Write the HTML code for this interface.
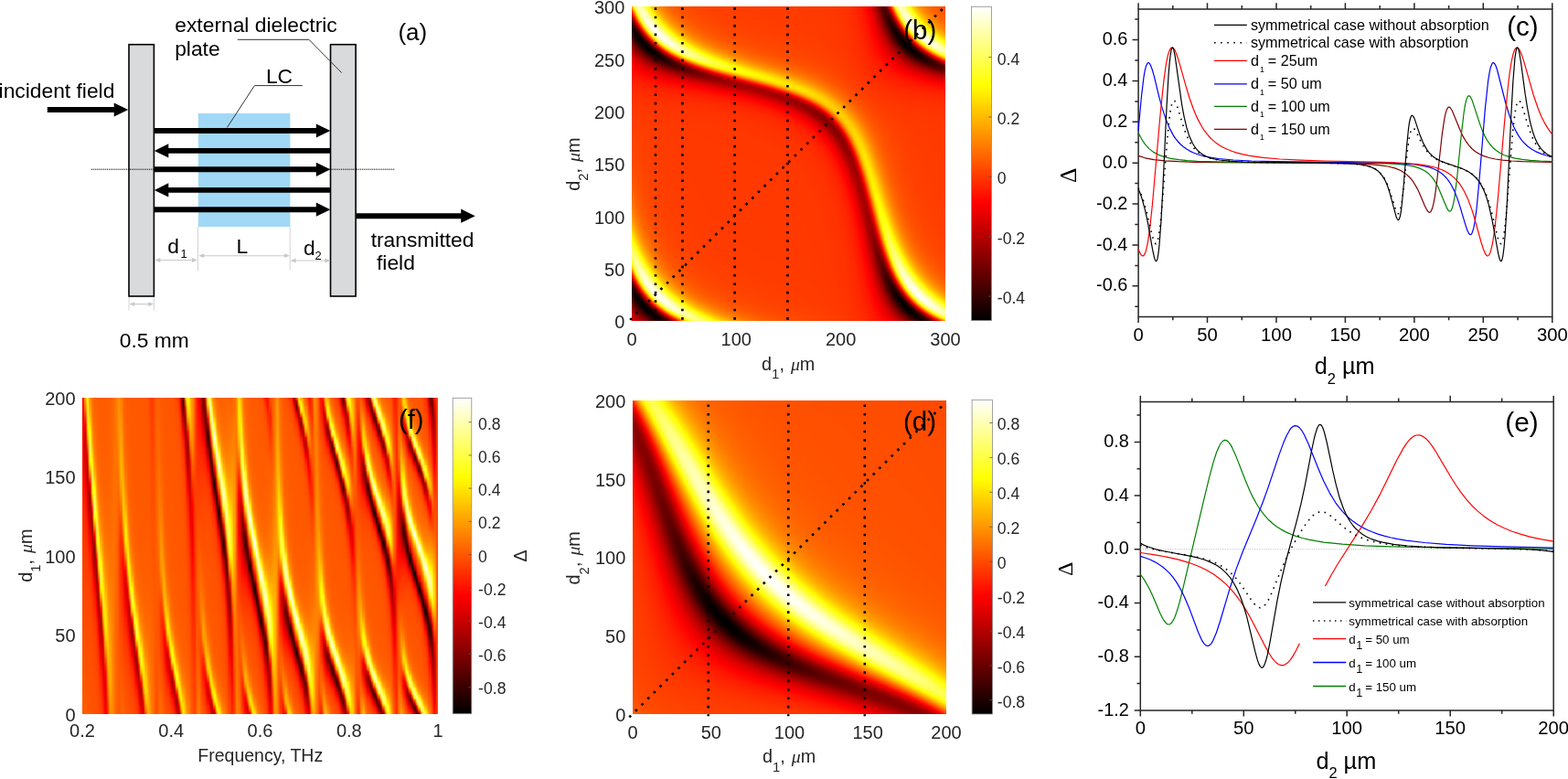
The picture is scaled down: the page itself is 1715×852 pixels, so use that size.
<!DOCTYPE html><html><head><meta charset="utf-8"><title>Figure</title><style>html,body{margin:0;padding:0;background:#fff;}#wrap{position:relative;width:1715px;height:852px;overflow:hidden;background:#fff;}canvas{position:absolute;display:block;}#cb{left:691px;top:7px;background:#ff4000;}#cd{left:692px;top:438px;background:#ff5a00;}#cf{left:90px;top:435px;background:#ff6400;}svg{position:absolute;left:0;top:0;}.fb{position:absolute;overflow:hidden;}.fb div{position:absolute;left:0;width:100%;}</style></head><body><div id="wrap">
<div class="fb" style="left:691px;top:7px;width:343px;height:344px"><div style="top:0px;height:4px;background:linear-gradient(90deg,#ff8c00 0px,#ffe601 2px,#fffd1b 4px,#ffff93 6px,#ffffb7 10px,#ffff97 12px,#fffe12 18px,#ffee00 20px,#ffad00 26px,#ff8000 34px,#ff5000 54px,#ff3f00 92px,#ff3400 228px,#ff2300 246px,#ff0100 258px,#d40000 264px,#680000 272px,#510000 276px,#580000 278px,#770000 280px,#d90000 282px,#f70d00 284px,#ff3400 284px,#ffec04 288px,#fffe21 290px,#ffff97 292px,#ffffb6 296px,#ffff94 298px,#fff703 306px,#ffab00 312px,#ff7f00 320px,#ff4e00 342px)"></div><div style="top:4px;height:4px;background:linear-gradient(90deg,#ff3200 0px,#ffeb05 4px,#ffff54 6px,#ffff9e 8px,#ffffc5 12px,#ffffa8 14px,#ffff22 20px,#fff703 22px,#ffad00 30px,#ff8100 36px,#ff5100 58px,#ff4000 96px,#ff3400 228px,#ff2500 246px,#f90000 260px,#cb0000 266px,#5b0000 274px,#480000 278px,#520000 280px,#770000 282px,#de0000 284px,#f91100 286px,#fff007 290px,#ffff2a 292px,#ffffa3 294px,#ffffc4 298px,#ffffa5 300px,#ffff1f 306px,#fff503 308px,#ffb400 314px,#ff8500 322px,#ff5200 342px)"></div><div style="top:8px;height:4px;background:linear-gradient(90deg,#d60000 0px,#f40d00 2px,#ff3200 2px,#ffea06 6px,#ffff57 8px,#ffffa4 10px,#ffffd1 14px,#ffffbb 16px,#fffd0f 24px,#ffec00 26px,#ffaf00 32px,#ff8400 40px,#ff5100 62px,#ff4000 100px,#ff3400 230px,#ff2400 248px,#f90000 260px,#c10000 268px,#4e0000 276px,#3f0000 280px,#4c0000 282px,#730000 284px,#dd0000 286px,#f81100 288px,#ffef09 292px,#ffff2c 294px,#ffffa9 296px,#ffffd2 300px,#ffffb8 302px,#ffff1e 310px,#fff503 312px,#ffb600 318px,#ff8700 324px,#ff5700 342px)"></div><div style="top:12px;height:4px;background:linear-gradient(90deg,#840000 0px,#f00a00 4px,#ff2a00 4px,#ffe304 8px,#fffa1f 10px,#ffff4f 10px,#ffffbe 14px,#ffffde 16px,#ffffc0 20px,#fffe13 28px,#fff001 30px,#ffb300 36px,#ff8300 44px,#ff5200 66px,#ff4100 104px,#ff3400 230px,#ff2500 248px,#f80000 262px,#c20000 268px,#430000 278px,#350000 282px,#440000 284px,#6c0000 286px,#d50000 288px,#f30e00 290px,#ffe907 294px,#fffc26 296px,#ffffa7 298px,#ffffd3 300px,#ffffdd 302px,#ffffbd 306px,#ffff23 312px,#fff705 314px,#ffba00 320px,#ff9000 326px,#ff5e00 342px)"></div><div style="top:16px;height:4px;background:linear-gradient(90deg,#460000 0px,#770000 2px,#e50500 6px,#fa1d00 6px,#ffd500 10px,#ffff3a 12px,#ffffb7 16px,#ffffdf 18px,#ffffe7 20px,#ffffb5 24px,#ffff1c 30px,#ffeb00 34px,#ffb200 40px,#ff8400 48px,#ff5400 70px,#ff4200 108px,#ff3400 230px,#ff2500 248px,#f80000 262px,#c40000 270px,#440000 280px,#2b0000 284px,#390000 286px,#600000 288px,#ea0700 292px,#fc2300 292px,#ffdb02 296px,#fff618 298px,#ffff42 298px,#ffffbb 302px,#ffffe7 304px,#ffffe0 306px,#ffffc5 308px,#fffe19 316px,#fff303 318px,#ff9c00 328px,#ff6700 342px)"></div><div style="top:20px;height:4px;background:linear-gradient(90deg,#240000 0px,#390000 2px,#650000 4px,#d10000 8px,#ef0e00 8px,#fe2d00 10px,#ffe006 14px,#ffff4a 16px,#ffffc1 18px,#ffffe7 20px,#ffffef 22px,#ffffc1 26px,#fffe19 34px,#ffea00 38px,#ffb300 44px,#ff8600 52px,#ff5400 74px,#ff4300 112px,#ff3400 232px,#ff2400 250px,#f90000 264px,#c70000 270px,#3c0000 282px,#210000 286px,#2d0000 288px,#500000 290px,#d70100 294px,#ff3400 296px,#ffe508 300px,#ffff53 302px,#ffffc5 304px,#ffffe9 306px,#ffffef 308px,#ffffcf 312px,#ffff28 320px,#fff203 322px,#ffa400 332px,#ff7400 342px)"></div><div style="top:24px;height:4px;background:linear-gradient(90deg,#1c0000 0px,#1f0000 4px,#390000 6px,#6b0000 8px,#d70200 10px,#ff3300 12px,#ffe008 16px,#ffff49 18px,#ffffbf 22px,#ffffe8 24px,#fffff4 26px,#ffffcf 30px,#fffe1b 38px,#ffed00 42px,#ffb000 48px,#ff8600 56px,#ff5700 78px,#ff4400 116px,#ff3400 232px,#ff2400 250px,#fa0000 264px,#c10000 272px,#2b0000 284px,#180000 288px,#200000 290px,#3d0000 292px,#700000 294px,#dc0400 296px,#ff3b00 298px,#ffc300 302px,#fff927 304px,#ffffc3 308px,#ffffea 310px,#fffff4 312px,#ffffcd 316px,#ffff2a 324px,#fff404 326px,#ffaf00 334px,#ff8600 342px)"></div><div style="top:28px;height:4px;background:linear-gradient(90deg,#2a0000 0px,#100000 4px,#260000 8px,#690000 10px,#d30200 14px,#fc2f00 16px,#ffd505 20px,#fffc3a 22px,#ffff8d 24px,#ffffca 26px,#ffffec 28px,#fffff5 30px,#ffffd0 34px,#fffd15 44px,#ffea00 46px,#ffb100 54px,#ff8800 62px,#ff5800 84px,#ff4400 122px,#ff3400 234px,#ff2200 252px,#ff0100 264px,#c60000 274px,#280000 286px,#100000 290px,#1b0000 292px,#3a0000 294px,#6e0000 296px,#d80400 300px,#fe3400 302px,#ffda07 306px,#fffe3f 308px,#ffff93 310px,#ffffce 312px,#ffffee 314px,#fffff5 316px,#ffffcd 320px,#ffff20 328px,#fff709 330px,#ff9e00 342px)"></div><div style="top:32px;height:4px;background:linear-gradient(90deg,#450000 0px,#0f0000 6px,#140000 10px,#450000 12px,#c40000 16px,#f61f00 18px,#ffbc00 22px,#ffdc0a 24px,#fffc3f 26px,#ffff8c 28px,#ffffc6 30px,#ffffe6 32px,#fffff1 34px,#ffffd3 38px,#ffff22 48px,#ffec00 52px,#ffb500 58px,#ff8900 68px,#ff5a00 90px,#ff4600 126px,#ff3400 234px,#ff2200 254px,#ff0200 266px,#c40000 276px,#1e0000 290px,#0a0000 294px,#330000 298px,#630000 300px,#e60c00 304px,#ff4700 306px,#ffc200 308px,#ffe00c 310px,#fffe45 312px,#ffff92 314px,#ffffc9 316px,#ffffe8 318px,#fffff1 320px,#ffffd1 324px,#fffc13 334px,#ffea00 338px,#ffc100 342px)"></div><div style="top:36px;height:4px;background:linear-gradient(90deg,#650000 0px,#120000 8px,#070000 12px,#360000 16px,#c90100 20px,#ff4000 24px,#ffd307 28px,#ffff51 30px,#ffff96 32px,#ffffc5 34px,#ffffe7 38px,#ffffbe 44px,#fffe1b 54px,#ffe900 58px,#ffb600 64px,#ff8c00 74px,#ff5c00 96px,#ff4800 132px,#ff3300 236px,#ff2200 254px,#fe0100 268px,#bb0000 278px,#1a0000 292px,#050000 296px,#180000 300px,#3a0000 302px,#ce0300 306px,#f72600 308px,#ffba00 312px,#ffec1c 314px,#ffff58 316px,#ffffb4 320px,#ffffd7 322px,#ffffe7 324px,#ffffc9 328px,#ffff26 338px,#ffef02 342px)"></div><div style="top:40px;height:4px;background:linear-gradient(90deg,#850000 0px,#130000 10px,#070000 16px,#370000 20px,#da0800 26px,#ff5000 28px,#ffd509 32px,#fff62f 34px,#ffff69 36px,#ffffc2 40px,#ffffd7 44px,#ffffaf 50px,#fffe1b 60px,#ffec01 64px,#ffb500 72px,#ff8e00 80px,#ff5f00 104px,#ff4900 138px,#ff3300 238px,#ff2200 256px,#ff0200 268px,#be0000 280px,#1a0000 296px,#030000 300px,#0f0000 302px,#280000 304px,#690000 308px,#c50100 310px,#fb3600 314px,#ffc000 318px,#ffeb1d 320px,#ffff4e 322px,#ffffb6 326px,#ffffd8 330px,#ffffb9 334px,#ffff44 342px)"></div><div style="top:44px;height:4px;background:linear-gradient(90deg,#a30000 0px,#1a0000 14px,#050000 18px,#310000 24px,#db0a00 30px,#ff4800 34px,#ffc403 38px,#fff62f 40px,#ffff5f 42px,#ffffad 46px,#ffffc2 50px,#ffffa4 56px,#fffd18 66px,#ffe500 72px,#ff8f00 88px,#ff6100 112px,#ff3200 240px,#ff2000 258px,#ff0200 270px,#bb0000 284px,#220000 298px,#050000 304px,#0e0000 306px,#340000 310px,#c80200 316px,#f93300 318px,#ffc805 324px,#fff733 326px,#ffff91 330px,#ffffbf 334px,#ffffbb 338px,#ffff97 342px)"></div><div style="top:48px;height:4px;background:linear-gradient(90deg,#bd0000 0px,#200000 18px,#0b0000 24px,#1d0000 26px,#450000 30px,#b70000 34px,#e10e00 36px,#ff4800 40px,#ffb800 44px,#ffeb1e 46px,#ffff51 50px,#ffff93 54px,#ffffa7 58px,#ffff91 62px,#fffd1a 74px,#ffea00 78px,#ff9300 96px,#ff6500 120px,#ff3200 242px,#ff0200 272px,#c30000 286px,#1f0000 304px,#0a0000 308px,#150000 312px,#380000 314px,#bb0000 320px,#e31100 322px,#ff4d00 326px,#ffbc00 330px,#ffed20 332px,#ffff89 338px,#ffffa6 342px)"></div><div style="top:52px;height:4px;background:linear-gradient(90deg,#d30000 0px,#270000 22px,#140000 28px,#400000 34px,#d80900 42px,#ff4900 46px,#ffaa00 50px,#ffdf0e 54px,#ffff4e 58px,#ffff7c 62px,#ffff88 66px,#ffff74 72px,#fffe19 82px,#ffed01 86px,#ff9700 106px,#ff6600 130px,#ff3100 244px,#fe0100 276px,#c10000 290px,#2d0000 308px,#140000 314px,#360000 320px,#620000 322px,#b50000 326px,#e81700 330px,#ff4d00 332px,#ffc202 338px,#fff935 342px)"></div><div style="top:56px;height:4px;background:linear-gradient(90deg,#e50000 0px,#ac0000 12px,#370000 28px,#220000 34px,#440000 40px,#e10d00 50px,#ff4600 54px,#ffac00 60px,#ffd90a 62px,#ffff47 70px,#ffff62 74px,#ffff63 78px,#ffff1c 90px,#ffea00 96px,#ff9800 116px,#ff6800 142px,#ff2f00 248px,#fe0200 278px,#c90000 292px,#360000 314px,#220000 320px,#460000 326px,#c60200 334px,#f52800 338px,#ff7400 342px)"></div><div style="top:60px;height:4px;background:linear-gradient(90deg,#f40000 0px,#bc0000 14px,#440000 34px,#340000 40px,#560000 48px,#da0900 58px,#fd4000 64px,#ffce04 72px,#fff41b 78px,#ffff32 82px,#ffff43 90px,#fffb0b 102px,#ff9a00 128px,#ff6a00 152px,#ff2d00 252px,#ff0300 282px,#cf0000 296px,#480000 320px,#340000 326px,#580000 334px,#c30000 342px)"></div><div style="top:64px;height:4px;background:linear-gradient(90deg,#fe0200 0px,#d50000 16px,#5d0000 40px,#490000 48px,#670000 58px,#c90000 66px,#ff4100 74px,#ffb000 82px,#ffe708 88px,#ffff26 100px,#ffff12 108px,#ffee00 116px,#ff9c00 140px,#ff6e00 162px,#ff2a00 258px,#fe0200 286px,#cd0000 304px,#4e0000 330px,#4a0000 336px,#610000 342px)"></div><div style="top:68px;height:4px;background:linear-gradient(90deg,#ff0c00 0px,#e40000 18px,#700000 50px,#5f0000 58px,#770000 68px,#cc0000 78px,#ff3d00 86px,#ffa700 96px,#ffda01 102px,#fffa0b 110px,#ffff09 118px,#fff200 126px,#ff9700 154px,#ff6d00 176px,#ff2500 266px,#fe0200 292px,#d80000 308px,#600000 342px)"></div><div style="top:72px;height:4px;background:linear-gradient(90deg,#ff1400 0px,#f30000 22px,#750000 68px,#890000 80px,#d40200 90px,#fd3600 100px,#ff9d00 110px,#ffd300 116px,#fffb00 130px,#ffef00 138px,#ff9300 168px,#ff6700 190px,#fe0300 300px,#dc0000 318px,#8d0000 342px)"></div><div style="top:76px;height:4px;background:linear-gradient(90deg,#ff1b00 0px,#f70000 30px,#890000 82px,#970000 92px,#d30000 104px,#ff3800 114px,#ffcb00 132px,#ffe900 138px,#fff100 146px,#ffe100 156px,#ff8000 188px,#ff5600 212px,#fe0300 310px,#bf0000 342px)"></div><div style="top:80px;height:4px;background:linear-gradient(90deg,#ff2100 0px,#fa0100 42px,#980000 98px,#a60000 108px,#d80100 118px,#f92000 126px,#ffc700 146px,#ffe200 152px,#ffeb00 160px,#ffdc00 168px,#ff7c00 198px,#ff5200 222px,#ff0600 320px,#e50000 342px)"></div><div style="top:84px;height:4px;background:linear-gradient(90deg,#ff2600 0px,#fa0100 60px,#a20000 114px,#ac0000 124px,#d90100 134px,#f92100 142px,#ffc500 160px,#ffe600 172px,#ffd700 180px,#ff7600 208px,#ff4e00 230px,#fc0200 342px)"></div><div style="top:88px;height:4px;background:linear-gradient(90deg,#ff2a00 0px,#fb0200 78px,#a70000 130px,#b10000 140px,#d60000 148px,#f92000 156px,#ffc000 172px,#ffe200 182px,#ffd300 190px,#ff7200 216px,#ff4b00 236px,#ff1100 342px)"></div><div style="top:92px;height:4px;background:linear-gradient(90deg,#ff2e00 0px,#fd0400 94px,#a70000 146px,#b00000 154px,#d90100 162px,#fa2200 168px,#ffbd00 184px,#ffdd00 192px,#ffcf00 200px,#ff6e00 224px,#ff4800 242px,#ff1d00 342px)"></div><div style="top:96px;height:4px;background:linear-gradient(90deg,#ff3100 0px,#ff2000 74px,#fd0400 114px,#a30000 160px,#ad0000 166px,#d80000 174px,#f92000 180px,#ffb700 192px,#ffd800 200px,#ffcd00 206px,#ff6b00 230px,#ff4700 248px,#ff2500 342px)"></div><div style="top:100px;height:4px;background:linear-gradient(90deg,#ff3300 0px,#ff2300 88px,#fd0400 130px,#9e0000 172px,#a80000 178px,#d20000 184px,#f71800 188px,#ffbb00 202px,#ffd400 208px,#ff6d00 234px,#ff4800 250px,#ff2b00 342px)"></div><div style="top:104px;height:4px;background:linear-gradient(90deg,#ff3600 0px,#ff2600 100px,#fe0400 144px,#e80000 156px,#980000 182px,#a60000 188px,#d20000 192px,#fa2000 198px,#ffb100 208px,#ffd100 214px,#ff6d00 238px,#ff4800 254px,#ff2e00 342px)"></div><div style="top:108px;height:4px;background:linear-gradient(90deg,#ff3800 0px,#ff2800 112px,#fe0400 156px,#e90000 166px,#920000 190px,#a20000 196px,#d70000 200px,#ff2e00 206px,#ffaf00 214px,#ffce00 220px,#ff6d00 242px,#ff4900 258px,#ff3100 342px)"></div><div style="top:112px;height:4px;background:linear-gradient(90deg,#ff3900 0px,#ff2a00 122px,#fe0500 164px,#e90000 174px,#8d0000 198px,#a00000 202px,#d00000 206px,#fb1f00 210px,#ffac00 218px,#ffcd00 224px,#ff6e00 244px,#ff4900 260px,#ff3300 342px)"></div><div style="top:116px;height:4px;background:linear-gradient(90deg,#ff3b00 0px,#ff2c00 130px,#ff0700 172px,#e80000 182px,#890000 204px,#a00000 208px,#da0000 212px,#fb1d00 216px,#ffa600 222px,#ffc400 226px,#ffcd00 228px,#ff7000 248px,#ff4b00 262px,#ff3500 342px)"></div><div style="top:120px;height:4px;background:linear-gradient(90deg,#ff3d00 0px,#ff2d00 140px,#ff0600 180px,#e70000 190px,#860000 208px,#950000 212px,#cd0000 216px,#ef0800 218px,#ff2800 220px,#ff8500 224px,#ffb500 228px,#ffce00 232px,#ff7000 250px,#ff4d00 264px,#ff3600 342px)"></div><div style="top:124px;height:4px;background:linear-gradient(90deg,#ff3e00 0px,#ff2e00 148px,#ff2000 172px,#fe0500 188px,#e60000 196px,#900000 210px,#850000 214px,#9c0000 218px,#cc0000 220px,#fb1800 224px,#ffb100 230px,#ffd000 236px,#ff7300 252px,#ff4e00 266px,#ff3700 342px)"></div><div style="top:128px;height:4px;background:linear-gradient(90deg,#ff3f00 0px,#ff2f00 154px,#ff2100 178px,#ff0600 192px,#e60000 200px,#910000 214px,#850000 218px,#9f0000 222px,#d60000 224px,#ff2500 228px,#ff7600 230px,#ffb200 234px,#ffd200 238px,#ff7100 256px,#ff4e00 268px,#ff3800 342px)"></div><div style="top:132px;height:4px;background:linear-gradient(90deg,#ff4100 0px,#ff3000 160px,#ff2300 182px,#ff0700 198px,#e90000 204px,#850000 220px,#9c0000 224px,#d40000 228px,#fa0f00 230px,#ff2700 230px,#ff7b00 234px,#ffb800 236px,#ffd400 240px,#ff7200 258px,#ff4f00 270px,#ff3800 342px)"></div><div style="top:136px;height:4px;background:linear-gradient(90deg,#ff4200 0px,#ff3100 166px,#ff2200 188px,#ff0500 202px,#e40000 210px,#870000 224px,#9f0000 228px,#da0000 230px,#fd1500 232px,#ffb200 238px,#ffcc00 240px,#ffd700 244px,#ff7300 260px,#ff4f00 272px,#ff3900 342px)"></div><div style="top:140px;height:4px;background:linear-gradient(90deg,#ff4300 0px,#ff3100 170px,#ff2300 192px,#ff0500 206px,#e70000 212px,#890000 226px,#a60000 230px,#e80100 234px,#ff2500 236px,#ffaf00 240px,#ffcc00 242px,#ffda00 246px,#ff7800 260px,#ff5100 274px,#ff3f00 296px,#ff3900 342px)"></div><div style="top:144px;height:4px;background:linear-gradient(90deg,#ff4500 0px,#ff3200 174px,#ff2400 196px,#ff0600 210px,#ee0000 214px,#940000 226px,#8c0000 230px,#a20000 232px,#e20000 236px,#ff1f00 238px,#ffaf00 242px,#ffce00 244px,#ffdc00 248px,#ff7800 262px,#ff5200 274px,#ff3f00 296px,#ff3900 342px)"></div><div style="top:148px;height:4px;background:linear-gradient(90deg,#ff4600 0px,#ff3200 180px,#ff2300 200px,#ff0400 214px,#8e0000 232px,#a20000 234px,#e10000 238px,#ff1f00 240px,#ffb200 244px,#ffd100 246px,#ffde00 250px,#ff7600 264px,#ff5100 276px,#ff4000 298px,#ff3a00 342px)"></div><div style="top:152px;height:4px;background:linear-gradient(90deg,#ff4700 0px,#ff3200 182px,#ff2400 204px,#ff0700 216px,#ed0000 220px,#910000 234px,#a40000 236px,#e40000 240px,#ff2400 242px,#ffb800 246px,#ffe000 250px,#ffd600 254px,#ff7a00 266px,#ff5200 278px,#ff4000 298px,#ff3a00 342px)"></div><div style="top:156px;height:4px;background:linear-gradient(90deg,#ff4900 0px,#ff3300 186px,#ff2400 206px,#ff0500 218px,#f00000 222px,#930000 236px,#a80000 238px,#ec0000 242px,#fd0e00 242px,#ff9000 246px,#ffc000 248px,#ffe200 252px,#ff7d00 266px,#ff5300 278px,#ff4000 300px,#ff3a00 342px)"></div><div style="top:160px;height:4px;background:linear-gradient(90deg,#ff4a00 0px,#ff3200 190px,#ff2400 210px,#ff0300 222px,#960000 238px,#af0000 240px,#da0000 242px,#ff1800 244px,#ffb500 250px,#ffd700 252px,#ffe400 254px,#ffda00 256px,#ff7a00 268px,#ff5400 280px,#ff4100 300px,#ff3a00 342px)"></div><div style="top:164px;height:4px;background:linear-gradient(90deg,#ff4c00 0px,#ff3c00 36px,#ff3300 192px,#ff2500 212px,#ff0400 224px,#990000 238px,#a80000 242px,#e70000 244px,#fc0a00 246px,#ff8e00 250px,#ffc100 252px,#ffde00 254px,#ffe600 256px,#ff7c00 270px,#ff5500 280px,#ff4100 300px,#ff3a00 342px)"></div><div style="top:168px;height:4px;background:linear-gradient(90deg,#ff4d00 0px,#ff3c00 36px,#ff3300 194px,#ff2500 214px,#ff0400 226px,#9b0000 240px,#b00000 244px,#db0000 246px,#f50200 246px,#ff1900 248px,#ffba00 252px,#ffdc00 254px,#ffe800 256px,#ffdc00 260px,#ff7e00 270px,#ff5600 282px,#ff4100 302px,#ff3a00 342px)"></div><div style="top:172px;height:4px;background:linear-gradient(90deg,#ff4f00 0px,#ff3c00 36px,#ff3300 198px,#ff2400 216px,#ff0300 228px,#9d0000 242px,#ac0000 244px,#ec0000 248px,#fe0e00 248px,#ff9600 252px,#ffc800 254px,#ffe300 256px,#ffe900 258px,#ff8000 272px,#ff5600 282px,#ff4200 302px,#ff3a00 342px)"></div><div style="top:176px;height:4px;background:linear-gradient(90deg,#ff5100 0px,#ff3d00 36px,#ff3300 200px,#ff2400 218px,#ff0200 230px,#9f0000 244px,#b70000 246px,#e30000 248px,#fb0600 250px,#ffc300 256px,#ffe200 258px,#ffeb00 260px,#ff8200 272px,#ff5700 284px,#ff4200 302px,#ff3b00 342px)"></div><div style="top:180px;height:4px;background:linear-gradient(90deg,#ff5300 0px,#ff3d00 36px,#ff3300 202px,#ff2500 220px,#ff0500 230px,#a10000 244px,#b30000 248px,#dc0000 250px,#f70200 250px,#ff1b00 252px,#ffbf00 256px,#ffe100 258px,#ffed00 260px,#ff7d00 274px,#ff5700 284px,#ff4200 304px,#ff3b00 342px)"></div><div style="top:184px;height:4px;background:linear-gradient(90deg,#ff5600 0px,#ff3d00 36px,#ff3300 204px,#ff2500 222px,#ff0300 232px,#a20000 246px,#b10000 248px,#f20000 252px,#ff1400 252px,#ffbb00 258px,#ffe000 260px,#ffee00 262px,#ffe200 264px,#ff7f00 276px,#ff5800 286px,#ff4200 304px,#ff3b00 342px)"></div><div style="top:188px;height:4px;background:linear-gradient(90deg,#ff5900 0px,#ff3d00 36px,#ff3300 206px,#ff2600 222px,#ff0500 234px,#a30000 248px,#be0000 250px,#ed0000 252px,#ff0e00 254px,#ff9a00 258px,#ffce00 260px,#ffea00 262px,#fff000 264px,#ff8000 276px,#ff5800 286px,#ff4300 304px,#ff3b00 342px)"></div><div style="top:192px;height:4px;background:linear-gradient(90deg,#ff5c00 0px,#ff3e00 36px,#ff3300 208px,#ff2500 224px,#ff0200 236px,#a40000 248px,#bb0000 252px,#e90000 254px,#fe0a00 254px,#ff9600 258px,#ffcd00 260px,#ffeb00 262px,#fff200 264px,#ff8200 278px,#ff5900 288px,#ff4300 306px,#ff3b00 342px)"></div><div style="top:196px;height:4px;background:linear-gradient(90deg,#ff5f00 0px,#ff4800 14px,#ff3e00 36px,#ff3300 210px,#ff2400 226px,#ff0400 236px,#a50000 250px,#b90000 252px,#e50000 254px,#fd0700 256px,#ffcb00 262px,#ffec00 264px,#fff400 266px,#ff8300 278px,#ff5900 288px,#ff4300 306px,#ff3b00 342px)"></div><div style="top:200px;height:4px;background:linear-gradient(90deg,#ff6300 0px,#ff4a00 14px,#ff3e00 36px,#ff3300 212px,#ff2500 228px,#ff0500 238px,#a50000 250px,#b80000 254px,#e20000 256px,#fb0500 256px,#ffcb00 262px,#ffed00 264px,#fff600 266px,#ff8500 280px,#ff5a00 290px,#ff4300 308px,#ff3b00 342px)"></div><div style="top:204px;height:4px;background:linear-gradient(90deg,#ff6800 0px,#ff4b00 14px,#ff3f00 36px,#ff3300 212px,#ff2500 228px,#ff0600 238px,#a50000 252px,#b60000 254px,#e00000 256px,#fa0300 258px,#ff2000 258px,#ffca00 264px,#ffee00 266px,#fff900 268px,#ffe800 270px,#ff8600 280px,#ff5b00 290px,#ff4400 308px,#ff3c00 342px)"></div><div style="top:208px;height:4px;background:linear-gradient(90deg,#ff6d00 0px,#ff4d00 14px,#ff3f00 36px,#ff3200 216px,#ff2400 230px,#ff0100 240px,#a50000 252px,#b50000 256px,#de0000 258px,#f90200 258px,#ff1e00 260px,#ffca00 264px,#ffef00 266px,#fffb00 268px,#ffec00 272px,#ff8800 282px,#ff5b00 292px,#ff4400 308px,#ff3c00 342px)"></div><div style="top:212px;height:4px;background:linear-gradient(90deg,#ff7300 0px,#ff4f00 14px,#ff4000 36px,#ff3300 216px,#ff2400 232px,#ff0200 242px,#a50000 254px,#b40000 256px,#dc0000 258px,#f70200 260px,#ff1c00 260px,#ffca00 266px,#fff100 268px,#fffe00 270px,#ffef00 272px,#ff8a00 282px,#ff5c00 292px,#ff4500 310px,#ff3c00 342px)"></div><div style="top:216px;height:4px;background:linear-gradient(90deg,#ff7a00 0px,#ff5400 12px,#ff4300 28px,#ff3400 212px,#ff2600 232px,#ff0200 242px,#ae0000 252px,#a30000 256px,#b20000 258px,#da0000 260px,#f50100 260px,#ff1900 262px,#ffad00 266px,#ffe200 268px,#ffff04 270px,#fff300 274px,#ff8500 284px,#ff5d00 294px,#ff4500 310px,#ff3c00 342px)"></div><div style="top:220px;height:4px;background:linear-gradient(90deg,#ff8200 0px,#ff5700 12px,#ff4300 30px,#ff3500 214px,#ff2600 232px,#ff0200 244px,#a20000 256px,#b00000 258px,#d80000 260px,#f40100 262px,#ff1700 262px,#ffac00 266px,#ffe300 268px,#ffff02 270px,#ffff08 272px,#fff800 274px,#ff8700 286px,#ff5e00 294px,#ff4600 310px,#ff3c00 342px)"></div><div style="top:224px;height:4px;background:linear-gradient(90deg,#ff8b00 0px,#ff5a00 12px,#ff4400 30px,#ff3500 214px,#ff2600 234px,#ff0200 244px,#a10000 258px,#bf0000 260px,#f20000 262px,#ff1500 264px,#ffac00 268px,#ffe400 270px,#ffff06 272px,#ffff07 274px,#ff9100 286px,#ff5f00 296px,#ff4700 312px,#ff3d00 342px)"></div><div style="top:228px;height:4px;background:linear-gradient(90deg,#ff9600 0px,#ff5e00 12px,#ff4400 30px,#ff3500 216px,#ff2600 234px,#ff0100 246px,#9f0000 258px,#bc0000 262px,#f00000 264px,#ff1300 264px,#ffab00 268px,#ffe600 270px,#ffff0a 272px,#ffff0f 276px,#fff700 278px,#ff8c00 288px,#ff6100 296px,#ff4700 312px,#ff3d00 342px)"></div><div style="top:232px;height:4px;background:linear-gradient(90deg,#ffa200 0px,#ff6300 12px,#ff4600 30px,#ff3500 216px,#ff2700 234px,#ff0600 246px,#9c0000 260px,#b90000 262px,#ed0000 264px,#ff1000 266px,#ffab00 270px,#fffb01 272px,#ffff1a 274px,#ffff0c 278px,#ff9000 288px,#ff6200 298px,#ff4800 314px,#ff3d00 342px)"></div><div style="top:236px;height:4px;background:linear-gradient(90deg,#ffb100 0px,#ff8600 6px,#ff6400 12px,#ff4600 32px,#ff3500 218px,#ff2700 236px,#ff0500 246px,#9a0000 260px,#b60000 264px,#e90000 266px,#fe0d00 266px,#ffa900 270px,#fffc02 274px,#ffff20 276px,#ffff15 278px,#fff800 280px,#ff8c00 290px,#ff6100 300px,#ff4800 314px,#ff3e00 342px)"></div><div style="top:240px;height:4px;background:linear-gradient(90deg,#ffc100 0px,#ff8a00 6px,#ff6a00 12px,#ff4700 32px,#ff3500 218px,#ff2700 236px,#ff0400 248px,#970000 262px,#b20000 264px,#e50000 266px,#fd0a00 268px,#ffcb00 272px,#fffd04 274px,#ffff2c 278px,#ffff11 280px,#fff200 282px,#ff9000 292px,#ff6300 300px,#ff4900 316px,#ff3e00 342px)"></div><div style="top:244px;height:4px;background:linear-gradient(90deg,#ffd400 0px,#ff9500 6px,#ff7100 12px,#ff4800 32px,#ff3500 220px,#ff2600 238px,#ff0300 248px,#930000 262px,#ae0000 266px,#e00000 268px,#fc0700 268px,#ffc900 274px,#fffd05 276px,#ffff34 278px,#ffff2a 280px,#ffff0b 282px,#ff9400 292px,#ff6500 302px,#ff4a00 316px,#ff3e00 342px)"></div><div style="top:248px;height:4px;background:linear-gradient(90deg,#ffea00 0px,#ffa400 6px,#ff7400 14px,#ff4900 34px,#ff3400 220px,#ff2600 238px,#ff0200 250px,#8f0000 264px,#a90000 266px,#da0000 268px,#f80400 270px,#ffc700 274px,#fffd06 276px,#ffff3c 280px,#ffff35 282px,#ffff18 284px,#fff500 286px,#ff9100 294px,#ff6400 304px,#ff4b00 318px,#ff3f00 342px)"></div><div style="top:252px;height:4px;background:linear-gradient(90deg,#fffd06 0px,#ffa100 8px,#ff7300 16px,#ff5600 26px,#ff4500 42px,#ff3500 220px,#ff2500 240px,#ff0100 250px,#8b0000 264px,#a30000 268px,#d30000 270px,#f40200 270px,#ff1d00 272px,#ffc300 276px,#fffd07 278px,#ffff3a 280px,#ffff47 282px,#ffff14 286px,#fff100 288px,#ff9700 296px,#ff6700 304px,#ff4c00 318px,#ff4000 342px)"></div><div style="top:256px;height:4px;background:linear-gradient(90deg,#ffff28 0px,#fff000 4px,#ff9f00 10px,#ff7300 18px,#ff5600 28px,#ff4500 44px,#ff3500 220px,#ff2700 240px,#ff0500 250px,#eb0000 254px,#870000 266px,#9c0000 268px,#ed0000 272px,#ff1400 272px,#ffbd00 276px,#fffc06 278px,#ffff3e 280px,#ffff52 282px,#ffff45 284px,#ffff10 288px,#ffee00 290px,#ff9e00 296px,#ff6a00 306px,#ff4d00 320px,#ff4000 342px)"></div><div style="top:260px;height:4px;background:linear-gradient(90deg,#ffff4a 0px,#ffff11 4px,#ffee00 6px,#ff9e00 12px,#ff6f00 20px,#ff5500 30px,#ff4500 46px,#ff3500 222px,#ff2600 240px,#ff0400 252px,#e10000 256px,#820000 266px,#940000 270px,#e20000 272px,#fc0c00 274px,#ffb500 278px,#fffa05 280px,#ffff41 282px,#ffff5d 284px,#ffff55 286px,#ffff23 288px,#ffeb00 292px,#ff9d00 298px,#ff6a00 308px,#ff4f00 320px,#ff4100 342px)"></div><div style="top:264px;height:4px;background:linear-gradient(90deg,#ffff66 0px,#fff903 6px,#ffb000 12px,#ff7d00 20px,#ff4c00 40px,#ff3400 224px,#ff2600 242px,#fc0000 254px,#890000 266px,#7c0000 268px,#9e0000 272px,#f70500 274px,#fff502 280px,#ffff59 284px,#ffff6a 286px,#ffff5a 288px,#ffff22 290px,#fff702 292px,#ff9d00 300px,#ff6b00 310px,#ff5000 322px,#ff4200 342px)"></div><div style="top:268px;height:4px;background:linear-gradient(90deg,#ffff75 0px,#ffff62 4px,#ffff11 8px,#ffed00 10px,#ffa700 16px,#ff7e00 22px,#ff4d00 42px,#ff3e00 80px,#ff3400 224px,#ff2500 242px,#fb0000 254px,#850000 266px,#750000 270px,#920000 272px,#ec0100 276px,#ff1700 276px,#ffee00 282px,#ffff18 282px,#ffff5c 284px,#ffff76 286px,#ffff5f 290px,#ffff23 292px,#fff702 294px,#ffa600 302px,#ff7000 310px,#ff5300 322px,#ff4300 342px)"></div><div style="top:272px;height:4px;background:linear-gradient(90deg,#ffff6e 0px,#ffff83 2px,#ffff77 4px,#ffff13 10px,#ffef00 12px,#ffa900 18px,#ff7b00 24px,#ff4d00 44px,#ff3400 226px,#ff2400 244px,#fa0000 256px,#6e0000 270px,#860000 274px,#f90a00 278px,#ffe200 282px,#fffc0e 284px,#ffff72 286px,#ffff83 288px,#ffff65 292px,#ffff10 296px,#ffec00 298px,#ff9f00 304px,#ff7100 312px,#ff5400 324px,#ff4500 342px)"></div><div style="top:276px;height:4px;background:linear-gradient(90deg,#ffff4c 0px,#ffff82 2px,#ffff91 4px,#ffff80 6px,#ffff19 12px,#fff200 14px,#ffac00 20px,#ff7d00 26px,#ff4e00 46px,#ff3e00 84px,#ff3400 226px,#ff2600 244px,#f90000 256px,#d10000 262px,#740000 270px,#680000 272px,#8c0000 276px,#ec0200 278px,#ff1a00 280px,#fff505 284px,#ffff71 288px,#ffff91 290px,#ffff6d 294px,#ffff15 298px,#fff000 300px,#ffa200 306px,#ff7400 314px,#ff5700 326px,#ff4700 342px)"></div><div style="top:280px;height:4px;background:linear-gradient(90deg,#fffb0f 0px,#ffff80 4px,#ffff9e 6px,#ffff7a 10px,#fffd0d 14px,#ffe900 16px,#ffa800 22px,#ff7c00 30px,#ff4d00 52px,#ff3500 226px,#ff2500 244px,#ff0400 256px,#d90000 262px,#700000 270px,#5f0000 274px,#7c0000 276px,#d50000 280px,#f60900 280px,#ff2d00 282px,#ffe400 286px,#fffd15 286px,#ffff84 290px,#ffff9e 292px,#ffff89 294px,#ffff1d 300px,#fff401 302px,#ffa600 308px,#ff7700 316px,#ff5900 328px,#ff4900 342px)"></div><div style="top:284px;height:4px;background:linear-gradient(90deg,#ffc200 0px,#ffeb03 2px,#fffe1f 2px,#ffff92 6px,#ffffac 8px,#ffff98 10px,#ffff16 16px,#fff100 18px,#ffad00 24px,#ff8000 32px,#ff4f00 52px,#ff3f00 90px,#ff3400 226px,#ff2400 246px,#ff0300 256px,#d80000 262px,#6d0000 272px,#570000 274px,#5e0000 276px,#7e0000 278px,#e10000 282px,#fb1200 282px,#fff005 288px,#ffff7b 290px,#ffffad 294px,#ffff95 296px,#fffe13 302px,#ffee00 304px,#ffac00 310px,#ff7b00 318px,#ff4c00 342px)"></div><div style="top:288px;height:4px;background:linear-gradient(90deg,#ff6f00 0px,#fff208 4px,#ffff9f 8px,#ffffbb 10px,#ffff96 14px,#fffe11 20px,#ffed00 22px,#ffac00 28px,#ff7c00 36px,#ff4e00 58px,#ff3400 228px,#ff2400 246px,#ff0200 258px,#d70000 264px,#600000 274px,#4e0000 276px,#690000 280px,#c10000 282px,#e70200 284px,#fd1a00 284px,#ffd500 288px,#fff60d 290px,#ffff89 292px,#ffffbb 296px,#ffffa4 298px,#fff603 306px,#ffab00 314px,#ff7f00 320px,#ff4f00 342px)"></div><div style="top:292px;height:4px;background:linear-gradient(90deg,#fb1700 0px,#ffd200 4px,#fff40d 6px,#ffff35 6px,#ffffa9 10px,#ffffc9 12px,#ffffa8 16px,#fffd0f 22px,#ffeb00 24px,#ffad00 30px,#ff8200 38px,#ff5000 60px,#ff4000 98px,#ff3400 228px,#ff2500 246px,#fb0000 260px,#c40000 266px,#530000 276px,#450000 278px,#660000 282px,#e90400 286px,#fd1d00 286px,#ffd900 290px,#fff712 292px,#ffff3d 292px,#ffffad 296px,#ffffc8 298px,#ffffa5 302px,#ffff1e 308px,#fff503 310px,#ffb400 316px,#ff8600 322px,#ff5300 342px)"></div><div style="top:296px;height:4px;background:linear-gradient(90deg,#b90000 0px,#fa1600 2px,#ffcf00 6px,#fff20d 8px,#ffff33 8px,#ffffae 12px,#ffffd6 14px,#ffffbc 18px,#ffff23 24px,#ffed00 28px,#ffb000 34px,#ff8000 42px,#ff5200 62px,#ff4100 100px,#ff3400 230px,#ff2400 248px,#fa0000 260px,#c40000 268px,#520000 276px,#3c0000 280px,#420000 282px,#610000 284px,#e60400 288px,#fc1c00 288px,#ffd700 292px,#fff512 294px,#ffff3c 294px,#ffffb2 298px,#ffffd6 300px,#ffffb9 304px,#ffff1f 310px,#fff603 312px,#ffb700 318px,#ff8e00 324px,#ff5900 342px)"></div><div style="top:300px;height:4px;background:linear-gradient(90deg,#6d0000 0px,#d80000 4px,#f41000 4px,#ffeb08 10px,#ffff5a 12px,#ffffc5 14px,#ffffe1 18px,#ffffb0 22px,#fffe16 28px,#ffe600 32px,#ffad00 38px,#ff8000 46px,#ff5200 68px,#ff3400 230px,#ff2400 248px,#fa0000 262px,#c60000 268px,#470000 278px,#320000 282px,#390000 284px,#580000 286px,#910000 288px,#de0200 290px,#f81400 290px,#ffcc00 294px,#ffef0c 296px,#fffe30 296px,#ffff8d 298px,#ffffc8 300px,#ffffe1 304px,#ffffbf 306px,#ffff26 314px,#fff001 316px,#ff9200 328px,#ff6100 342px)"></div><div style="top:304px;height:4px;background:linear-gradient(90deg,#380000 0px,#7c0000 4px,#ea0700 6px,#fc2300 8px,#ffda02 12px,#ffff41 14px,#ffffbb 16px,#ffffe2 18px,#ffffea 20px,#ffffcb 24px,#ffff20 32px,#ffee00 34px,#ffb400 40px,#ff8600 48px,#ff5500 70px,#ff4200 108px,#ff3400 232px,#ff2300 250px,#fa0000 262px,#be0000 270px,#3d0000 280px,#280000 284px,#2e0000 286px,#4c0000 288px,#820000 290px,#ee0b00 292px,#fe2900 294px,#ffdf05 298px,#fff81d 298px,#ffff4a 300px,#ffffc0 302px,#ffffea 306px,#ffffc8 310px,#ffff1d 318px,#fff504 320px,#ff9e00 330px,#ff6b00 342px)"></div><div style="top:308px;height:4px;background:linear-gradient(90deg,#1e0000 0px,#2b0000 2px,#4e0000 4px,#d40100 8px,#ff3000 10px,#ffe107 14px,#ffff4c 16px,#ffffc1 20px,#ffffe8 22px,#fffff1 24px,#ffffd6 26px,#ffff1e 36px,#ffee01 38px,#ffaf00 46px,#ff8500 54px,#ff5600 76px,#ff4300 112px,#ff3400 232px,#ff2300 250px,#fb0000 264px,#c20000 272px,#360000 282px,#1f0000 286px,#2d0000 288px,#520000 290px,#da0300 294px,#ff3800 296px,#ffe60a 300px,#ffff54 302px,#ffffc6 306px,#ffffea 308px,#fffff1 310px,#ffffd4 312px,#ffff1b 322px,#fff504 324px,#ffa700 332px,#ff7900 342px)"></div><div style="top:312px;height:4px;background:linear-gradient(90deg,#1f0000 0px,#170000 4px,#280000 6px,#6b0000 8px,#d60300 12px,#fe3300 14px,#ffde08 18px,#ffff45 20px,#ffffbb 22px,#ffffe6 24px,#fffff5 26px,#ffffd4 30px,#ffff23 40px,#ffe800 44px,#ffae00 50px,#ff8500 58px,#ff5700 80px,#ff4400 118px,#ff3400 232px,#ff2200 252px,#fc0000 264px,#bc0000 274px,#310000 284px,#160000 288px,#1f0000 290px,#3c0000 292px,#700000 294px,#dc0500 298px,#ff3a00 300px,#ffe30a 304px,#ffff4d 306px,#ffffc0 308px,#ffffe8 310px,#fffff5 312px,#ffffd2 316px,#ffff1f 326px,#fff707 328px,#ffb300 336px,#ff8d00 342px)"></div><div style="top:316px;height:4px;background:linear-gradient(90deg,#320000 0px,#0f0000 4px,#180000 8px,#4b0000 10px,#cf0100 14px,#fa2b00 16px,#ffcf03 20px,#ffea14 22px,#ffff59 24px,#ffffc2 26px,#ffffe8 28px,#fffff4 30px,#ffffd6 34px,#fffe1d 44px,#ffe700 48px,#ffb000 56px,#ff8800 64px,#ff5800 86px,#ff4500 122px,#ff3400 234px,#ff2200 252px,#ff0200 264px,#c20000 274px,#240000 288px,#0e0000 292px,#380000 296px,#b00000 300px,#d40300 300px,#fc3000 302px,#ffaf00 306px,#ffed18 308px,#ffff61 310px,#ffffc7 312px,#ffffea 314px,#fffff4 316px,#ffffd3 320px,#fffb0e 332px,#ffe500 334px,#ffa900 342px)"></div><div style="top:320px;height:4px;background:linear-gradient(90deg,#4f0000 0px,#0e0000 6px,#110000 10px,#590000 14px,#db0700 18px,#fd3600 20px,#ffd106 24px,#ffff54 28px,#ffff9d 30px,#ffffce 32px,#ffffe8 34px,#ffffee 36px,#ffffcc 40px,#fffe1f 50px,#ffea00 54px,#ffb500 60px,#ff8a00 70px,#ff5a00 92px,#ff4600 128px,#ff3300 236px,#ff2200 254px,#fe0100 266px,#c10000 276px,#1c0000 290px,#080000 294px,#1f0000 298px,#440000 300px,#e00900 304px,#fe3b00 306px,#ffd608 310px,#fffa37 312px,#ffffbd 316px,#ffffe0 318px,#ffffee 320px,#ffffc9 326px,#fffb10 336px,#ffcf00 342px)"></div><div style="top:324px;height:4px;background:linear-gradient(90deg,#700000 0px,#120000 8px,#050000 12px,#200000 16px,#460000 18px,#d90800 22px,#fb3300 24px,#ffc401 28px,#fff022 30px,#ffff5e 32px,#ffff9c 34px,#ffffc7 36px,#ffffe3 40px,#ffffb8 46px,#fffd1a 56px,#ffea00 60px,#ff8d00 76px,#ff5d00 98px,#ff4800 134px,#ff3300 236px,#ff2200 254px,#ff0200 268px,#c20000 278px,#190000 294px,#040000 298px,#150000 300px,#340000 302px,#de0900 308px,#fc3800 310px,#ffc803 314px,#fffc42 318px,#ffffb8 322px,#ffffe2 326px,#ffffc3 330px,#fffa0e 342px)"></div><div style="top:328px;height:4px;background:linear-gradient(90deg,#900000 0px,#150000 12px,#050000 16px,#200000 20px,#430000 22px,#e30e00 28px,#fc3b00 30px,#ffc101 34px,#fff732 36px,#ffff69 38px,#ffffbd 42px,#ffffd1 46px,#ffffab 52px,#fffc12 62px,#ffe600 66px,#ff8d00 84px,#ff5f00 106px,#ff3200 238px,#ff2100 256px,#ff0100 270px,#bd0000 282px,#1c0000 296px,#040000 302px,#150000 304px,#320000 306px,#b40000 312px,#e61100 314px,#fe4000 316px,#ffc503 320px,#ffed20 322px,#ffff4f 324px,#ffff9f 326px,#ffffcf 330px,#ffffbe 336px,#ffff62 342px)"></div><div style="top:332px;height:4px;background:linear-gradient(90deg,#ac0000 0px,#1e0000 14px,#070000 20px,#390000 26px,#df0c00 32px,#ff4b00 36px,#ffc303 40px,#fff429 42px,#ffff55 44px,#ffffa2 48px,#ffffba 52px,#ffffa0 58px,#fffe1b 68px,#ffe900 74px,#ff9200 90px,#ff6200 114px,#ff3200 240px,#fe0100 272px,#c20000 284px,#1d0000 300px,#060000 306px,#140000 308px,#3b0000 312px,#cd0500 318px,#fa3600 320px,#ffc604 326px,#fff52d 328px,#ffff86 332px,#ffffae 336px,#ffffba 338px,#ffffa8 342px)"></div><div style="top:336px;height:4px;background:linear-gradient(90deg,#c50000 0px,#270000 18px,#0d0000 24px,#190000 28px,#3a0000 30px,#e00d00 38px,#fe4300 42px,#ffd60b 48px,#ffff54 52px,#ffff8e 56px,#ffff9d 60px,#ffff7e 66px,#ffff1f 76px,#ffe900 82px,#ff9400 100px,#ff6500 124px,#ff3100 242px,#ff0200 274px,#bd0000 288px,#250000 304px,#0d0000 310px,#130000 312px,#2e0000 316px,#5f0000 318px,#bc0000 322px,#e21000 324px,#ff4700 328px,#ffb200 332px,#ffe618 334px,#fffd45 338px,#ffff8f 342px)"></div><div style="top:340px;height:4px;background:linear-gradient(90deg,#da0000 0px,#a30000 10px,#300000 24px,#180000 30px,#250000 34px,#420000 36px,#d20700 44px,#fc3e00 48px,#ffd108 56px,#ffff46 62px,#ffff71 66px,#ffff7d 70px,#ffff6b 74px,#fffc10 86px,#ffed01 90px,#ff9600 110px,#ff6600 134px,#ff3000 246px,#fe0100 276px,#c30000 290px,#2f0000 310px,#180000 316px,#260000 320px,#440000 322px,#d50800 330px,#fd4100 334px,#ffb200 340px,#ffe10f 342px)"></div></div>
<div class="fb" style="left:692px;top:438px;width:343px;height:343px"><div style="top:0px;height:4px;background:linear-gradient(90deg,#ff2400 0px,#ffdc00 10px,#fff701 12px,#ffff18 14px,#ffff3b 18px,#ffff4b 22px,#ffff3e 26px,#fff901 34px,#ffb400 46px,#ff8c00 56px,#ff5f00 90px,#ff4500 342px)"></div><div style="top:4px;height:4px;background:linear-gradient(90deg,#f80200 0px,#ffd900 12px,#fff601 14px,#ffff18 16px,#ffff47 20px,#ffff53 24px,#ffff43 28px,#fff901 36px,#ffb800 48px,#ff8c00 60px,#ff6000 94px,#ff4600 342px)"></div><div style="top:8px;height:4px;background:linear-gradient(90deg,#d60000 0px,#fe0a00 4px,#ffd600 14px,#fff400 16px,#ffff17 18px,#ffff4b 22px,#ffff5b 26px,#ffff4d 30px,#fff901 40px,#ffb800 50px,#ff8c00 62px,#ff6000 96px,#ff4700 342px)"></div><div style="top:12px;height:4px;background:linear-gradient(90deg,#b90000 0px,#fd0800 6px,#ffd400 16px,#fff300 18px,#ffff17 20px,#ffff4f 24px,#ffff63 30px,#ffff51 34px,#fff901 42px,#ffb700 54px,#ff8e00 64px,#ff6000 100px,#ff4800 342px)"></div><div style="top:16px;height:4px;background:linear-gradient(90deg,#a30000 0px,#fc0700 8px,#ffd200 18px,#fff200 20px,#ffff16 22px,#ffff5b 28px,#ffff6a 32px,#ffff53 36px,#fff800 46px,#ffb600 56px,#ff8e00 68px,#ff6000 102px,#ff4800 342px)"></div><div style="top:20px;height:4px;background:linear-gradient(90deg,#940000 0px,#b70000 4px,#fc0600 10px,#ffe100 22px,#ffff15 24px,#ffff5f 30px,#ffff71 34px,#ffff5c 38px,#fff700 48px,#ffb500 60px,#ff8d00 70px,#ff6000 104px,#ff4900 342px)"></div><div style="top:24px;height:4px;background:linear-gradient(90deg,#8c0000 0px,#ab0000 6px,#fc0600 12px,#ffe000 24px,#ffff15 26px,#ffff62 32px,#ffff77 36px,#ffff65 40px,#fff500 52px,#ffb800 62px,#ff8c00 74px,#ff6100 106px,#ff4900 342px)"></div><div style="top:28px;height:4px;background:linear-gradient(90deg,#8a0000 0px,#a20000 6px,#fc0600 14px,#ffdf00 26px,#ffff15 28px,#ffff64 34px,#ffff7e 38px,#ffff66 44px,#fffa01 54px,#ffb600 64px,#ff8e00 76px,#ff6100 110px,#ff4a00 342px)"></div><div style="top:32px;height:4px;background:linear-gradient(90deg,#8d0000 0px,#9a0000 8px,#fd0700 16px,#ffef00 28px,#ffff14 30px,#ffff67 36px,#ffff84 40px,#ffff6e 46px,#fff800 56px,#ffb900 66px,#ff9000 78px,#ff6200 110px,#ff4a00 342px)"></div><div style="top:36px;height:4px;background:linear-gradient(90deg,#930000 0px,#870000 4px,#930000 8px,#fe0800 18px,#ffee00 30px,#ffff14 32px,#ffff69 38px,#ffff89 42px,#ffff76 48px,#fffe09 58px,#fff500 60px,#ffb700 70px,#ff8f00 80px,#ff6200 114px,#ff4a00 342px)"></div><div style="top:40px;height:4px;background:linear-gradient(90deg,#9c0000 0px,#870000 6px,#8e0000 10px,#af0000 14px,#f60100 18px,#ffee00 32px,#ffff14 34px,#ffff76 40px,#ffff8e 46px,#ffff76 50px,#fffe06 60px,#fff200 62px,#ffb500 72px,#ff8e00 84px,#ff6100 116px,#ff4b00 342px)"></div><div style="top:44px;height:4px;background:linear-gradient(90deg,#a70000 0px,#870000 6px,#8a0000 10px,#a60000 14px,#f90200 20px,#ffee00 34px,#ffff14 36px,#ffff78 42px,#ffff93 48px,#ffff7d 52px,#fff700 64px,#ffb800 74px,#ff8f00 86px,#ff6200 118px,#ff4b00 342px)"></div><div style="top:48px;height:4px;background:linear-gradient(90deg,#b20000 0px,#8c0000 6px,#860000 12px,#a90000 16px,#fb0300 22px,#ffee00 36px,#ffff14 38px,#ffff79 44px,#ffff98 50px,#ffff84 54px,#fffe07 66px,#fff300 68px,#ffb600 78px,#ff8e00 88px,#ff6200 122px,#ff4b00 342px)"></div><div style="top:52px;height:4px;background:linear-gradient(90deg,#bd0000 0px,#890000 8px,#860000 14px,#ac0000 18px,#fd0500 24px,#ffee00 38px,#ffff14 40px,#ffff7b 46px,#ffff9d 52px,#ffff82 58px,#fff700 70px,#ffb900 80px,#ff9000 90px,#ff6300 122px,#ff5300 182px,#ff4b00 342px)"></div><div style="top:56px;height:4px;background:linear-gradient(90deg,#c80000 0px,#8b0000 10px,#830000 14px,#a40000 20px,#f50000 26px,#ffef00 40px,#ffff14 42px,#ffff7c 48px,#ffffa1 54px,#ffff89 60px,#fffe08 70px,#fff400 72px,#ffb600 82px,#ff8e00 94px,#ff6300 126px,#ff4c00 342px)"></div><div style="top:60px;height:4px;background:linear-gradient(90deg,#d30000 0px,#8c0000 10px,#810000 16px,#9d0000 20px,#f90100 28px,#ffef00 42px,#ffff13 44px,#ffff7d 50px,#ffffa5 56px,#ffff87 62px,#fff800 74px,#ffb900 84px,#ff9000 96px,#ff6300 128px,#ff5300 186px,#ff4c00 342px)"></div><div style="top:64px;height:4px;background:linear-gradient(90deg,#dd0000 0px,#8e0000 12px,#7f0000 16px,#a00000 22px,#fc0300 30px,#ffef00 44px,#ffff13 46px,#ffff7d 52px,#ffffa9 58px,#ffff8d 64px,#fffe09 76px,#fff400 78px,#ffb700 88px,#ff8f00 98px,#ff6300 130px,#ff4c00 342px)"></div><div style="top:68px;height:4px;background:linear-gradient(90deg,#e60000 0px,#900000 12px,#7e0000 18px,#9a0000 24px,#f40000 30px,#ffef00 46px,#ffff13 48px,#ffff8a 56px,#ffffad 62px,#ffff8a 68px,#fff800 80px,#ffb900 90px,#ff9000 100px,#ff6400 132px,#ff5300 190px,#ff4c00 342px)"></div><div style="top:72px;height:4px;background:linear-gradient(90deg,#ee0000 0px,#8b0000 14px,#7d0000 20px,#9d0000 26px,#f80100 32px,#ffef00 48px,#ffff12 50px,#ffff8b 58px,#ffffb1 64px,#ffff91 70px,#ffff09 80px,#fff500 82px,#ffbc00 92px,#ff9200 102px,#ff6400 134px,#ff5300 192px,#ff4c00 342px)"></div><div style="top:76px;height:4px;background:linear-gradient(90deg,#f60000 0px,#8d0000 16px,#7b0000 20px,#970000 26px,#fb0300 34px,#ffef00 50px,#ffff11 52px,#ffff8b 60px,#ffffb5 66px,#ffff97 72px,#fff901 84px,#ffbf00 94px,#ff9400 104px,#ff6500 136px,#ff5300 194px,#ff4c00 342px)"></div><div style="top:80px;height:4px;background:linear-gradient(90deg,#fd0000 0px,#8e0000 16px,#7a0000 22px,#910000 28px,#f40000 36px,#ffee00 52px,#ffff10 54px,#ffff97 62px,#ffffb8 68px,#ffff9e 74px,#ffff0a 86px,#fff600 88px,#ffbd00 96px,#ff9300 108px,#ff6400 140px,#ff5300 196px,#ff4c00 342px)"></div><div style="top:84px;height:4px;background:linear-gradient(90deg,#ff0400 0px,#e20000 6px,#890000 18px,#780000 24px,#940000 30px,#f80100 38px,#ffee00 54px,#ffff0f 56px,#ffff97 64px,#ffffbc 70px,#ffff9b 76px,#ffff11 88px,#fff300 90px,#ffbb00 100px,#ff9200 110px,#ff6400 142px,#ff5400 200px,#ff4c00 342px)"></div><div style="top:88px;height:4px;background:linear-gradient(90deg,#ff0900 0px,#f00000 6px,#8b0000 20px,#770000 24px,#8e0000 30px,#fc0200 40px,#ffed00 56px,#ffff22 60px,#ffff96 66px,#ffffbf 72px,#ffffa2 78px,#ffff0c 90px,#fff700 92px,#ffbe00 102px,#ff9400 112px,#ff6500 144px,#ff5400 202px,#ff4d00 342px)"></div><div style="top:92px;height:4px;background:linear-gradient(90deg,#ff0e00 0px,#f70000 6px,#850000 22px,#750000 26px,#920000 32px,#f50000 40px,#ffed00 58px,#ffff20 62px,#ffffa1 70px,#ffffc2 76px,#ffff9f 82px,#ffff13 92px,#fff400 96px,#ffbc00 104px,#ff9300 116px,#ff6500 148px,#ff5400 204px,#ff4d00 342px)"></div><div style="top:96px;height:4px;background:linear-gradient(90deg,#ff1300 0px,#f80000 6px,#860000 22px,#730000 28px,#8c0000 34px,#f90100 42px,#ffec00 60px,#ffff1e 64px,#ffffa1 72px,#ffffc6 78px,#ffffa7 84px,#fff901 98px,#ffc000 106px,#ff9500 118px,#ff6600 150px,#ff5400 206px,#ff4d00 342px)"></div><div style="top:100px;height:4px;background:linear-gradient(90deg,#ff1700 0px,#f90000 8px,#810000 24px,#710000 30px,#8f0000 36px,#fc0200 44px,#fff701 64px,#ffff1b 66px,#ffff9f 74px,#ffffc3 78px,#ffffc9 80px,#ffffa4 86px,#ffff0b 98px,#fff600 100px,#ffbe00 110px,#ff9400 120px,#ff6600 152px,#ff5400 208px,#ff4d00 342px)"></div><div style="top:104px;height:4px;background:linear-gradient(90deg,#ff1a00 0px,#fa0000 8px,#810000 26px,#6f0000 30px,#890000 36px,#f50000 46px,#fff600 66px,#ffff18 68px,#ffffaa 76px,#ffffcc 82px,#ffffac 88px,#ffff13 100px,#fff400 104px,#ffbd00 112px,#ff9400 124px,#ff6600 154px,#ff5500 210px,#ff4d00 342px)"></div><div style="top:108px;height:4px;background:linear-gradient(90deg,#ff1e00 0px,#fb0000 10px,#7c0000 28px,#6d0000 32px,#8c0000 38px,#f80100 48px,#fff400 68px,#ffff15 70px,#ffffa8 78px,#ffffcf 84px,#ffffb4 90px,#ffff10 104px,#fff200 106px,#ffbc00 116px,#ff9300 126px,#ff6700 158px,#ff5500 212px,#ff4d00 342px)"></div><div style="top:112px;height:4px;background:linear-gradient(90deg,#ff2100 0px,#fc0000 10px,#7c0000 28px,#6b0000 34px,#860000 40px,#fb0200 50px,#fff200 70px,#ffff11 72px,#ffffa5 80px,#ffffca 84px,#ffffd3 88px,#ffffb2 94px,#ffff0d 106px,#fff800 108px,#ffc000 118px,#ff9600 128px,#ff6700 160px,#ff5500 214px,#ff4d00 342px)"></div><div style="top:116px;height:4px;background:linear-gradient(90deg,#ff2300 0px,#fd0000 12px,#7d0000 30px,#680000 34px,#800000 40px,#f40000 50px,#ff0e00 52px,#ffef00 72px,#ffff0e 74px,#ffffae 84px,#ffffd6 90px,#ffffba 96px,#ffff0b 110px,#fff600 112px,#ffbf00 120px,#ff9600 132px,#ff6800 162px,#ff5500 216px,#ff4d00 342px)"></div><div style="top:120px;height:4px;background:linear-gradient(90deg,#ff2600 0px,#fd0000 12px,#770000 32px,#660000 36px,#820000 42px,#f70000 52px,#fff801 74px,#ffffab 86px,#ffffd0 90px,#ffffd9 92px,#ffffba 98px,#ffff15 112px,#fff500 114px,#ffbf00 124px,#ff9600 134px,#ff6800 166px,#ff5500 218px,#ff4d00 342px)"></div><div style="top:124px;height:4px;background:linear-gradient(90deg,#ff2800 0px,#fe0000 14px,#770000 32px,#630000 38px,#840000 44px,#f90100 54px,#fff500 76px,#ffffb3 88px,#ffffd5 92px,#ffffdc 96px,#ffffb9 102px,#ffff13 114px,#fff500 118px,#ffbf00 126px,#ff9600 138px,#ff6800 168px,#ff5600 222px,#ff4e00 342px)"></div><div style="top:128px;height:4px;background:linear-gradient(90deg,#ff2a00 0px,#fe0100 14px,#d00000 22px,#710000 34px,#600000 40px,#7d0000 46px,#fb0200 56px,#fff200 78px,#ffff0f 80px,#ffffaf 90px,#ffffd5 94px,#ffffdf 98px,#ffffc3 104px,#ffff13 118px,#fff400 120px,#ffbf00 130px,#ff9600 140px,#ff6900 170px,#ff5600 222px,#ff4e00 342px)"></div><div style="top:132px;height:4px;background:linear-gradient(90deg,#ff2c00 0px,#fb0000 16px,#710000 36px,#5e0000 40px,#7f0000 48px,#f30000 58px,#ff0c00 60px,#fff802 82px,#ffffb6 94px,#ffffda 98px,#ffffe2 100px,#ffffc3 106px,#ffff13 120px,#fff500 124px,#ffbf00 132px,#ff9700 144px,#ff6a00 174px,#ff5600 226px,#ff4e00 342px)"></div><div style="top:136px;height:4px;background:linear-gradient(90deg,#ff2e00 0px,#fc0000 18px,#6b0000 38px,#5b0000 42px,#770000 48px,#f50000 60px,#fff500 84px,#ffff13 86px,#ffffbd 96px,#ffffde 100px,#ffffe5 104px,#ffffc4 110px,#ffff13 124px,#fff500 126px,#ffc000 136px,#ff9800 146px,#ff6a00 176px,#ff5700 228px,#ff4e00 342px)"></div><div style="top:140px;height:4px;background:linear-gradient(90deg,#ff2f00 0px,#fc0000 18px,#cd0000 26px,#6b0000 38px,#570000 44px,#780000 50px,#f70000 62px,#fff000 86px,#fffe0c 88px,#ffffc2 100px,#ffffe2 104px,#ffffe7 106px,#ffffc5 112px,#ffff15 126px,#fff600 130px,#ffc100 138px,#ff9900 150px,#ff6b00 180px,#ff5700 230px,#ff4e00 342px)"></div><div style="top:144px;height:4px;background:linear-gradient(90deg,#ff3100 0px,#fd0000 20px,#ce0000 28px,#650000 40px,#540000 46px,#700000 52px,#f80000 64px,#fff600 88px,#ffff13 90px,#ffffbc 102px,#ffffea 108px,#ffffc7 116px,#ffff17 130px,#fff701 132px,#ffc300 142px,#ff9a00 152px,#ff6b00 182px,#ff5700 232px,#ff4e00 342px)"></div><div style="top:148px;height:4px;background:linear-gradient(90deg,#ff3200 0px,#fd0000 20px,#cf0000 28px,#650000 42px,#510000 46px,#710000 54px,#f80000 66px,#fff000 90px,#fffe0b 92px,#ffffc0 104px,#ffffed 112px,#ffffc9 118px,#ffff0e 134px,#fff300 136px,#ffc000 146px,#ff9800 156px,#ff6b00 186px,#ff5700 236px,#ff4e00 342px)"></div><div style="top:152px;height:4px;background:linear-gradient(90deg,#ff3300 0px,#fe0000 22px,#ca0000 30px,#5e0000 44px,#4d0000 48px,#710000 56px,#f80000 68px,#fff400 94px,#ffff10 96px,#ffffc3 108px,#ffffef 114px,#ffffcc 122px,#ffff12 136px,#fff500 140px,#ffc200 148px,#ff9a00 160px,#ff6d00 188px,#ff5800 238px,#ff4e00 342px)"></div><div style="top:156px;height:4px;background:linear-gradient(90deg,#ff3400 0px,#fe0000 22px,#cb0000 32px,#580000 46px,#4a0000 50px,#670000 56px,#f80000 70px,#fff701 96px,#ffffc6 110px,#fffff1 118px,#ffffcf 124px,#ffff16 140px,#fff701 142px,#ffc400 152px,#ff9c00 162px,#ff6e00 192px,#ff5800 240px,#ff4f00 342px)"></div><div style="top:160px;height:4px;background:linear-gradient(90deg,#ff3500 0px,#fe0100 24px,#cd0000 32px,#590000 46px,#460000 52px,#660000 58px,#f70000 72px,#fff000 98px,#fffe0a 100px,#ffffc7 114px,#fffff3 120px,#ffffd3 128px,#ffff11 144px,#fff500 146px,#ffc200 156px,#ff9b00 166px,#ff6e00 196px,#ff5900 244px,#ff4f00 342px)"></div><div style="top:164px;height:4px;background:linear-gradient(90deg,#ff3600 0px,#fc0000 26px,#c70000 34px,#530000 48px,#420000 54px,#650000 60px,#f50000 74px,#fff200 102px,#fffe0c 104px,#ffffc8 116px,#ffffeb 120px,#fffff5 124px,#ffffce 132px,#ffff17 146px,#fff200 150px,#ff9b00 170px,#ff6e00 200px,#ff5900 246px,#ff4f00 342px)"></div><div style="top:168px;height:4px;background:linear-gradient(90deg,#ff3700 0px,#fc0000 26px,#c20000 36px,#530000 50px,#3e0000 56px,#630000 62px,#fb0200 76px,#fff400 104px,#fffe0d 106px,#ffffc7 120px,#ffffeb 124px,#fffff7 128px,#ffffd4 134px,#ffff13 150px,#fff600 154px,#ff9d00 174px,#ff6f00 202px,#ff5a00 248px,#ff4f00 342px)"></div><div style="top:172px;height:4px;background:linear-gradient(90deg,#ff3800 0px,#fd0000 28px,#c40000 38px,#4e0000 52px,#3a0000 56px,#580000 64px,#fe0600 80px,#fff400 108px,#fffe0d 110px,#ffffd1 124px,#fffff9 130px,#ffffd9 138px,#ffff11 154px,#fff500 158px,#ff9e00 178px,#ff7000 206px,#ff5a00 252px,#ff4f00 342px)"></div><div style="top:176px;height:4px;background:linear-gradient(90deg,#ff3900 0px,#ff2200 16px,#fe0000 28px,#c60000 38px,#480000 54px,#350000 58px,#550000 66px,#fd0400 82px,#fff300 110px,#fffe0c 112px,#ffffce 126px,#ffffef 130px,#fffffa 134px,#ffffd7 142px,#ffff0f 158px,#fff500 162px,#ff9e00 182px,#ff7100 210px,#ff5b00 254px,#ff5000 342px)"></div><div style="top:180px;height:4px;background:linear-gradient(90deg,#ff3900 0px,#ff2400 16px,#fe0000 30px,#c20000 40px,#430000 56px,#310000 60px,#510000 68px,#fb0200 84px,#fff200 114px,#ffff17 116px,#ffffca 130px,#ffffed 134px,#fffffb 138px,#fffff2 142px,#ffffd5 146px,#ffff19 162px,#fff500 166px,#ff9f00 186px,#ff7100 214px,#ff5b00 258px,#ff5000 342px)"></div><div style="top:184px;height:4px;background:linear-gradient(90deg,#ff3a00 0px,#ff2400 18px,#fc0000 32px,#bd0000 42px,#3e0000 58px,#2d0000 62px,#4d0000 70px,#fd0400 86px,#fff702 118px,#ffffcf 134px,#fffff0 138px,#fffffc 142px,#ffffd3 150px,#ffff1a 166px,#fff500 170px,#ffa000 190px,#ff7300 216px,#ff5c00 260px,#ff5000 342px)"></div><div style="top:188px;height:4px;background:linear-gradient(90deg,#ff3a00 0px,#ff2400 18px,#fd0000 32px,#c00000 44px,#3a0000 60px,#280000 64px,#480000 72px,#fe0600 90px,#fff501 120px,#fffe0e 122px,#ffffd3 138px,#fffff2 142px,#fffffc 146px,#ffffd3 154px,#ffff1c 170px,#fff601 174px,#ffa100 194px,#ff7400 220px,#ff5d00 262px,#ff5100 342px)"></div><div style="top:192px;height:4px;background:linear-gradient(90deg,#ff3b00 0px,#ff2500 20px,#fe0000 34px,#bd0000 46px,#350000 62px,#240000 66px,#420000 74px,#fb0200 92px,#fff802 124px,#ffffcb 140px,#fffff3 146px,#fffffc 150px,#ffffdc 156px,#ffff15 174px,#fff300 178px,#ffa300 198px,#ff7500 224px,#ff5e00 266px,#ff5100 342px)"></div><div style="top:196px;height:4px;background:linear-gradient(90deg,#ff3c00 0px,#ff2600 20px,#fb0000 36px,#b90000 48px,#320000 64px,#200000 68px,#3c0000 76px,#fc0300 94px,#fff400 128px,#ffff17 130px,#ffffd6 146px,#fffffc 154px,#ffffd5 162px,#ffff19 178px,#fff600 182px,#ffa500 202px,#ff7600 228px,#ff5e00 268px,#ff5100 342px)"></div><div style="top:200px;height:4px;background:linear-gradient(90deg,#ff3c00 0px,#ff2700 20px,#fd0000 36px,#be0000 48px,#2f0000 66px,#1b0000 72px,#3e0000 78px,#fc0300 98px,#fff601 132px,#ffff1a 134px,#ffffcb 148px,#fffff2 154px,#fffffc 158px,#ffffd7 166px,#ffff14 184px,#fff400 188px,#ffa500 206px,#ff7700 232px,#ff5f00 272px,#ff5200 342px)"></div><div style="top:204px;height:4px;background:linear-gradient(90deg,#ff3d00 0px,#ff2700 22px,#fe0000 38px,#c90000 48px,#330000 66px,#170000 74px,#360000 80px,#fb0300 100px,#fff602 136px,#ffff1b 138px,#ffffc9 152px,#ffffef 158px,#fffffb 162px,#ffffd9 170px,#ffff1b 188px,#fff701 192px,#ffa800 210px,#ff7900 236px,#ff6000 274px,#ff5200 342px)"></div><div style="top:208px;height:4px;background:linear-gradient(90deg,#ff3d00 0px,#ff2700 22px,#fc0000 40px,#c70000 50px,#2b0000 70px,#130000 76px,#350000 84px,#cf0000 98px,#fe0600 104px,#fff602 140px,#ffff19 142px,#ffffcf 158px,#fffff1 162px,#fffff9 166px,#ffffd5 174px,#ffff19 192px,#fff601 196px,#ffa800 216px,#ff7b00 240px,#ff6100 278px,#ff5300 342px)"></div><div style="top:212px;height:4px;background:linear-gradient(90deg,#ff3d00 0px,#ff2700 24px,#fe0000 40px,#c50000 52px,#2a0000 72px,#0f0000 78px,#340000 86px,#fc0400 108px,#fff501 144px,#ffff16 146px,#ffffc9 162px,#ffffed 166px,#fffff8 170px,#ffffd1 180px,#ffff18 198px,#fff601 202px,#ffa900 220px,#ff7b00 246px,#ff6200 282px,#ff5300 342px)"></div><div style="top:216px;height:4px;background:linear-gradient(90deg,#ff3e00 0px,#ff2700 24px,#fd0000 42px,#b70000 56px,#1e0000 76px,#0c0000 82px,#320000 90px,#fa0200 110px,#fff200 148px,#fffe12 150px,#ffffcb 166px,#fffff6 176px,#ffffce 184px,#ffff19 202px,#fff701 206px,#ffaa00 226px,#ff7d00 250px,#ff6300 284px,#ff5400 342px)"></div><div style="top:220px;height:4px;background:linear-gradient(90deg,#ff3e00 0px,#ff2800 26px,#fc0000 44px,#b80000 58px,#1f0000 78px,#080000 84px,#2f0000 92px,#fb0300 114px,#fff502 152px,#ffff15 156px,#ffffcb 172px,#fffff3 180px,#ffffd4 188px,#ffff11 208px,#fff400 212px,#ffac00 230px,#ff7e00 254px,#ff6400 288px,#ff5500 342px)"></div><div style="top:224px;height:4px;background:linear-gradient(90deg,#ff3f00 0px,#ff2800 26px,#fe0000 46px,#bf0000 60px,#210000 80px,#060000 86px,#230000 94px,#fb0400 118px,#fff100 156px,#ffff18 160px,#ffffc9 176px,#fffff0 186px,#ffffcb 194px,#ffff14 214px,#fff501 218px,#ffae00 236px,#ff8100 258px,#ff6600 290px,#ff5500 342px)"></div><div style="top:228px;height:4px;background:linear-gradient(90deg,#ff3f00 0px,#ff2800 28px,#fd0000 48px,#c00000 62px,#1f0000 82px,#030000 90px,#260000 98px,#fa0300 122px,#fff100 162px,#ffff18 166px,#ffffc6 182px,#ffffed 190px,#ffffcb 200px,#ffff18 218px,#fff300 224px,#ffad00 242px,#ff8200 264px,#ff5600 342px)"></div><div style="top:232px;height:4px;background:linear-gradient(90deg,#ff3f00 0px,#ff2900 28px,#fd0000 50px,#c20000 64px,#1e0000 86px,#010000 94px,#200000 102px,#c40000 120px,#fd0500 128px,#fff603 168px,#ffff16 170px,#ffffc0 186px,#ffffe0 192px,#ffffea 196px,#ffffc4 206px,#ffff15 224px,#fff601 228px,#ffaf00 246px,#ff8500 268px,#ff5700 342px)"></div><div style="top:236px;height:4px;background:linear-gradient(90deg,#ff4000 0px,#ff2800 30px,#fd0000 52px,#bf0000 66px,#1f0000 88px,#000000 96px,#210000 106px,#c90000 124px,#fd0700 132px,#fff402 172px,#fffe13 176px,#ffffba 192px,#ffffda 196px,#ffffe6 202px,#ffffc6 210px,#ffff13 230px,#fff501 234px,#ffb200 252px,#ff8600 272px,#ff5900 342px)"></div><div style="top:240px;height:4px;background:linear-gradient(90deg,#ff4000 0px,#ff2800 32px,#fb0000 54px,#be0000 70px,#1b0000 92px,#000000 100px,#200000 110px,#cc0000 130px,#fd0800 138px,#fff603 178px,#ffffb9 198px,#ffffe2 208px,#ffffc1 216px,#ffff12 236px,#fff501 240px,#ffb200 258px,#ff8800 278px,#ff5a00 342px)"></div><div style="top:244px;height:4px;background:linear-gradient(90deg,#ff4000 0px,#ff2900 32px,#fc0000 56px,#bd0000 72px,#1a0000 96px,#000000 104px,#1e0000 114px,#cc0000 134px,#fd0700 142px,#ffec00 182px,#ffff18 188px,#ffffb7 204px,#ffffde 214px,#ffffbd 222px,#ffff11 242px,#fff501 246px,#ffb600 262px,#ff8b00 282px,#ff5c00 342px)"></div><div style="top:248px;height:4px;background:linear-gradient(90deg,#ff4100 0px,#ff2900 34px,#fd0000 58px,#c30000 74px,#1b0000 100px,#020000 110px,#220000 118px,#c30000 138px,#fc0500 148px,#ffec00 188px,#ffff17 194px,#ffffb4 210px,#ffffd9 220px,#ffffba 228px,#ffff12 248px,#fff501 252px,#ffb700 268px,#ff8d00 286px,#ff5d00 342px)"></div><div style="top:252px;height:4px;background:linear-gradient(90deg,#ff4100 0px,#ff2900 36px,#fd0000 62px,#c00000 78px,#1e0000 104px,#040000 114px,#250000 124px,#c60000 144px,#fc0600 154px,#ffea00 194px,#ffff1f 200px,#ffffae 216px,#ffffd4 226px,#ffffb1 236px,#ffff12 254px,#fff601 258px,#ffb700 274px,#ff8f00 292px,#ff6000 342px)"></div><div style="top:256px;height:4px;background:linear-gradient(90deg,#ff4100 0px,#ff2900 38px,#fd0000 64px,#c30000 82px,#240000 108px,#070000 118px,#2c0000 130px,#c70000 150px,#fc0600 160px,#ffee00 202px,#ffff1a 206px,#ffffa8 222px,#ffffc8 228px,#ffffcf 232px,#ffffaf 242px,#ffff14 260px,#fff702 264px,#ffbb00 280px,#ff9300 296px,#ff6200 342px)"></div><div style="top:260px;height:4px;background:linear-gradient(90deg,#ff4200 0px,#ff2900 40px,#fd0000 68px,#c30000 86px,#270000 114px,#0b0000 124px,#2b0000 134px,#d30000 158px,#fd0800 166px,#ffea00 208px,#ffff1d 214px,#ffffa7 228px,#ffffca 238px,#ffffa7 248px,#fff802 270px,#ffbc00 286px,#ff9600 300px,#ff6500 342px)"></div><div style="top:264px;height:4px;background:linear-gradient(90deg,#ff4200 0px,#ff2900 42px,#fc0000 72px,#c50000 90px,#280000 120px,#110000 130px,#350000 142px,#fa0500 172px,#ffeb00 214px,#ffff1e 220px,#ffff9f 234px,#ffffbe 240px,#ffffc5 246px,#ffffa0 256px,#fff903 276px,#ff9a00 304px,#ff6900 342px)"></div><div style="top:268px;height:4px;background:linear-gradient(90deg,#ff4300 0px,#ff2900 44px,#fc0000 76px,#c50000 94px,#310000 124px,#170000 136px,#370000 148px,#fc0800 180px,#ffea00 222px,#ffff1d 228px,#ffff9c 242px,#ffffbf 252px,#ffff9f 262px,#ffff13 280px,#fff602 284px,#ff9f00 308px,#ff6d00 342px)"></div><div style="top:272px;height:4px;background:linear-gradient(90deg,#ff4300 0px,#ff2900 46px,#fc0000 80px,#bb0000 102px,#300000 132px,#1e0000 142px,#420000 156px,#fa0600 188px,#ffe800 228px,#ffff1b 234px,#ffff98 248px,#ffffb9 258px,#ffff98 268px,#fff802 290px,#ffa200 314px,#ff7200 342px)"></div><div style="top:276px;height:4px;background:linear-gradient(90deg,#ff4400 0px,#ff2900 50px,#fc0000 84px,#bf0000 108px,#3a0000 138px,#270000 150px,#4a0000 164px,#fa0600 196px,#ff7d00 218px,#ffec00 236px,#ffff21 242px,#ffff93 256px,#ffffb3 266px,#ffff91 276px,#fff903 296px,#ffa700 318px,#ff7800 342px)"></div><div style="top:280px;height:4px;background:linear-gradient(90deg,#ff4400 0px,#ff2900 54px,#fd0000 90px,#cb0000 110px,#460000 144px,#2f0000 156px,#500000 172px,#fc0800 204px,#ffe800 244px,#ffff1c 250px,#ffff8d 262px,#ffffad 272px,#ffff8a 282px,#fff903 302px,#ffaf00 320px,#ff7f00 342px)"></div><div style="top:284px;height:4px;background:linear-gradient(90deg,#ff4500 0px,#ff2900 58px,#fd0100 96px,#c60000 120px,#4b0000 154px,#380000 166px,#5d0000 182px,#fa0700 212px,#ff6f00 232px,#ffea00 252px,#ffff1e 258px,#ffff87 270px,#ffffa6 280px,#ffff89 288px,#fffa03 308px,#ffb500 324px,#ff8800 342px)"></div><div style="top:288px;height:4px;background:linear-gradient(90deg,#ff4500 0px,#ff2800 62px,#fc0100 102px,#c60000 128px,#520000 162px,#420000 174px,#670000 192px,#f90700 222px,#ff6700 240px,#ffea00 260px,#ffff20 266px,#ffff86 278px,#ffff9e 286px,#ffff81 296px,#fffa03 314px,#ff9300 342px)"></div><div style="top:292px;height:4px;background:linear-gradient(90deg,#ff4600 0px,#ff2800 68px,#fd0100 110px,#cc0000 134px,#5b0000 172px,#4b0000 184px,#6b0000 200px,#fb0900 232px,#ff6900 248px,#ffeb01 268px,#ffff22 274px,#ffff7e 284px,#ffff96 294px,#ffff78 302px,#fff903 320px,#ffa000 342px)"></div><div style="top:296px;height:4px;background:linear-gradient(90deg,#ff4700 0px,#ff2700 74px,#fd0100 118px,#ce0000 144px,#630000 182px,#540000 194px,#780000 212px,#fa0800 240px,#ff5d00 256px,#ffea01 276px,#ffff23 282px,#ffff76 292px,#ffff8e 300px,#ffff6f 310px,#fffb05 324px,#ffb100 342px)"></div><div style="top:300px;height:4px;background:linear-gradient(90deg,#ff4700 0px,#ff2700 82px,#fc0100 128px,#d00000 154px,#6c0000 192px,#5d0000 204px,#7c0000 222px,#fb0a00 250px,#ff5e00 264px,#ffe300 282px,#fffe1a 288px,#ffff6d 298px,#ffff85 308px,#ffff6a 316px,#fffa03 330px,#ffc400 342px)"></div><div style="top:304px;height:4px;background:linear-gradient(90deg,#ff4800 0px,#ff2700 90px,#fd0100 138px,#d20000 164px,#730000 202px,#640000 216px,#820000 234px,#e90000 256px,#ff1b00 264px,#ffe200 290px,#fffc13 296px,#ffff64 306px,#ffff7b 314px,#ffff64 322px,#fffb05 336px,#ffdb00 342px)"></div><div style="top:308px;height:4px;background:linear-gradient(90deg,#ff4900 0px,#ff2700 100px,#fe0300 148px,#df0000 170px,#7e0000 212px,#6c0000 226px,#870000 244px,#e50000 264px,#ff1900 272px,#ffe200 298px,#fffc13 304px,#ffff5b 312px,#ffff70 320px,#ffff5c 328px,#fff500 342px)"></div><div style="top:312px;height:4px;background:linear-gradient(90deg,#ff4b00 0px,#ff2700 110px,#fe0200 162px,#720000 238px,#8b0000 256px,#e70000 274px,#ff1e00 282px,#ffe200 306px,#fff90d 310px,#ffff51 320px,#ffff64 326px,#ffff57 332px,#ffff18 342px)"></div><div style="top:316px;height:4px;background:linear-gradient(90deg,#ff4c00 0px,#ff2800 122px,#fe0300 174px,#770000 250px,#900000 266px,#e40000 284px,#ff1e00 292px,#fff608 318px,#ffff56 330px,#ffff53 336px,#ffff38 342px)"></div><div style="top:320px;height:4px;background:linear-gradient(90deg,#ff4e00 0px,#ff2900 134px,#fe0300 188px,#7b0000 262px,#920000 276px,#e30000 292px,#ff2000 300px,#fff204 324px,#ffff42 334px,#ffff47 342px)"></div><div style="top:324px;height:4px;background:linear-gradient(90deg,#ff4f00 0px,#ff2a00 146px,#fe0300 202px,#7f0000 272px,#970000 288px,#e30000 302px,#ff1b00 308px,#ffee02 332px,#ffff3b 342px)"></div><div style="top:328px;height:4px;background:linear-gradient(90deg,#ff5200 0px,#ff2c00 158px,#fe0300 216px,#820000 284px,#9b0000 298px,#e60000 310px,#ff1a00 316px,#ffd300 336px,#fffd0f 342px)"></div><div style="top:332px;height:4px;background:linear-gradient(90deg,#ff5400 0px,#ff2d00 170px,#fe0300 230px,#850000 294px,#9d0000 306px,#e50000 318px,#ff1b00 324px,#ffd100 342px)"></div><div style="top:336px;height:4px;background:linear-gradient(90deg,#ff5700 0px,#ff2f00 184px,#fe0400 244px,#880000 304px,#a00000 316px,#e60000 326px,#ff1f00 332px,#ff8b00 342px)"></div><div style="top:340px;height:3px;background:linear-gradient(90deg,#ff5a00 0px,#ff4700 40px,#ff3000 194px,#ff0400 254px,#8a0000 312px,#a00000 322px,#f20200 334px,#ff1200 338px,#ff4800 342px)"></div></div>
<div class="fb" style="left:90px;top:435px;width:389px;height:346px"><div style="top:0px;height:6px;background:linear-gradient(90deg,#ff0f00 0px,#ffff13 4px,#ffff17 4px,#ffdf00 6px,#ff7b00 8px,#ff6100 12px,#ff6100 30px,#ff9700 40px,#ff5f00 46px,#ff5600 68px,#ff3700 74px,#ff6100 80px,#ff5000 100px,#ff3d00 104px,#ff1300 106px,#e20000 106px,#590000 108px,#700000 110px,#e10100 110px,#ffdc00 112px,#fffe09 114px,#fc0000 126px,#6f0000 132px,#890000 132px,#e60200 134px,#ffe002 136px,#ffff78 136px,#ffffc7 138px,#ffff89 138px,#fffc14 140px,#ffc900 140px,#ff8a00 142px,#ff6d00 146px,#ff6000 162px,#ff7400 166px,#ffe600 170px,#ff8200 174px,#ff6b00 176px,#ff5000 196px,#fc0000 202px,#ff5800 204px,#ff5600 208px,#ff9f00 212px,#ff6200 216px,#ff3f00 226px,#fd0c00 228px,#820000 232px,#a40000 232px,#f02c00 234px,#ffad00 234px,#fff814 236px,#fffe13 236px,#ff8700 240px,#fe0300 248px,#ff1600 250px,#ff8000 252px,#ff9b00 252px,#f90100 262px,#ff1900 262px,#ffb800 264px,#ffdd00 266px,#ff6b00 270px,#ff3c00 278px,#fc0b00 280px,#e20000 282px,#780000 284px,#650000 284px,#980000 286px,#ee1600 286px,#ffe60a 288px,#ffff38 290px,#ffff37 290px,#fffe09 292px,#ffe000 292px,#ff4800 300px,#ff6a00 304px,#ff1600 308px,#da0000 310px,#7b0000 312px,#e41900 314px,#ffd916 316px,#ffff6d 318px,#ffffae 318px,#ffff82 320px,#fff629 320px,#ffd401 322px,#ff9100 324px,#ff7600 326px,#ff5100 336px,#ff1000 342px,#ff7200 348px,#ffdb00 350px,#ff6b00 356px,#ff4700 372px,#fe0800 376px,#db0000 378px,#630000 380px,#4a0000 380px,#650000 382px,#ef0000 384px,#ff4900 386px,#ff3400 388px)"></div><div style="top:6px;height:6px;background:linear-gradient(90deg,#fd0200 0px,#ff3000 2px,#fffa02 4px,#ffff28 4px,#fff400 6px,#ff8100 8px,#ff6200 12px,#ff6200 30px,#ff9900 40px,#ff6000 46px,#ff5500 70px,#ff3a00 74px,#ff6200 80px,#ff5000 100px,#ff3800 104px,#fd0600 106px,#ca0000 108px,#7f0000 108px,#590000 110px,#960000 110px,#fd1a00 112px,#ff9900 112px,#ffe700 114px,#fff700 114px,#ff0200 126px,#dc0000 128px,#710000 132px,#640000 132px,#9d0000 134px,#fa1400 134px,#fff411 136px,#ffff99 138px,#ffffcc 138px,#fff508 140px,#ffc000 142px,#ff8700 144px,#ff6d00 146px,#ff6400 162px,#ff8600 168px,#ffed00 170px,#ff6e00 176px,#ff5000 196px,#ff0800 202px,#ff0c00 202px,#ff4800 204px,#ff6300 208px,#ffa000 212px,#ff6400 216px,#ff4400 226px,#ff1a00 230px,#f30400 230px,#8e0000 232px,#840000 234px,#cd0800 234px,#ff6200 236px,#ffd904 236px,#fffe10 238px,#fff303 238px,#ff9100 242px,#ff1200 248px,#ff1900 250px,#ff9300 252px,#ff9600 254px,#ff0500 260px,#ec0000 262px,#fc1400 264px,#ffc900 266px,#fff000 266px,#ff7000 272px,#ff4200 278px,#ff1600 282px,#f30300 282px,#740000 286px,#900000 286px,#e40900 288px,#ff6700 288px,#ffd100 290px,#fffd14 290px,#ffff15 292px,#fff200 292px,#ff4600 300px,#ff3d00 300px,#ff7500 304px,#ff7100 304px,#ec0000 310px,#750000 314px,#6d0000 314px,#a40000 316px,#ea2200 316px,#ff8200 318px,#ffdf1f 318px,#ffff79 320px,#ffffaf 320px,#ffff7a 322px,#fff524 322px,#ffd300 324px,#ff8300 326px,#ff5600 336px,#ff1500 342px,#ff5000 344px,#ff5800 348px,#ff7200 348px,#ffdc00 350px,#fff100 352px,#ff6f00 356px,#ff4500 374px,#fb0300 378px,#640000 380px,#5e0000 382px,#ff1200 384px,#ff4900 386px,#ff3d00 388px)"></div><div style="top:12px;height:6px;background:linear-gradient(90deg,#f40000 0px,#ff1400 2px,#ffdf00 4px,#ffff2c 4px,#ffff0e 6px,#ff8900 8px,#ff6100 14px,#ff6200 30px,#ff9b00 40px,#ff5c00 48px,#ff5500 70px,#ff3a00 76px,#ff6300 80px,#ff4f00 102px,#ff3f00 104px,#f00000 108px,#6b0000 110px,#690000 110px,#c50000 112px,#ff4a00 112px,#ffb600 114px,#ffe600 114px,#ffe500 116px,#ff3200 124px,#f90000 128px,#cf0000 130px,#5c0000 132px,#650000 134px,#ba0000 134px,#ff3300 136px,#ffa700 136px,#fffd28 138px,#ffffb3 138px,#ffffca 140px,#ffee02 142px,#ff9900 144px,#ff7a00 146px,#ff6400 154px,#ff7500 166px,#ff8300 168px,#fff100 170px,#ffef00 172px,#ff9000 174px,#ff6900 178px,#ff5300 196px,#ff1000 202px,#ffa200 212px,#ff6500 216px,#ff4100 228px,#fd0e00 232px,#7f0000 234px,#a20000 236px,#ef2700 236px,#ffa000 238px,#ffef05 238px,#fffa01 240px,#ff9b00 242px,#ff2300 248px,#ff2000 250px,#ff8b00 252px,#ff9300 254px,#f10000 262px,#d20000 264px,#f40e00 264px,#ffd100 266px,#fffe05 268px,#ff7600 272px,#ff1f00 282px,#dc0000 284px,#880000 286px,#970000 288px,#e30400 288px,#ffbf00 290px,#fff101 292px,#fff400 292px,#ff3800 300px,#ff8400 304px,#ff1a00 310px,#e70000 312px,#660000 316px,#660000 316px,#a80000 318px,#ec2800 318px,#ff8a00 320px,#ffe224 320px,#ffff7e 322px,#ffffab 322px,#fff521 324px,#ffd400 326px,#ff8700 328px,#ff5300 338px,#ff1900 342px,#ff5900 346px,#ff4700 348px,#ff6600 350px,#ffe900 352px,#fffe0d 352px,#fff005 354px,#ff8600 356px,#ff6a00 358px,#ff4900 374px,#ff1600 378px,#f20000 378px,#6d0000 382px,#7c0000 382px,#f90100 384px,#ff4800 386px,#ff4500 388px)"></div><div style="top:18px;height:6px;background:linear-gradient(90deg,#ed0000 0px,#fb0100 2px,#ff4500 2px,#ffb900 4px,#ffff1f 4px,#ffff28 6px,#ffe800 6px,#ff7e00 10px,#ff6200 14px,#ff6200 30px,#ff9d00 40px,#ff6700 44px,#ff5b00 48px,#ff5600 70px,#ff3b00 76px,#ff6500 82px,#ff5100 102px,#ff3b00 106px,#ff0c00 108px,#d90000 108px,#640000 110px,#8a0000 112px,#f30700 112px,#ff7600 114px,#ffc500 114px,#ffdc00 116px,#ff4500 122px,#ff0200 128px,#c30000 130px,#4d0000 134px,#730000 134px,#db0000 136px,#ff5100 136px,#ffbf00 138px,#ffff43 138px,#ffffc6 140px,#ffffc4 140px,#ffff4f 142px,#ffe600 142px,#ff9600 144px,#ff7a00 146px,#ff6700 156px,#ff7600 166px,#ff9d00 168px,#fff400 170px,#fffb00 172px,#ff9900 174px,#ff6b00 178px,#ff5300 198px,#ff1c00 204px,#ffa300 212px,#ff6700 216px,#ff4b00 228px,#ff1c00 232px,#f40500 234px,#c50000 234px,#8f0000 236px,#880000 236px,#d10700 238px,#ff5d00 238px,#ffc900 240px,#fff000 240px,#ff3400 248px,#ff3a00 250px,#ff8300 252px,#ff8f00 254px,#fe0400 262px,#ba0000 264px,#e30500 266px,#ff5500 266px,#ffcc00 268px,#ffff18 268px,#fffc15 270px,#ff7f00 274px,#ff4300 282px,#ea0000 286px,#9c0000 288px,#a70000 288px,#eb0500 290px,#ffb400 292px,#ffdd00 292px,#ffda00 294px,#ff3300 300px,#ff3600 302px,#ff9400 304px,#fb0a00 314px,#e70100 314px,#5e0000 318px,#620000 318px,#a90100 320px,#ed2a00 320px,#ff8d00 322px,#ffe426 322px,#ffff7f 324px,#ffffa3 324px,#fff51c 326px,#ffd500 328px,#ff8a00 330px,#ff5900 338px,#ff1e00 342px,#ff5d00 346px,#ff2b00 350px,#ff4c00 350px,#ffe702 352px,#ffff27 354px,#ffe302 356px,#ff9300 358px,#ff7000 360px,#ff4800 374px,#ff0c00 378px,#870000 382px,#800000 382px,#e70000 384px,#ff2400 386px,#ff4600 386px,#ff4c00 388px)"></div><div style="top:24px;height:6px;background:linear-gradient(90deg,#e90000 0px,#ff1f00 2px,#fffb04 4px,#ffff38 6px,#fffc05 6px,#ff8500 10px,#ff6100 14px,#ff6200 30px,#ff9e00 40px,#ff6800 44px,#ff5b00 48px,#ff5600 70px,#ff3d00 76px,#ff6600 82px,#ff5000 102px,#ff3500 106px,#f80100 108px,#be0000 110px,#7d0000 110px,#6e0000 112px,#b70000 112px,#ff3000 114px,#ff9600 114px,#ffc700 116px,#ffca00 116px,#ff4500 122px,#ff1b00 126px,#ed0000 130px,#b60000 132px,#550000 134px,#460000 134px,#890000 136px,#f20900 136px,#ffd100 138px,#ffff5c 140px,#ffffd3 140px,#ffffbc 142px,#ffff40 142px,#ffe000 144px,#ff9500 146px,#ff7a00 148px,#ff6a00 158px,#ff7e00 168px,#fff300 170px,#ffff0a 172px,#ff8a00 176px,#ff6e00 178px,#ff5300 198px,#ff2300 204px,#ffa500 212px,#ff6200 218px,#ff4300 232px,#fd0e00 234px,#df0000 236px,#860000 238px,#af0000 238px,#f52a00 240px,#ff9700 240px,#ffd700 242px,#ffdb00 242px,#ff3700 250px,#ff8c00 254px,#f90100 262px,#a20000 266px,#c70000 266px,#fb3500 268px,#ffb400 268px,#fffc1f 270px,#ffff33 270px,#ffc900 272px,#ff7900 276px,#ff3c00 284px,#f30100 286px,#b00000 288px,#be0000 290px,#f90b00 290px,#ffae00 292px,#ffc900 294px,#ff2e00 300px,#ff2a00 302px,#ff9e00 304px,#ffa600 306px,#fc0c00 316px,#e80100 316px,#5b0000 320px,#610000 320px,#aa0100 322px,#ee2c00 322px,#ff9100 324px,#ffe728 324px,#ffff7d 326px,#ffff94 326px,#fff414 328px,#ffd300 330px,#ff8d00 332px,#ff2200 342px,#ff2000 342px,#ff6200 346px,#fc0900 350px,#fe2300 352px,#ffcf01 354px,#fffe2d 354px,#ffff47 356px,#fff81c 356px,#ffd500 358px,#ff8c00 360px,#ff6e00 362px,#ff4600 376px,#fb0200 380px,#8e0000 382px,#a10000 384px,#ff1a00 386px,#ff4500 386px,#ff5300 388px)"></div><div style="top:30px;height:6px;background:linear-gradient(90deg,#e90000 0px,#e10000 2px,#fc0400 2px,#ff5e00 4px,#ffda00 4px,#ffff37 6px,#ffff22 6px,#ffde00 8px,#ff7c00 10px,#ff6200 14px,#ff6500 32px,#ffa200 40px,#ff6a00 44px,#ff5c00 48px,#ff5600 70px,#ff3e00 76px,#ff6700 82px,#ff4f00 104px,#ff3d00 106px,#ff1200 108px,#e30000 110px,#720000 112px,#8b0000 112px,#eb0100 114px,#ffa600 116px,#ffbd00 116px,#ff3400 124px,#fa0000 130px,#cf0000 132px,#420000 134px,#4a0000 136px,#a40000 136px,#fd1900 138px,#ffde02 140px,#ffff6f 140px,#ffffdc 142px,#ffffb3 142px,#ffff34 144px,#ffdb00 144px,#ff8500 148px,#ff6e00 152px,#ff7b00 168px,#ff8f00 168px,#ffef00 170px,#ffff16 172px,#fffe06 172px,#ff9300 176px,#ff6500 180px,#ff5600 198px,#ff2d00 204px,#ffa700 212px,#ff6400 218px,#ff4c00 232px,#ff1a00 236px,#f10300 236px,#c10000 238px,#930000 238px,#9c0000 240px,#e50d00 240px,#ffb600 242px,#ffca00 244px,#ff4400 250px,#ff4300 250px,#ff8900 254px,#ff8500 254px,#ff1400 262px,#f80200 264px,#8e0000 266px,#a10000 268px,#e81600 268px,#ffee17 270px,#ffff4b 272px,#ffe504 274px,#ff8500 276px,#ff4b00 284px,#ff1b00 286px,#d80000 288px,#c40000 290px,#d90000 290px,#ff2000 292px,#ffaa00 294px,#ffb500 294px,#ff1f00 302px,#ff2f00 302px,#ff9b00 304px,#ffb900 306px,#ff6d00 310px,#fd0f00 318px,#eb0200 318px,#5b0000 322px,#630000 322px,#ad0100 324px,#f03000 324px,#ff9a00 326px,#ffec2b 326px,#ffff76 328px,#ffff7d 328px,#fff009 330px,#ffcd00 332px,#ff9b00 334px,#ff2600 342px,#ff2100 342px,#ff6900 346px,#ff6600 346px,#f20000 350px,#e80500 352px,#fc3100 354px,#ff9600 354px,#ffec1b 356px,#ffff5a 356px,#ffff53 358px,#ffcd00 360px,#ff8900 362px,#ff6e00 364px,#ff4a00 376px,#ed0000 380px,#a20000 382px,#a50000 384px,#ff1200 386px,#ff4300 386px,#ff5a00 388px)"></div><div style="top:36px;height:6px;background:linear-gradient(90deg,#eb0000 0px,#e70000 2px,#ff3000 4px,#ffad00 4px,#ffff20 6px,#ffff3b 6px,#fff601 8px,#ff8300 10px,#ff6400 14px,#ff6500 32px,#ff7800 36px,#ffa500 40px,#ff6d00 44px,#ff5c00 48px,#ff5700 70px,#ff4000 76px,#ff6900 82px,#ff5000 104px,#ff3700 108px,#fc0300 110px,#c90000 110px,#8b0000 112px,#790000 112px,#b60000 114px,#ff2200 114px,#ff7d00 116px,#ffa800 116px,#ffad00 118px,#ff3500 124px,#f90000 130px,#c70000 132px,#350000 136px,#570000 136px,#bf0000 138px,#ff2d00 138px,#ffe706 140px,#ffff7f 142px,#ffffe2 142px,#ffffab 144px,#ffff2c 144px,#ffd800 146px,#ff9500 148px,#ff7600 150px,#ff7800 168px,#ff8700 168px,#ffe600 170px,#ffff1f 172px,#fff000 174px,#ff9f00 176px,#ff6d00 178px,#ff5500 200px,#ff3400 204px,#ffa800 212px,#ff6500 218px,#ff4a00 234px,#fb0a00 238px,#d70000 238px,#a60000 240px,#9a0000 240px,#d40200 242px,#ff3e00 242px,#ff9300 244px,#ffb200 244px,#ff5000 250px,#ff4900 250px,#ff8500 254px,#fa0400 264px,#840000 268px,#7f0000 268px,#c10300 270px,#fc4800 270px,#ffc906 272px,#ffff41 272px,#ffff56 274px,#ffd800 276px,#ff8200 278px,#ff1f00 288px,#e30000 290px,#d90000 290px,#f80100 292px,#ff8200 294px,#ffa300 294px,#ff8d00 296px,#ff1600 302px,#ff1900 302px,#ffc000 306px,#ffcf00 306px,#ff7100 310px,#fe1100 320px,#ed0300 320px,#5f0000 324px,#6b0000 324px,#b60300 326px,#f53800 326px,#ffa901 328px,#fff22e 328px,#ffff67 330px,#ffff58 330px,#ffe400 332px,#ffa700 334px,#ff2a00 342px,#ff2100 342px,#ff7000 346px,#ff7300 346px,#fe0700 350px,#e30000 352px,#bb0000 354px,#da0700 354px,#fb4100 356px,#ffb102 356px,#fff535 358px,#ffff73 358px,#ffff5b 360px,#fff11c 360px,#ffcc00 362px,#ff7a00 364px,#ff4800 376px,#fe0300 380px,#b80000 382px,#ae0000 384px,#ff0b00 386px,#ff4200 386px,#ff6100 388px)"></div><div style="top:42px;height:6px;background:linear-gradient(90deg,#ee0000 0px,#d70000 2px,#fe0900 4px,#fff502 6px,#ffff46 6px,#ffff19 8px,#ffd600 8px,#ff7a00 12px,#ff6300 16px,#ff6600 32px,#ff7e00 38px,#ffa800 40px,#ff7000 44px,#ff5d00 48px,#ff4100 76px,#ff6a00 82px,#ff4f00 104px,#ff3e00 108px,#e80000 110px,#800000 112px,#940000 114px,#ea0000 114px,#ff8c00 116px,#ff9f00 118px,#ff3600 124px,#f80000 132px,#bf0000 134px,#4c0000 136px,#2e0000 136px,#6a0000 138px,#d80000 138px,#ff3e00 140px,#ffee0b 142px,#ffff8c 142px,#ffffe5 144px,#ffffa4 144px,#fffe26 146px,#ffd700 146px,#ff9700 148px,#ff7900 152px,#ff7500 168px,#ffa000 170px,#ffff19 172px,#ffff35 172px,#ffff0d 174px,#ff9000 176px,#ff6900 180px,#ff5700 200px,#ff3c00 204px,#ffab00 212px,#ff6100 218px,#ff4600 236px,#ff1200 238px,#e90000 240px,#a20000 242px,#ca0000 242px,#fd2500 244px,#ff7400 244px,#ff9800 246px,#ff5000 250px,#ff8500 254px,#fe0a00 266px,#e90000 266px,#690000 270px,#8c0000 270px,#e11700 272px,#ff8300 272px,#ffea20 274px,#ffff62 274px,#ffff4f 276px,#fff314 276px,#ffce00 278px,#ff8100 280px,#ff4800 286px,#f00000 290px,#ff1d00 292px,#ff8b00 294px,#ff9700 296px,#ff0600 302px,#ff1d00 304px,#ffdf00 306px,#ffe000 308px,#ff7400 312px,#fe1200 322px,#ed0300 322px,#650000 326px,#7b0000 326px,#ca0700 328px,#fc4c00 328px,#ffbf04 330px,#fff92c 330px,#ffff49 332px,#fff001 334px,#ff9600 336px,#ff2200 342px,#ff8200 346px,#fd0900 352px,#e40000 352px,#a00000 354px,#a00000 356px,#cf0800 356px,#f94800 358px,#ffb607 358px,#fff641 360px,#ffff80 360px,#ffff67 362px,#fff423 362px,#ffd101 364px,#ff7e00 366px,#ff4600 378px,#f00000 382px,#bc0000 384px,#ff0700 386px,#ff6300 388px,#ff6800 388px)"></div><div style="top:48px;height:6px;background:linear-gradient(90deg,#f30000 0px,#cf0000 2px,#e70000 4px,#ff4400 4px,#ffc900 6px,#ffff39 6px,#ffff3a 8px,#ffef00 8px,#ffba00 10px,#ff8100 12px,#ff6400 16px,#ff6600 32px,#ff7c00 38px,#ffaa00 40px,#ff6900 46px,#ff5c00 50px,#ff4300 76px,#ff6b00 82px,#ff5100 104px,#ff3700 108px,#fd0400 110px,#ce0000 112px,#970000 112px,#870000 114px,#ff1d00 116px,#ff6a00 116px,#ff8d00 118px,#ff8f00 118px,#ff3700 124px,#ff0800 132px,#de0000 134px,#3b0000 136px,#2f0000 138px,#ea0400 140px,#fff210 142px,#ffff97 144px,#ffffe7 144px,#ffff9e 146px,#fffe23 146px,#ffd600 148px,#ff9900 150px,#ff7b00 152px,#ff7200 168px,#ff9100 170px,#ffff0c 172px,#ffff42 172px,#ffff30 174px,#fff200 174px,#ff9c00 176px,#ff6d00 180px,#ff4300 206px,#ffaf00 212px,#ff6700 218px,#ff4d00 236px,#ff1b00 240px,#ca0000 242px,#af0000 242px,#fc1800 244px,#ff5d00 246px,#ff8000 246px,#ff5500 250px,#ff8400 254px,#ff3100 264px,#f60400 268px,#690000 270px,#620000 272px,#ab0000 272px,#f43600 274px,#ffb203 274px,#fff93b 276px,#ffff6e 276px,#ffed0b 278px,#ffc700 280px,#ff9100 282px,#ff4c00 288px,#fd0300 292px,#ff1000 292px,#ff7300 294px,#ff8b00 296px,#ff7300 298px,#ff0b00 302px,#f70100 304px,#ff2600 304px,#ffd100 306px,#fffb00 308px,#ff7900 312px,#ff4000 320px,#fe1100 324px,#bd0000 326px,#710000 328px,#970000 328px,#e51400 330px,#ffd805 332px,#fffd1c 332px,#ffff16 334px,#ffef00 334px,#ff9100 338px,#ff2300 342px,#ff2a00 344px,#ff9000 346px,#ff1300 352px,#d10000 354px,#860000 356px,#8a0000 358px,#c30700 358px,#f44200 360px,#ffad07 360px,#fff13f 362px,#ffff82 362px,#ffff75 364px,#ffdb05 366px,#ff8400 368px,#ff4300 378px,#fe0400 382px,#ca0000 384px,#d40000 384px,#ff0400 386px,#ff6700 388px,#ff7000 388px)"></div><div style="top:54px;height:6px;background:linear-gradient(90deg,#f80000 0px,#cc0000 2px,#d00000 4px,#ff1300 4px,#ffff13 6px,#ffff4d 8px,#ffff11 8px,#ffd000 10px,#ff7a00 12px,#ff6300 16px,#ff6900 32px,#ff7a00 38px,#ffad00 42px,#ff6c00 46px,#ff5c00 50px,#ff4400 76px,#ff6c00 82px,#ff4f00 106px,#ff3e00 108px,#eb0000 112px,#8e0000 114px,#a30000 114px,#f00000 116px,#ff7700 118px,#ff8400 118px,#ff3800 124px,#f70000 134px,#ae0000 136px,#2e0000 138px,#350000 138px,#940000 140px,#f50a00 140px,#fff515 144px,#ffffa0 144px,#ffffe7 146px,#ffff99 146px,#fffe21 148px,#ffd700 148px,#ff9b00 150px,#ff7f00 154px,#ff8600 164px,#ff6d00 168px,#ff8100 170px,#fff600 172px,#ffff44 172px,#ffff50 174px,#ffff17 174px,#ff8f00 178px,#ff6a00 180px,#ff4800 206px,#ffb300 212px,#ff6300 218px,#ff4a00 238px,#f90600 242px,#d70000 242px,#bd0000 244px,#fd1300 246px,#ff6c00 248px,#ff5900 252px,#ff8400 254px,#ff3800 266px,#fe0e00 268px,#eb0100 270px,#540000 272px,#6d0000 274px,#c80900 274px,#fd5800 276px,#ffcf0f 276px,#ffff50 278px,#ffff6c 278px,#ffe806 280px,#ffc300 282px,#ff1600 292px,#ff1500 292px,#ff7e00 296px,#ff8100 296px,#ef0000 302px,#ee0100 304px,#ff3200 306px,#ffef00 308px,#ffff1e 308px,#fff80b 310px,#ff7d00 314px,#ff4100 322px,#fc0e00 326px,#e40100 326px,#8a0000 328px,#890000 330px,#c70100 330px,#fd3800 332px,#ffa200 332px,#ffe601 334px,#fff500 334px,#ff2400 342px,#ff2700 344px,#ff9d00 346px,#ff9e00 348px,#fe0f00 354px,#cc0000 356px,#770000 358px,#770000 360px,#b00400 360px,#ec3300 362px,#ff9702 362px,#ffe731 364px,#ffff77 364px,#ffff81 366px,#ffe50d 368px,#ffc000 368px,#ff7d00 372px,#ff4b00 378px,#f30000 382px,#db0000 384px,#ff0400 386px,#ff6c00 388px,#ff7900 388px)"></div><div style="top:60px;height:6px;background:linear-gradient(90deg,#fd0000 0px,#c40000 4px,#e90000 4px,#ff5800 6px,#ffe100 6px,#ffff4a 8px,#ffff37 8px,#ffea00 10px,#ffb700 10px,#ff8100 12px,#ff6500 16px,#ff7400 36px,#ffb100 42px,#ff6f00 46px,#ff5f00 48px,#ff4500 76px,#ff6d00 82px,#ff5300 104px,#ff4300 108px,#fd0400 112px,#d10000 112px,#a00000 114px,#980000 114px,#ce0000 116px,#ff2000 116px,#ff5d00 118px,#ff7600 118px,#ff3100 124px,#ff0b00 134px,#d70000 136px,#240000 138px,#400000 140px,#a80000 140px,#fb1200 142px,#ffac00 144px,#fff81a 144px,#ffffa7 146px,#ffffe6 146px,#ffff96 148px,#fffe21 148px,#ffd900 150px,#ff9f00 152px,#ff8800 154px,#ff8900 164px,#ff6500 168px,#ff7000 170px,#ffde00 172px,#ffff35 172px,#ffff65 174px,#ffff45 174px,#fff602 176px,#ff8500 178px,#ff6700 182px,#ff4e00 206px,#ffb700 212px,#ff6500 218px,#ff5000 238px,#ff3800 240px,#fc0900 242px,#e10000 244px,#ca0000 244px,#dd0000 246px,#ff1400 246px,#ff5d00 248px,#ff5a00 252px,#ff8300 254px,#ff3700 268px,#fb0a00 270px,#de0000 272px,#650000 274px,#4c0000 274px,#830000 276px,#de1700 276px,#ff7b00 278px,#ffe21c 278px,#ffff5e 280px,#ffff60 280px,#ffe302 282px,#ff9100 286px,#ff2300 292px,#ff7b00 296px,#ef0000 302px,#c80000 304px,#e40100 306px,#ff3800 306px,#fffb10 308px,#ffff40 310px,#ffe300 312px,#ff9900 314px,#ff7600 316px,#ff4800 324px,#ff1f00 326px,#d80000 328px,#960000 330px,#f61900 332px,#ffc000 334px,#ffd600 336px,#ff2400 342px,#ff2300 344px,#ffa700 346px,#ffb300 348px,#fe1300 356px,#d10000 358px,#730000 360px,#680000 362px,#9a0000 362px,#dd2200 364px,#ff7800 364px,#ffd620 366px,#fffd61 366px,#ffff82 368px,#ffef16 370px,#ffcd00 370px,#ff9400 372px,#ff4800 380px,#ff0500 382px,#e40000 384px,#ff0500 386px,#ff7000 388px,#ff8200 388px)"></div><div style="top:66px;height:6px;background:linear-gradient(90deg,#ff0400 0px,#c00000 4px,#cc0000 4px,#ff1f00 6px,#ffa800 6px,#ffff2a 8px,#ffff51 8px,#fffe0c 10px,#ffcc00 10px,#ff7a00 14px,#ff6400 18px,#ff7500 38px,#ffb500 42px,#ff7300 46px,#ff6000 48px,#ff4600 76px,#ff6f00 82px,#ff5000 106px,#ff3d00 110px,#ff1400 112px,#9b0000 114px,#b60000 116px,#fa0300 116px,#ff6600 118px,#ff6c00 120px,#ff3900 124px,#ff0c00 134px,#d30000 136px,#1d0000 140px,#4d0000 140px,#b90000 142px,#fe1a00 142px,#ffb200 144px,#fffa20 146px,#ffffae 146px,#ffffe5 148px,#fffe21 150px,#ffdc00 150px,#ffa300 152px,#ff8d00 154px,#ff8c00 164px,#ff5d00 168px,#ff7f00 170px,#ffff15 172px,#ffff68 174px,#ffff6d 174px,#ffe000 176px,#ff7e00 180px,#ff6000 184px,#ff5600 206px,#ffba00 212px,#ff6600 218px,#ff5000 238px,#ff3900 242px,#fe0b00 244px,#e80000 244px,#d80000 246px,#ec0000 246px,#ff5300 250px,#ff8300 254px,#ff5900 260px,#ff3e00 268px,#ff1900 272px,#ce0000 274px,#520000 276px,#510000 276px,#9f0000 278px,#ee2a00 278px,#ff9b00 280px,#ffef27 280px,#ffff60 282px,#ffff4d 282px,#fff915 284px,#ffdc00 284px,#ffa200 286px,#ff3500 292px,#ff3400 294px,#ff7400 296px,#f40000 302px,#af0000 306px,#d60000 306px,#ff3400 308px,#ffab00 308px,#fffc1f 310px,#ffff5f 310px,#fff20b 312px,#ffc800 314px,#ff7c00 316px,#ff4700 326px,#ff1500 328px,#ca0000 330px,#ae0000 332px,#bd0000 332px,#f50d00 334px,#ffa300 336px,#ffb900 336px,#ff2500 342px,#ff3800 344px,#ffab00 346px,#ffc600 348px,#ff6200 352px,#ff1a00 358px,#dd0100 360px,#7a0000 362px,#600000 364px,#820000 364px,#ca1200 366px,#f95900 366px,#ffbf10 368px,#fff747 368px,#ffff75 370px,#fff51b 372px,#ffd800 372px,#ff9b00 374px,#ff4400 380px,#f80000 384px,#ff0800 386px,#ff7400 388px,#ff8c00 388px)"></div><div style="top:72px;height:6px;background:linear-gradient(90deg,#ff0a00 0px,#ba0000 4px,#ed0000 6px,#fff102 8px,#ffff56 8px,#ffe600 10px,#ff8100 14px,#ff6300 18px,#ff7300 38px,#ffb700 42px,#ff7700 46px,#ff5e00 50px,#ff4700 76px,#ff7100 82px,#ff5100 106px,#ff2100 112px,#fc0200 112px,#a90000 114px,#ab0000 116px,#e10000 116px,#ff2700 118px,#ff6200 120px,#ff3a00 124px,#ff2a00 132px,#ff0d00 136px,#cf0000 138px,#440000 140px,#1b0000 140px,#5b0000 142px,#c80000 142px,#ff2200 144px,#ffb700 146px,#fffc26 146px,#ffffb4 148px,#ffffe3 148px,#fffe22 150px,#ffdf00 152px,#ffa700 154px,#ff9200 156px,#ff9000 164px,#ff4f00 170px,#ff6400 170px,#ffed00 172px,#ffff54 174px,#ffff86 174px,#ffff61 176px,#fffc0c 176px,#ffcb00 178px,#ff8800 180px,#ff6f00 182px,#ff5c00 190px,#ff5a00 206px,#ffbe00 212px,#ff6800 218px,#ff5100 240px,#ff3a00 242px,#ef0000 246px,#fc0200 248px,#ff4200 250px,#ff8200 254px,#ff5c00 260px,#ff3e00 270px,#ff1400 274px,#ee0300 274px,#470000 278px,#600000 278px,#bb0400 280px,#fa4200 280px,#ffb703 282px,#fff82f 282px,#ffff53 284px,#fff207 286px,#ffd100 286px,#ff4900 292px,#ff3f00 294px,#ff6a00 298px,#fd0100 302px,#9d0000 306px,#950000 306px,#c10000 308px,#fb2700 308px,#ff9c00 310px,#fff61f 310px,#ffff72 312px,#ffff6e 312px,#ffdf01 314px,#ff8500 318px,#ff4400 328px,#fb0a00 330px,#e20000 332px,#c70000 332px,#cf0000 334px,#fb0d00 334px,#ff8f00 336px,#ff9f00 338px,#ff1b00 344px,#ff2d00 344px,#ffd400 348px,#ffd700 348px,#ff7300 352px,#fc1100 362px,#bf0000 364px,#630000 366px,#720000 366px,#b80700 368px,#f14000 368px,#ffa705 370px,#ffee30 370px,#ffff5b 372px,#ffff4a 372px,#fff716 374px,#ffda00 374px,#ff9c00 376px,#f90000 384px,#ff0c00 386px,#ff9500 388px)"></div><div style="top:78px;height:6px;background:linear-gradient(90deg,#ff0f00 0px,#fd0000 2px,#b40000 4px,#c90000 6px,#ff2a00 6px,#ffb900 8px,#ffff3b 8px,#ffff54 10px,#fffd0a 10px,#ffcb00 12px,#ff7b00 14px,#ff6500 18px,#ff7100 38px,#ffbb00 42px,#ff7c00 46px,#ff5f00 50px,#ff4800 76px,#ff7300 82px,#ff5a00 88px,#ff5300 106px,#ff3c00 110px,#e70000 114px,#ab0000 116px,#ff0e00 118px,#ff5800 120px,#ff3700 124px,#ff2d00 134px,#ff0e00 136px,#cb0000 138px,#380000 140px,#1c0000 142px,#d30000 144px,#ff2a00 144px,#ffbc00 146px,#fffd2e 148px,#ffffba 148px,#ffffdf 150px,#ffff23 152px,#ffe200 152px,#ffa000 156px,#ff9300 164px,#ff4000 170px,#ff4900 170px,#ff7500 172px,#ffc300 172px,#ffff27 174px,#ffff84 174px,#ffff8f 176px,#ffef00 178px,#ffba00 178px,#ff8200 180px,#ff6400 184px,#ff5d00 206px,#ffc100 214px,#ff6a00 218px,#ff5100 240px,#ff3900 244px,#f60000 246px,#ff8300 256px,#ff5900 260px,#ff4400 272px,#fd0f00 276px,#e20100 276px,#620000 278px,#460000 280px,#780000 280px,#d50e00 282px,#ff6200 282px,#ffd008 284px,#fffd2e 284px,#ffff37 286px,#ffe200 288px,#ff4d00 294px,#ff6700 298px,#ef0000 304px,#850000 306px,#7a0000 308px,#ef1600 310px,#ffe510 312px,#ffff6b 312px,#ffff94 314px,#fff414 316px,#ffcd00 316px,#ff8200 320px,#ff4b00 328px,#ff1400 332px,#de0000 334px,#ff1900 336px,#ff8300 338px,#ff8800 338px,#ff2600 342px,#ff2000 344px,#ffda00 348px,#fff000 348px,#ff7400 354px,#ff1900 364px,#d00000 366px,#6d0000 368px,#6d0000 368px,#ab0200 370px,#eb2e00 370px,#ffe41b 372px,#ffff38 374px,#fff306 376px,#ffd000 376px,#ff0500 384px,#ff1000 386px,#ff9f00 388px)"></div><div style="top:84px;height:6px;background:linear-gradient(90deg,#ff1400 0px,#b30000 6px,#f00100 6px,#fff909 8px,#ffff5d 10px,#ffe500 12px,#ff8200 14px,#ff6700 18px,#ff7100 38px,#ffc000 42px,#ff7400 46px,#ff6000 50px,#ff4900 76px,#ff7500 82px,#ff5a00 88px,#ff5300 106px,#ff4100 110px,#fa0000 114px,#cf0000 114px,#b30000 116px,#c10000 116px,#f70000 118px,#ff4c00 120px,#ff5200 120px,#ff3900 124px,#ff3400 134px,#ff0f00 138px,#c70000 140px,#2f0000 142px,#1f0000 142px,#dd0000 144px,#ff2f00 146px,#ffc200 148px,#fffe37 148px,#ffffbf 150px,#ffffdb 150px,#ffff24 152px,#ffe600 154px,#ff9e00 158px,#ff8d00 166px,#ff3100 170px,#ff4f00 172px,#ffec01 174px,#ffffa2 176px,#ffff89 176px,#ffff2d 178px,#ffdc00 178px,#ff8f00 180px,#ff6600 184px,#ff6100 206px,#ffc800 214px,#ff8600 216px,#ff6500 220px,#ff5100 242px,#fd0200 248px,#ff8400 256px,#ff5b00 260px,#ff4400 274px,#f80900 278px,#d10000 278px,#520000 280px,#510000 282px,#9b0000 282px,#ed2100 284px,#ffe309 286px,#fffe1b 286px,#ffe800 288px,#ff5c00 294px,#ff6400 298px,#fd0200 304px,#e70000 304px,#610000 308px,#840000 310px,#d80600 310px,#ff4f00 312px,#ffbf01 312px,#fffb40 314px,#ffff9b 314px,#ffff98 316px,#ffeb0a 318px,#ffc300 318px,#ff8100 322px,#ff5100 330px,#f30000 334px,#ff0100 336px,#ff7800 338px,#ff1300 344px,#ff1300 344px,#ff3800 346px,#ffd100 348px,#fffe04 348px,#fffb06 350px,#ff9900 352px,#ff7400 354px,#ff2100 366px,#dc0100 368px,#7b0000 370px,#740000 370px,#ac0000 372px,#ec2800 372px,#ffdd0a 374px,#fffc12 376px,#fffb01 376px,#ff1000 384px,#ff1600 386px,#ffa700 388px)"></div><div style="top:90px;height:6px;background:linear-gradient(90deg,#ff1900 0px,#f80000 2px,#aa0000 6px,#c60000 6px,#ff3300 8px,#ffc500 8px,#ffff45 10px,#ffff55 10px,#fffd09 12px,#ffcb00 12px,#ff7c00 16px,#ff6600 20px,#ff6d00 38px,#ffc400 42px,#ff7900 46px,#ff5f00 50px,#ff4a00 76px,#ff7700 82px,#ff5b00 88px,#ff4f00 108px,#ff3900 112px,#ff0b00 114px,#e30000 114px,#c00000 116px,#bd0000 116px,#ff1d00 118px,#ff4d00 120px,#ff3600 134px,#ff0f00 138px,#f20000 140px,#c20000 140px,#270000 142px,#230000 144px,#e40100 146px,#ff3500 146px,#ffc900 148px,#ffff42 150px,#ffffc4 150px,#ffffd5 152px,#ffff24 154px,#ffe900 154px,#ffac00 158px,#ff8f00 166px,#ff1b00 170px,#ff2a00 172px,#ff6000 172px,#ffff1f 174px,#ffff8d 176px,#ffffb3 176px,#ffff7a 178px,#fffd14 178px,#ffcc00 180px,#ff7a00 182px,#ff6300 186px,#ff6400 206px,#ffce00 214px,#ff7b00 218px,#ff6200 220px,#ff5000 242px,#ff0c00 248px,#ff8600 256px,#ff5d00 260px,#ff4800 274px,#ff1700 278px,#ee0300 280px,#b90000 280px,#4c0000 282px,#6c0000 284px,#c60400 284px,#fd4300 286px,#ffad00 286px,#ffea02 288px,#fff500 288px,#ff5a00 294px,#ff6100 298px,#ff1000 304px,#e70000 306px,#4d0000 310px,#620000 310px,#b10000 312px,#f62400 312px,#ffde12 314px,#ffff6b 316px,#ffffb2 316px,#ffff93 318px,#fffd3b 318px,#ffe506 320px,#ffbe00 320px,#ff8300 324px,#ff5800 330px,#ff0a00 336px,#ff6500 338px,#ff6c00 340px,#ff0600 344px,#ff1d00 346px,#fffe04 348px,#ffff2c 350px,#ffde00 352px,#ff9800 354px,#ff7500 356px,#ff4100 366px,#fb1000 368px,#e40200 370px,#890000 372px,#850000 372px,#bd0100 374px,#f52e00 374px,#ffd300 376px,#ffe400 378px,#ff1b00 384px,#ff1c00 386px,#ff3f00 386px,#ffae00 388px)"></div><div style="top:96px;height:6px;background:linear-gradient(90deg,#ff1d00 0px,#ff0200 2px,#ad0000 6px,#ac0000 6px,#f10300 8px,#fffc10 10px,#ffff61 10px,#ffff34 12px,#ffe600 12px,#ff8400 16px,#ff6600 20px,#ff6900 38px,#ff8400 40px,#ffc400 42px,#ffc500 44px,#ff7100 48px,#ff5e00 52px,#ff4a00 76px,#ff7900 82px,#ff5b00 88px,#ff5000 108px,#ff3e00 112px,#ff1800 114px,#c00000 116px,#ff0d00 118px,#ff3500 120px,#ff4700 122px,#ff3900 136px,#ff0f00 140px,#f00000 140px,#be0000 142px,#210000 144px,#290000 144px,#e90200 146px,#ffd100 150px,#ffff50 150px,#ffffc7 152px,#ffffcd 152px,#ffff25 154px,#ffed00 156px,#ffb300 158px,#ff9100 166px,#ff0900 170px,#fe0a00 172px,#ff2e00 172px,#ffd900 174px,#ffff4f 176px,#ffffae 176px,#ffffb8 178px,#fff607 180px,#ff8500 182px,#ff6300 188px,#ff6700 206px,#ff8400 210px,#ffd500 214px,#ff8000 218px,#ff6000 222px,#ff5300 242px,#ff1700 248px,#ff8800 256px,#ff5b00 262px,#ff4700 276px,#fc0c00 280px,#da0000 282px,#600000 284px,#590000 284px,#ed1800 286px,#ffbe00 288px,#ffd700 290px,#ff6100 294px,#ff5700 298px,#ee0000 306px,#450000 310px,#430000 312px,#db0800 314px,#ff4600 314px,#ffa400 316px,#ffeb25 316px,#ffff87 318px,#ffffbc 318px,#ffe405 322px,#ff9300 324px,#ff5f00 332px,#ff2200 336px,#ff2000 336px,#ff6400 340px,#fa0000 344px,#fd0500 346px,#ff3300 346px,#ffe700 348px,#ffff3b 350px,#ffff4b 350px,#fffe1a 352px,#ffdf00 352px,#ff9800 354px,#ff7700 356px,#ff4300 368px,#fc1000 370px,#e60200 372px,#970000 374px,#a00000 374px,#dc0600 376px,#ff4500 376px,#ff9700 378px,#ffbc00 378px,#ffb800 380px,#ff2600 384px,#ff2200 386px,#ff4000 386px,#ffb400 388px)"></div><div style="top:102px;height:6px;background:linear-gradient(90deg,#ff2100 0px,#f50000 4px,#a20000 6px,#c40000 8px,#ff3700 8px,#ffcb00 10px,#ffff4b 10px,#ffff58 12px,#fffd0b 12px,#ffcd00 14px,#ff7e00 16px,#ff6600 22px,#ff6800 40px,#ffcd00 44px,#ff7600 48px,#ff5f00 52px,#ff4b00 76px,#ff7900 84px,#ff5c00 88px,#ff4e00 110px,#ff3600 112px,#ff0400 114px,#c70000 116px,#fe0200 118px,#ff2a00 120px,#ff4500 122px,#ff3e00 136px,#ff0f00 140px,#ef0000 142px,#b90000 142px,#1c0000 144px,#2f0000 146px,#ed0400 148px,#ffdb00 150px,#ffff5e 152px,#ffffc9 152px,#ffffc3 154px,#ffff23 156px,#ffef00 156px,#ffba00 160px,#ff9300 166px,#fa0000 170px,#fa0500 172px,#ff3c00 174px,#fff207 176px,#ffff74 176px,#ffffc4 178px,#ffffb6 178px,#ffec01 180px,#ffb800 182px,#ff8200 184px,#ff6300 188px,#ff6a00 206px,#ff8500 210px,#ffda00 214px,#ff7700 218px,#ff6200 222px,#ff5300 244px,#ff2100 250px,#ff8900 256px,#ff5c00 262px,#ff4a00 278px,#ff1800 282px,#f00300 282px,#bb0000 284px,#5d0000 286px,#800000 286px,#d60400 288px,#ff4200 288px,#ff9100 290px,#ffb200 290px,#ff5800 296px,#ff5700 298px,#f80200 308px,#bc0000 310px,#4d0000 312px,#2f0000 312px,#540000 314px,#ac0000 314px,#f21800 316px,#ffb600 318px,#fff131 318px,#ffff96 320px,#ffffc1 320px,#ffe505 324px,#ff9900 326px,#ff3200 336px,#ff5900 340px,#f00000 344px,#fd0a00 346px,#fffe17 350px,#ffff68 350px,#ffff66 352px,#ffe200 354px,#ff9900 356px,#ff7900 358px,#ff4c00 368px,#fc0e00 372px,#e30100 374px,#ac0000 376px,#cd0000 376px,#fb1d00 378px,#ff9500 380px,#ff9900 380px,#ff2900 386px,#ff4100 386px,#ffb700 388px)"></div><div style="top:108px;height:6px;background:linear-gradient(90deg,#ff2500 0px,#fe0100 4px,#a50000 6px,#a60000 8px,#f10300 8px,#fffc13 10px,#ffff64 12px,#ffff36 12px,#ffe900 14px,#ff8600 16px,#ff6700 22px,#ff6200 40px,#ffd100 44px,#ff7c00 48px,#ff5e00 52px,#ff4c00 76px,#ff7d00 84px,#ff5b00 90px,#ff4c00 110px,#ee0000 116px,#d20000 118px,#f50000 118px,#ff4200 122px,#ff4000 136px,#ff0f00 142px,#ec0000 142px,#b40000 144px,#190000 146px,#350000 146px,#f00500 148px,#ffe503 152px,#ffff6e 152px,#ffffc8 154px,#ffffb6 154px,#ffff21 156px,#fff100 158px,#ffc900 160px,#ff9500 166px,#f00000 170px,#d90000 172px,#f90700 174px,#ffb000 176px,#fffc1a 176px,#ffff90 178px,#ffffd3 178px,#ffffb1 180px,#ffff43 180px,#ffe400 182px,#ffb200 182px,#ff8000 184px,#ff6300 190px,#ff6d00 206px,#ff8700 210px,#ffe100 214px,#ff7c00 218px,#ff6300 222px,#ff5500 244px,#ff2900 250px,#ff8b00 256px,#ff5d00 262px,#ff4800 280px,#fa0900 284px,#d30000 284px,#6c0000 286px,#7a0000 288px,#c10000 288px,#fc2300 290px,#ff6b00 290px,#ff8d00 292px,#ff5700 296px,#ff5600 298px,#fe0b00 308px,#d50000 310px,#310000 314px,#2f0000 314px,#cd0200 316px,#fb2700 318px,#ffbf02 320px,#fff43a 320px,#ffff9e 322px,#ffffc2 322px,#ffe907 326px,#ffa000 328px,#ff4800 336px,#ff5700 340px,#ff0800 344px,#e90000 344px,#d60000 346px,#fd1100 348px,#ffce00 350px,#ffff3d 350px,#ffff8a 352px,#ffff82 352px,#ffea02 354px,#ff9e00 356px,#ff7b00 358px,#ff4c00 370px,#f90900 374px,#df0000 376px,#c70000 376px,#fc1000 378px,#ff7700 380px,#ff7d00 382px,#ff3000 386px,#ff4200 386px,#ffb800 388px)"></div><div style="top:114px;height:6px;background:linear-gradient(90deg,#ff2800 0px,#f30000 4px,#9a0000 8px,#c00000 8px,#ff3700 10px,#ffcc00 10px,#ffff4c 12px,#ffff5a 12px,#fffe0e 14px,#ffd000 14px,#ff8100 18px,#ff6700 22px,#ff7000 36px,#ff5c00 40px,#ff8000 42px,#ffd100 44px,#ffd300 44px,#ff7400 48px,#ff5f00 52px,#ff4e00 78px,#ff8000 84px,#ff5c00 90px,#ff4d00 110px,#ff3100 114px,#fb0000 116px,#d40000 118px,#ff1600 120px,#ff4000 122px,#ff4300 126px,#ff4100 138px,#ff0e00 142px,#e90000 144px,#170000 146px,#3b0000 148px,#f30700 150px,#ffee09 152px,#ffff7c 154px,#ffffc3 154px,#ffffa7 156px,#ffff1c 158px,#fff200 158px,#ff9700 166px,#ff0f00 170px,#eb0000 170px,#bd0000 172px,#fb0e00 174px,#ffc300 176px,#ffff2d 178px,#ffffa2 178px,#ffffdd 180px,#ffffad 180px,#ffff38 182px,#ffdd00 182px,#ffae00 184px,#ff8000 186px,#ff6400 190px,#ff7400 208px,#ff9700 210px,#ffec00 214px,#ff8300 218px,#ff6100 222px,#ff5600 244px,#ff3400 250px,#ff8000 254px,#ff8c00 256px,#ff5f00 262px,#ff4a00 280px,#fe1000 284px,#7f0000 288px,#800000 288px,#f81200 290px,#ff6d00 292px,#ff6d00 294px,#fe0b00 310px,#ca0000 312px,#220000 316px,#3d0000 316px,#e00800 318px,#ff3400 320px,#ffc604 322px,#fff740 322px,#ffffa3 324px,#ffffc0 324px,#fffd37 326px,#ffed09 328px,#ffd100 328px,#ff5400 338px,#ff5500 340px,#ff0700 344px,#e50000 344px,#bc0000 346px,#fd1900 348px,#ffdb00 350px,#ffff4e 352px,#ffffa2 352px,#ffffa1 354px,#fff30c 356px,#ffc800 356px,#ff8f00 358px,#ff7600 360px,#ff4b00 372px,#ff1800 376px,#e30000 378px,#ff1300 380px,#ff6600 382px,#ff3600 386px,#ff4300 386px,#ffb500 388px)"></div><div style="top:120px;height:6px;background:linear-gradient(90deg,#ff2c00 0px,#fd0100 4px,#9e0000 8px,#a00000 8px,#ee0200 10px,#fffc12 12px,#ffff64 12px,#ffff3a 14px,#ffec00 14px,#ff8a00 18px,#ff6900 22px,#ff7100 34px,#ff5a00 40px,#ffdb00 44px,#ff7b00 48px,#ff6000 52px,#ff4f00 78px,#ff8200 84px,#ff5c00 90px,#ff4f00 110px,#ff3700 114px,#ff0800 116px,#e80000 116px,#e90000 118px,#ff3d00 122px,#ff4600 126px,#ff4200 138px,#ff0d00 144px,#e60000 144px,#160000 148px,#420000 148px,#f60a00 150px,#fff713 154px,#ffff89 154px,#ffffba 156px,#ffff95 156px,#ffff16 158px,#fff100 160px,#ff9900 166px,#ff0e00 170px,#e80000 170px,#ad0000 172px,#a80000 174px,#fe1900 176px,#ffd000 178px,#ffff3a 178px,#ffffae 180px,#ffffe4 180px,#ffffab 182px,#ffff32 182px,#ffda00 184px,#ff8000 186px,#ff6500 192px,#ff7700 208px,#ffa900 212px,#fff400 214px,#ff7a00 220px,#ff6300 222px,#ff5600 244px,#ff3900 250px,#ff9000 256px,#ff5d00 262px,#ff4c00 282px,#ff1600 286px,#ee0100 286px,#900000 288px,#8d0000 290px,#f80b00 292px,#ff3b00 292px,#ff5300 294px,#ff5500 298px,#ff1b00 312px,#eb0100 314px,#bf0000 314px,#370000 316px,#1e0000 318px,#510000 318px,#ec0d00 320px,#ffcd06 324px,#fffa47 324px,#ffffa6 326px,#ffffb9 326px,#fffe36 328px,#fff109 330px,#ffd800 330px,#ff6700 338px,#ff5500 340px,#ff0700 344px,#e30000 344px,#a70000 346px,#a40000 348px,#fd1b00 350px,#ffd601 352px,#ffff46 352px,#ffffa8 354px,#ffffc1 354px,#ffff84 356px,#fffc26 356px,#ffdb00 358px,#ff9800 360px,#ff7b00 362px,#ff5200 374px,#f90300 378px,#ff0200 380px,#ff5d00 382px,#ff4500 386px,#ffaf00 388px)"></div><div style="top:126px;height:6px;background:linear-gradient(90deg,#ff2f00 0px,#f20000 6px,#940000 8px,#bb0000 10px,#ff3300 10px,#ffc800 12px,#ffff49 12px,#ffff5c 14px,#ffff13 14px,#ff9400 18px,#ff6a00 24px,#ff6f00 36px,#ff5100 40px,#ff6000 42px,#ffde00 44px,#ff7400 50px,#ff5f00 54px,#ff4f00 78px,#ff8500 84px,#ff5d00 90px,#ff4c00 112px,#f40000 116px,#e00000 118px,#ff0800 120px,#ff3a00 122px,#ff4800 126px,#ff4300 140px,#ff0b00 144px,#e20000 146px,#480000 148px,#170000 148px,#4a0000 150px,#ab0000 150px,#f90d00 152px,#ffb200 154px,#fffd21 154px,#ffff90 156px,#ffffac 156px,#ffff0d 160px,#ff9a00 166px,#ff0e00 170px,#910000 174px,#990000 174px,#cf0000 176px,#ff2700 176px,#ffd600 178px,#ffff3f 180px,#ffffb3 180px,#ffffea 182px,#ffffad 182px,#ffff32 184px,#ffda00 184px,#ff8100 188px,#ff6400 194px,#ff7900 208px,#ffa700 212px,#fffa00 214px,#fffb01 216px,#ff8200 220px,#ff5f00 224px,#ff5700 244px,#ff3f00 250px,#ff9400 256px,#ff5e00 262px,#ff4d00 282px,#ff1a00 286px,#f30200 288px,#9f0000 290px,#9e0000 290px,#fb0800 292px,#ff2f00 294px,#ff5500 300px,#ff1d00 314px,#e60100 316px,#280000 318px,#220000 320px,#f31300 322px,#ffd60a 326px,#fffd52 326px,#ffffa7 328px,#ffffab 328px,#fff308 332px,#ff4400 342px,#ff0700 344px,#e40000 344px,#880000 348px,#8e0000 348px,#fb1800 350px,#ffc300 352px,#fff92a 354px,#ffff92 354px,#ffffd1 356px,#ffffb8 356px,#fff00d 358px,#ffc600 360px,#ff7900 364px,#ff5800 374px,#ff1400 380px,#ff5200 382px,#ff4600 386px,#ffa400 388px)"></div><div style="top:132px;height:6px;background:linear-gradient(90deg,#ff3100 0px,#fd0100 6px,#990000 8px,#9a0000 10px,#ea0100 10px,#fff90d 12px,#ffff62 14px,#ffff3f 14px,#fff100 16px,#ffa200 18px,#ff7800 20px,#ff6f00 36px,#ff4800 40px,#ff5100 42px,#ffda00 44px,#ffe400 46px,#ff7a00 50px,#ff6000 54px,#ff5000 78px,#ff8700 84px,#ff5c00 90px,#ff4d00 112px,#ff3100 114px,#fe0100 116px,#e70000 118px,#ff3800 122px,#ff4b00 126px,#ff4400 140px,#fe0900 146px,#dc0000 146px,#400000 148px,#190000 150px,#520000 150px,#b30000 152px,#fb1300 152px,#ffc300 154px,#ffff35 156px,#ffff92 156px,#ffff98 158px,#ffff30 160px,#fffd04 160px,#ff9c00 166px,#ff0f00 170px,#7b0000 174px,#910000 176px,#d70000 176px,#ff3300 178px,#ffd700 180px,#ffff3c 180px,#ffffb2 182px,#ffffee 182px,#ffffb3 184px,#ffff37 184px,#ffdd00 186px,#ff8300 188px,#ff6600 194px,#ff7c00 208px,#ffa500 212px,#fffc00 214px,#ffff0f 216px,#fff600 216px,#ff7a00 220px,#ff6000 224px,#ff4500 250px,#ff9800 256px,#ff5f00 262px,#ff4d00 284px,#ff1b00 288px,#f60200 288px,#ad0000 290px,#b10000 292px,#fe0b00 294px,#ff3900 296px,#ff5700 300px,#ff3f00 312px,#ff1d00 316px,#e00000 318px,#1e0000 320px,#2b0000 322px,#c80000 324px,#f71800 324px,#ffe212 328px,#ffff60 328px,#ffffa0 330px,#ffff93 330px,#fffe21 332px,#fff102 334px,#ff0800 344px,#e70000 344px,#6b0000 348px,#790000 350px,#f71100 352px,#ffe60b 354px,#ffffbc 356px,#ffffde 358px,#ffffa3 358px,#fffd3c 360px,#ffe404 360px,#ff9f00 362px,#ff8100 364px,#ff5e00 376px,#ff2a00 380px,#ff5800 384px,#ff4700 386px,#ff5e00 388px,#ff9500 388px)"></div><div style="top:138px;height:6px;background:linear-gradient(90deg,#ff3400 0px,#ff0a00 6px,#8f0000 10px,#b40000 10px,#ff2b00 12px,#ffc000 12px,#ffff41 14px,#ffff5d 14px,#ffff1a 16px,#ffdb00 16px,#ff9900 18px,#ff7d00 20px,#ff6f00 36px,#ff4200 40px,#ff5c00 42px,#ffcc00 44px,#ffea00 46px,#ff8300 50px,#ff6000 54px,#ff5000 78px,#ff8a00 84px,#ff5d00 90px,#ff4f00 112px,#f00000 118px,#fe0000 120px,#ff4000 122px,#ff4e00 126px,#ff4800 140px,#ff1f00 146px,#fd0600 146px,#d60000 148px,#390000 150px,#1d0000 150px,#5c0000 152px,#bc0000 152px,#fe1b00 154px,#ffd600 156px,#ffff48 156px,#ffff8a 158px,#ffff7f 158px,#ffff1b 160px,#fff500 162px,#ff9d00 166px,#ff1100 170px,#720000 174px,#6a0000 176px,#8f0000 176px,#df0100 178px,#ff3b00 178px,#ffd300 180px,#fffe33 182px,#ffffab 182px,#fffff0 184px,#ffffbd 184px,#ffff42 186px,#ffe200 186px,#ff8500 190px,#ff6900 194px,#ff7e00 208px,#ffb400 212px,#fff900 214px,#ffff1e 216px,#ffff14 216px,#ff8300 220px,#ff5f00 226px,#ff4c00 252px,#ff9c00 256px,#ff5d00 264px,#ff4d00 284px,#ff3100 288px,#f60200 290px,#bb0000 292px,#ff1400 294px,#ff5900 300px,#ff4200 314px,#ff1d00 318px,#d80000 320px,#460000 322px,#190000 322px,#380000 324px,#d30200 326px,#fb2000 326px,#ffaf00 328px,#ffef1f 330px,#ffff6c 330px,#ffff8b 332px,#fffb09 334px,#ffe100 336px,#ff0a00 344px,#eb0000 344px,#510000 350px,#650000 350px,#ef0800 352px,#ffbf00 356px,#ffef1a 356px,#ffffd0 358px,#ffffdf 360px,#fffa2f 362px,#ffdd02 362px,#ff9e00 364px,#ff8300 366px,#ff6500 376px,#ff4100 380px,#ff5a00 384px,#ff4900 386px,#ff8300 388px)"></div><div style="top:144px;height:6px;background:linear-gradient(90deg,#ff3600 0px,#fe0200 6px,#970000 10px,#940000 10px,#e30000 12px,#fff507 14px,#ffff5d 14px,#ffff43 16px,#fff601 16px,#ffa700 18px,#ff7b00 22px,#ff6f00 36px,#ff3900 42px,#ff7200 44px,#ffe800 46px,#ffec00 46px,#ff7b00 50px,#ff6100 54px,#ff5100 78px,#ff8f00 84px,#ff5e00 90px,#ff4b00 112px,#f90000 118px,#fc0000 120px,#ff3f00 122px,#ff5100 126px,#ff4800 142px,#ff1d00 146px,#fb0400 148px,#ce0000 148px,#330000 150px,#230000 152px,#c80000 154px,#ff2700 154px,#ffe902 156px,#ffff54 158px,#ffff7a 158px,#ffff32 160px,#fffe04 162px,#ff9e00 166px,#f40000 170px,#5e0000 176px,#5d0000 176px,#910000 178px,#e60200 178px,#ff3f00 180px,#ffcb00 182px,#fffc26 182px,#ffff9d 184px,#fffff0 184px,#ffffcb 186px,#ffff52 186px,#ffe903 188px,#ffba00 188px,#ff8900 190px,#ff7100 194px,#ff6e00 204px,#ffa100 212px,#fff100 214px,#ffff31 216px,#fffe0b 218px,#ffd700 218px,#ff7c00 222px,#ff6100 226px,#ff5000 252px,#ffa000 256px,#ff5f00 264px,#ff4d00 286px,#ff2f00 288px,#f60100 290px,#ca0000 292px,#fe0300 294px,#ff5b00 300px,#ff4700 314px,#ff1a00 320px,#f50600 320px,#cb0000 322px,#340000 324px,#190000 324px,#480000 326px,#de0500 328px,#fe2c00 328px,#ffc902 330px,#fffa2c 332px,#ffff63 332px,#ffff5f 334px,#fffc06 336px,#ff5a00 340px,#f10000 344px,#3c0000 350px,#510000 352px,#e30200 354px,#ff2c00 354px,#ffc700 358px,#fff121 358px,#ffffd8 360px,#ffffdf 362px,#fff82c 364px,#ffdc02 364px,#ffa100 366px,#ff7b00 370px,#ff4a00 386px,#ff6f00 388px)"></div><div style="top:150px;height:6px;background:linear-gradient(90deg,#ff3800 0px,#ff0c00 6px,#f40000 8px,#8c0000 10px,#ad0000 12px,#ff2000 12px,#ffb400 14px,#ffff35 14px,#ffff5b 16px,#ffff20 16px,#ffe100 18px,#ff9e00 20px,#ff8100 22px,#ff6e00 36px,#ff3000 42px,#ff5500 44px,#ffd800 46px,#fff600 46px,#ff8400 50px,#ff6000 56px,#ff5100 78px,#ff9200 84px,#ff5d00 92px,#ff4d00 112px,#f30000 118px,#ff3f00 122px,#ff5300 126px,#ff4800 142px,#ff1900 148px,#f70100 148px,#c40000 150px,#2d0000 152px,#2b0000 152px,#d60000 154px,#ff3a00 156px,#fff60b 158px,#ffff54 158px,#ffff61 160px,#ffff12 162px,#ff9f00 166px,#fa0000 170px,#4d0000 176px,#550000 178px,#930000 178px,#ea0400 180px,#ffc200 182px,#fff819 184px,#ffffeb 186px,#ffffda 186px,#fff109 188px,#ffc200 190px,#ff7a00 194px,#ff6f00 202px,#ffa700 212px,#ffe200 214px,#ffff44 216px,#ffff34 218px,#fff602 218px,#ff8700 222px,#ff6000 226px,#ff5400 252px,#ffa400 258px,#ff6000 264px,#ff4d00 286px,#f40000 292px,#dd0000 294px,#f50000 294px,#ff5300 298px,#ff5e00 300px,#ff4800 316px,#ff1400 322px,#ee0300 322px,#b80000 324px,#250000 326px,#210000 326px,#aa0000 328px,#eb0b00 330px,#ff4300 330px,#ffe107 332px,#ffff38 334px,#ffff1a 336px,#ffef00 336px,#ff5b00 340px,#ff0e00 344px,#b70000 348px,#2d0000 352px,#3d0000 352px,#d10000 354px,#fd1800 356px,#ffc700 360px,#fff021 360px,#ffffda 362px,#ffffe0 364px,#fff930 366px,#ffe004 366px,#ffa700 368px,#ff8700 372px,#ff6700 384px,#ff4500 388px,#ff5800 388px)"></div><div style="top:156px;height:6px;background:linear-gradient(90deg,#ff3a00 0px,#ff2b00 4px,#fe0300 8px,#960000 10px,#900000 12px,#d90000 12px,#ff6300 14px,#ffec02 14px,#ffff54 16px,#ffff45 16px,#fffa03 18px,#ffac00 20px,#ff7f00 22px,#ff6e00 36px,#ff2800 42px,#ff3b00 44px,#fff300 46px,#fff600 48px,#ff7e00 52px,#ff6200 56px,#ff5200 78px,#ff9500 84px,#ff5e00 92px,#ff4e00 112px,#f80000 118px,#ff3f00 122px,#ff5600 126px,#ff4800 144px,#ff1500 148px,#f10000 150px,#2a0000 152px,#370000 154px,#860000 154px,#e80200 156px,#fffd14 158px,#ffff49 160px,#ffff1c 162px,#fff400 162px,#ff0200 170px,#a80000 174px,#400000 178px,#4e0000 178px,#950000 180px,#eb0400 180px,#fff10d 184px,#ffffe0 186px,#ffffe8 188px,#fff815 190px,#ffcd00 190px,#ff9400 192px,#ff7e00 194px,#ff7200 202px,#ff9f00 212px,#ffad00 214px,#fffd05 216px,#ffff46 216px,#ffff58 218px,#ffe900 220px,#ff8100 222px,#ff6000 228px,#ff5700 252px,#ffab00 258px,#ff6100 264px,#ff4c00 288px,#f40000 292px,#f20000 294px,#ff5200 298px,#ff6200 300px,#ff4b00 318px,#ff2400 322px,#df0000 324px,#4d0000 326px,#1d0000 328px,#320000 328px,#c40000 330px,#f81b00 332px,#ffb700 334px,#ffeb05 334px,#fffa07 336px,#ffef00 336px,#ff3e00 342px,#fd0000 344px,#bc0000 348px,#250000 352px,#280000 354px,#b80000 356px,#f40a00 356px,#ffc300 362px,#ffed1c 362px,#ffffd7 364px,#ffffe4 366px,#fffc39 368px,#ffe708 368px,#ff9700 372px,#ff7000 384px,#ff3d00 388px,#ff4100 388px)"></div><div style="top:162px;height:6px;background:linear-gradient(90deg,#ff3c00 0px,#ff0f00 8px,#f60000 8px,#8b0000 12px,#a60000 12px,#fd1500 14px,#ffa500 14px,#ffff24 16px,#ffff57 16px,#ffff25 18px,#ffe600 18px,#ffa300 20px,#ff8500 22px,#ff6e00 36px,#ff1e00 42px,#ff4b00 44px,#ffe100 46px,#ffff03 48px,#ff8800 52px,#ff6100 56px,#ff5300 78px,#ff9900 86px,#ff5f00 92px,#ff4b00 114px,#fd0000 118px,#ff3e00 122px,#ff5900 126px,#ff4800 144px,#ff0f00 150px,#e70000 150px,#2a0000 154px,#470000 154px,#9c0000 156px,#f70b00 156px,#ffce00 158px,#ffff18 160px,#ffff33 160px,#ffff1d 162px,#fff700 162px,#ff0800 170px,#c00000 174px,#350000 178px,#490000 180px,#950000 180px,#eb0400 182px,#ffe704 186px,#ffff57 186px,#ffffcf 188px,#fffff2 188px,#fffd28 190px,#ffdb00 192px,#ff9c00 194px,#ff8300 196px,#ff7500 202px,#ff9d00 214px,#ffe700 216px,#ffff69 218px,#ffff61 218px,#ffff1f 220px,#ffdc00 220px,#ff7d00 224px,#ff6000 228px,#ff5a00 252px,#ffb200 258px,#ff6000 264px,#ff4b00 288px,#f70000 294px,#ff0b00 296px,#ff5200 298px,#ff6600 300px,#ff4b00 320px,#ff1b00 324px,#f40500 326px,#330000 328px,#220000 330px,#4e0000 330px,#e30600 332px,#ff3e00 334px,#ffc300 336px,#ffd300 336px,#ff1400 344px,#db0000 348px,#b00000 350px,#290000 354px,#180000 354px,#460000 356px,#9a0000 356px,#e30200 358px,#ff1b00 358px,#ffbe00 364px,#ffea18 364px,#ffffd3 366px,#ffffe7 368px,#fffe46 370px,#ffef0e 370px,#ffd500 372px,#ffa400 374px,#ff7900 384px,#ff2b00 388px)"></div><div style="top:168px;height:6px;background:linear-gradient(90deg,#ff3d00 0px,#ff2e00 6px,#ff0600 8px,#980000 12px,#8d0000 12px,#ce0000 14px,#ff5400 14px,#ffde00 16px,#ffff47 16px,#ffff45 18px,#fffd06 18px,#ffb200 20px,#ff8200 24px,#ff6e00 36px,#ff1500 44px,#ff2b00 44px,#fffc01 48px,#fffe06 48px,#ff8200 52px,#ff6100 58px,#ff5500 78px,#ff9e00 86px,#ff6100 92px,#ff4c00 114px,#ff0100 120px,#ff3e00 122px,#ff5d00 128px,#ff4800 146px,#ff3300 148px,#fe0800 150px,#dc0000 152px,#500000 154px,#2f0000 154px,#5b0000 156px,#b60000 156px,#ff2100 158px,#ffdf00 160px,#ffff13 162px,#fff700 162px,#ff3e00 168px,#fd0100 172px,#c20000 176px,#2d0000 180px,#430000 180px,#920000 182px,#e80300 182px,#ff3400 184px,#ffd900 186px,#fffe3b 188px,#ffffb8 188px,#fffff6 190px,#ffffb7 190px,#ffff42 192px,#ffe903 192px,#ffc000 194px,#ff8a00 196px,#ff7a00 202px,#ff9b00 210px,#ff8d00 214px,#ffc500 216px,#fffc09 216px,#ffff5b 218px,#ffff82 218px,#ffff61 220px,#fffd13 220px,#ffd100 222px,#ff7b00 224px,#ff6000 230px,#ff5d00 252px,#ffb800 258px,#ff6600 264px,#ff5200 288px,#ff3f00 290px,#fe0100 294px,#ff6900 300px,#ff4d00 320px,#ff2600 326px,#df0000 328px,#520000 330px,#270000 330px,#390000 332px,#c70000 334px,#fc1f00 334px,#ff9900 336px,#ffa500 338px,#ff3800 342px,#ff0500 346px,#ea0000 350px,#c70000 352px,#130000 356px,#260000 356px,#c40000 358px,#f60a00 360px,#ffbb00 366px,#ffe915 366px,#ffff6a 368px,#ffffd2 368px,#ffffea 370px,#fff718 372px,#ffe301 374px,#ffb500 376px,#ff9200 384px,#ff1700 388px)"></div><div style="top:174px;height:6px;background:linear-gradient(90deg,#ff3f00 0px,#ff3200 6px,#f90000 10px,#8c0000 12px,#a00000 14px,#f90c00 14px,#fffd13 16px,#ffff4f 18px,#ffff28 18px,#ffeb00 20px,#ffa800 22px,#ff8900 24px,#ff6e00 36px,#ff0b00 44px,#ff1100 44px,#ff3b00 46px,#ffe200 48px,#ffff12 48px,#fff902 50px,#ff8e00 52px,#ff6300 58px,#ff5500 78px,#ff6b00 82px,#ffa100 86px,#ff5f00 92px,#ff4d00 114px,#ff0400 120px,#ff3e00 122px,#ff6000 128px,#ff4a00 146px,#ff1d00 150px,#fb0300 152px,#460000 154px,#3a0000 156px,#750000 156px,#d70000 158px,#ff4300 158px,#ffa600 160px,#ffe800 160px,#fffb02 162px,#ffd900 164px,#ff4100 168px,#ff0800 172px,#c70000 176px,#270000 180px,#3c0000 182px,#8b0000 182px,#e30200 184px,#ff2c00 184px,#ffca00 188px,#fffa24 188px,#ffff9e 190px,#fffff2 190px,#ffffcf 192px,#fff40c 194px,#ffce00 194px,#ff9e00 196px,#ff8500 200px,#ff9b00 210px,#ff7f00 214px,#ff9d00 216px,#ffd700 216px,#ffff2c 218px,#ffff7e 218px,#ffff93 220px,#fffa0d 222px,#ffca00 222px,#ff7900 226px,#ff6000 230px,#ff6000 252px,#ffbf00 258px,#ff6400 264px,#ff5100 288px,#ff0b00 294px,#ff6d00 300px,#ff4c00 322px,#ff1600 328px,#ef0100 328px,#370000 332px,#350000 332px,#f50e00 336px,#ff7300 338px,#ff7900 338px,#ff2400 342px,#fe0500 350px,#c50000 354px,#250000 356px,#0f0000 358px,#420000 358px,#990000 360px,#e00100 360px,#fd1400 362px,#ffbc00 368px,#ffeb16 368px,#ffffd4 370px,#ffffe9 372px,#ffff61 374px,#fffc22 374px,#fff005 376px,#ffa100 384px,#ff7400 386px,#ff0600 388px)"></div><div style="top:180px;height:6px;background:linear-gradient(90deg,#ff4000 0px,#ff3000 6px,#ff0900 10px,#8c0000 14px,#c40000 14px,#ff4400 16px,#ffce00 16px,#ffff37 18px,#ffff41 18px,#fffe08 20px,#ffb700 22px,#ff8600 24px,#ff6700 36px,#fe0200 44px,#ff1500 46px,#fffc05 48px,#ffff18 50px,#ffed00 50px,#ff8800 54px,#ff6300 58px,#ff5500 78px,#ff6700 82px,#ffa700 86px,#ff6100 92px,#ff4e00 114px,#ff0700 120px,#ff3e00 122px,#ff6400 128px,#ff4a00 146px,#ff1600 152px,#f20000 152px,#420000 156px,#4d0000 156px,#960000 158px,#f60700 158px,#ffbb00 160px,#ffe500 162px,#ffe800 162px,#ff2d00 170px,#f00000 176px,#b10000 178px,#240000 182px,#330000 182px,#db0000 184px,#ff2200 186px,#fff312 190px,#ffffe7 192px,#ffffe1 192px,#fffc1d 194px,#ffdd00 196px,#ff9200 200px,#ff9b00 210px,#ff6800 214px,#ff7500 216px,#ffe800 218px,#ffff99 220px,#ffffa1 220px,#fff70b 222px,#ffc600 224px,#ff7900 226px,#ff6000 232px,#ff6700 252px,#ffca00 258px,#ff6700 264px,#ff5300 288px,#ff1700 294px,#ff7100 302px,#ff5800 306px,#ff4d00 324px,#ff1d00 328px,#f70400 330px,#490000 332px,#3c0000 334px,#640000 334px,#ef0600 336px,#ff3300 338px,#ff5200 340px,#ff1d00 344px,#fe0800 352px,#c40000 356px,#160000 358px,#180000 360px,#b50000 362px,#ee0500 362px,#ff1c00 364px,#ff7600 368px,#ffc200 370px,#fff01e 370px,#ffffd9 372px,#ffffe2 374px,#ffff2c 376px,#ffee01 378px,#ffb200 384px,#f70000 388px)"></div><div style="top:186px;height:6px;background:linear-gradient(90deg,#ff4100 0px,#ff3500 6px,#fc0100 10px,#8f0000 14px,#9b0000 14px,#f20500 16px,#fff607 18px,#ffff42 18px,#ffff26 20px,#ffee00 20px,#ffac00 22px,#ff8d00 24px,#ff6d00 36px,#ff0500 44px,#fa0100 46px,#ff2200 46px,#ffda00 48px,#ffff1d 50px,#ffff11 50px,#ff8300 54px,#ff6300 60px,#ff5600 78px,#ff6d00 84px,#ffad00 86px,#ff6300 92px,#ff4f00 114px,#ff0a00 120px,#ff4a00 124px,#ff6700 128px,#ff4900 148px,#ff3500 150px,#ff0d00 152px,#e40000 154px,#670000 156px,#460000 156px,#680000 158px,#be0000 158px,#ff2900 160px,#ff8900 160px,#ffc600 162px,#ffd900 162px,#ff3200 170px,#f80000 176px,#ba0000 180px,#240000 182px,#2a0000 184px,#ce0000 186px,#fe1800 186px,#ffea07 190px,#ffffd7 192px,#ffffec 194px,#ffff35 196px,#ffec02 196px,#ffca00 198px,#ff9500 202px,#ff9c00 210px,#ff4f00 216px,#ff6b00 216px,#fff207 218px,#ffffad 220px,#ffffad 222px,#fff60c 224px,#ffc600 224px,#ff7900 228px,#ff6100 232px,#ff6900 252px,#ffd400 258px,#ff7400 264px,#ff6100 266px,#ff5200 290px,#ff1c00 296px,#ff7700 302px,#ff5a00 306px,#ff4e00 324px,#ff2100 330px,#fa0600 330px,#590000 334px,#490000 334px,#6c0000 336px,#ef0200 338px,#ff2300 338px,#ff3700 340px,#ff0f00 354px,#e80000 356px,#c30000 358px,#0e0000 360px,#270000 362px,#c70000 364px,#f40800 364px,#ff2000 366px,#ff7a00 370px,#ffd100 372px,#fff92f 372px,#ffff99 374px,#ffffdc 374px,#ffffd4 376px,#ffff33 378px,#fff602 380px,#ffc100 384px,#ed0000 388px)"></div><div style="top:192px;height:6px;background:linear-gradient(90deg,#ff4300 0px,#ff3800 6px,#ff0d00 10px,#8c0000 14px,#bc0000 16px,#ff3500 16px,#ffbd00 18px,#ffff23 18px,#ffff38 20px,#fffe08 20px,#ffbb00 22px,#ff8a00 26px,#ff6d00 36px,#ff0700 44px,#f90200 46px,#ff3900 48px,#fff704 50px,#ffff29 50px,#fffc07 52px,#ffac00 54px,#ff8000 56px,#ff6300 60px,#ff5f00 82px,#ffb000 88px,#ff6600 92px,#ff5000 114px,#ff0e00 120px,#ff6a00 128px,#ff4c00 148px,#ff1e00 152px,#fd0300 154px,#5c0000 156px,#540000 158px,#8c0000 158px,#eb0100 160px,#ffa000 162px,#ffc400 162px,#ffc500 164px,#ff3700 170px,#fe0400 178px,#c60000 180px,#280000 184px,#210000 184px,#be0000 186px,#f90f00 188px,#ffdf01 192px,#ffff4b 192px,#ffffc4 194px,#ffffef 194px,#fff70b 198px,#ffd800 198px,#ff9f00 202px,#ff9c00 210px,#ff2f00 216px,#ff3700 216px,#ff6200 218px,#fff50f 220px,#ffffbb 222px,#ffffbb 222px,#fff811 224px,#ffc900 226px,#ff7b00 228px,#ff6200 234px,#ff6b00 252px,#ffdf00 260px,#ff7d00 264px,#ff6000 268px,#ff5400 290px,#ff2300 296px,#ff7d00 302px,#ff5a00 308px,#ff4c00 326px,#ff2200 330px,#fc0700 332px,#660000 334px,#5a0000 336px,#7d0000 336px,#f30100 338px,#ff1900 340px,#ff2f00 352px,#ff1600 356px,#ea0100 358px,#0c0000 362px,#350000 364px,#d10000 366px,#f70a00 366px,#ff6500 370px,#ffe408 374px,#ffffb2 376px,#ffffd4 376px,#ffff2a 380px,#fffd09 382px,#ffd100 384px,#ff1d00 388px,#e70000 388px)"></div><div style="top:198px;height:6px;background:linear-gradient(90deg,#ff4400 0px,#ff3700 8px,#fe0300 12px,#930000 14px,#990000 16px,#eb0100 16px,#ffeb00 18px,#ffff33 20px,#ffff21 20px,#ffef00 22px,#ff9000 26px,#ff6d00 36px,#ff0b00 44px,#e30000 46px,#fb0700 48px,#ffc200 50px,#ffff1a 50px,#ffff2a 52px,#fff501 52px,#ff8c00 56px,#ff6500 60px,#ff5b00 82px,#ff6d00 84px,#ffb800 88px,#ff6400 94px,#ff5100 114px,#ff1200 120px,#ff6f00 128px,#ff4b00 148px,#ff1500 154px,#f10000 154px,#5a0000 158px,#6e0000 158px,#ff1f00 160px,#ff7700 162px,#ffab00 162px,#ffb900 164px,#ff3000 170px,#ff0c00 178px,#d20000 182px,#300000 184px,#1a0000 186px,#4f0000 186px,#a90000 188px,#f10700 188px,#ffd300 192px,#fffe36 194px,#ffffb0 194px,#ffffeb 196px,#ffffc1 196px,#fffd18 198px,#ffe600 200px,#ffa900 204px,#ff9d00 210px,#ff0d00 216px,#ff2100 218px,#ff5900 218px,#fff410 220px,#ffffc2 222px,#ffffcb 224px,#fffb1c 226px,#ffd100 226px,#ff7e00 230px,#ff6300 234px,#ff6e00 252px,#ff9000 256px,#ffed00 260px,#ff7800 264px,#ff5f00 268px,#ff5500 290px,#ff2b00 296px,#ff8300 302px,#ff5b00 308px,#ff4c00 328px,#ff2100 332px,#fc0500 332px,#710000 336px,#6e0000 336px,#f90200 340px,#ff1d00 342px,#ff3700 350px,#ff1b00 358px,#eb0100 360px,#be0000 362px,#2a0000 364px,#0e0000 364px,#d60000 368px,#f80b00 368px,#ff6c00 372px,#ffc600 374px,#fff720 376px,#ffff7d 376px,#ffffb9 378px,#ffffb7 378px,#ffff30 382px,#fffd04 382px,#ffdf00 384px,#ff1c00 388px,#e60000 388px)"></div><div style="top:204px;height:6px;background:linear-gradient(90deg,#ff4500 0px,#ff3a00 8px,#ff1000 12px,#f60000 12px,#900000 16px,#b70000 16px,#ff2700 18px,#ffad00 18px,#fffe10 20px,#ffff2c 20px,#fffe05 22px,#ffbd00 24px,#ff8c00 26px,#ff6d00 36px,#fd0000 44px,#df0000 48px,#fe1400 48px,#ffe300 50px,#ffff30 52px,#ffff23 52px,#ffeb00 54px,#ff8900 56px,#ff6300 62px,#ff5800 84px,#ffbb00 88px,#ff6800 94px,#ff5200 114px,#ff1600 120px,#ff7400 128px,#ff5900 134px,#ff4a00 150px,#ff3400 152px,#ff0900 154px,#730000 158px,#650000 158px,#950000 160px,#ee0000 160px,#ff8f00 162px,#ffa900 164px,#ff3600 170px,#f70100 182px,#b90000 184px,#180000 186px,#3c0000 188px,#920000 188px,#e30200 190px,#ff2500 190px,#ffc700 194px,#fffc26 194px,#ffff9e 196px,#ffffe4 196px,#ffffc9 198px,#ffff28 200px,#fff101 200px,#ffb900 204px,#ff9d00 210px,#ff7300 212px,#ff0800 216px,#ee0000 216px,#fa0f00 218px,#ffee0b 222px,#ffff64 222px,#ffffbf 224px,#ffffd9 224px,#ffff9b 226px,#fffe30 226px,#ffdd00 228px,#ff8300 230px,#ff6300 236px,#ff7600 254px,#fff800 260px,#ff8400 264px,#ff5f00 270px,#ff5400 290px,#ff3000 296px,#ff8900 302px,#ff5b00 308px,#ff4c00 328px,#ff1e00 332px,#fa0300 334px,#7d0000 336px,#860000 338px,#ff0500 340px,#ff3100 344px,#ff3d00 350px,#ff3b00 356px,#ff1f00 360px,#ea0100 362px,#b80000 364px,#210000 366px,#110000 366px,#d80000 370px,#f80a00 370px,#ff5700 374px,#ffe707 376px,#ffff92 378px,#ffff9e 380px,#ffff1a 382px,#ffea00 384px,#ff1c00 388px,#e70000 388px)"></div><div style="top:210px;height:6px;background:linear-gradient(90deg,#ff4600 0px,#ff3900 8px,#ff0700 12px,#990000 16px,#9a0000 16px,#e40000 18px,#ffdb00 20px,#ffff20 20px,#ffff17 22px,#ffed00 22px,#ff9200 26px,#ff6500 36px,#ff0600 44px,#d00000 48px,#e10000 48px,#ff2800 50px,#fff809 52px,#ffff3b 52px,#ffff19 54px,#ffe000 54px,#ff8600 58px,#ff6500 62px,#ff5200 84px,#ff6a00 86px,#ffb600 88px,#ffc400 88px,#ff6600 94px,#ff5200 114px,#ff1900 120px,#ff7800 128px,#ff5900 134px,#ff4c00 150px,#ff1900 154px,#f80000 156px,#700000 158px,#800000 160px,#c60000 160px,#ff2400 162px,#ff7000 162px,#ff9800 164px,#ff9e00 164px,#ff3c00 170px,#ff1200 182px,#eb0000 184px,#c80000 184px,#1b0000 188px,#2a0000 188px,#ce0000 190px,#fd1600 192px,#ffbe00 194px,#fff91c 196px,#ffff8f 196px,#ffffda 198px,#ffffca 198px,#ffff36 200px,#fff805 202px,#ffc200 204px,#ff9e00 210px,#ff7000 212px,#ff0100 216px,#de0000 216px,#cb0000 218px,#ee0500 220px,#ff3d00 220px,#ffe103 222px,#ffffae 224px,#ffffe1 226px,#ffffbb 226px,#ffec07 228px,#ffbe00 230px,#ff8900 232px,#ff6e00 234px,#ff6700 248px,#ff8d00 256px,#ffff0e 260px,#fffc06 262px,#ff8100 266px,#ff5f00 270px,#ff5600 290px,#ff3500 296px,#ff9100 302px,#ff5d00 308px,#ff4c00 330px,#ff1900 334px,#f50100 334px,#9d0000 336px,#8d0000 338px,#f60000 340px,#ff1100 342px,#ff3d00 346px,#ff4400 352px,#ff3f00 358px,#ff2000 362px,#e60100 364px,#180000 368px,#150000 368px,#d70000 372px,#f70a00 372px,#ff4000 374px,#ffd300 378px,#fffc25 378px,#ffff66 380px,#ffff75 380px,#ffff27 382px,#fff000 384px,#ff1d00 388px,#eb0000 388px)"></div><div style="top:216px;height:6px;background:linear-gradient(90deg,#ff4700 0px,#ff3c00 8px,#ff1400 12px,#fa0000 14px,#950000 16px,#b50000 18px,#ff1d00 18px,#ff9e00 20px,#fff803 20px,#ffff1c 22px,#fffc01 22px,#ffbd00 24px,#ff8e00 28px,#ff6500 36px,#ff0e00 44px,#c80000 48px,#e70000 50px,#ff4000 50px,#ffb700 52px,#ffff1c 52px,#ffff3e 54px,#fffd0f 54px,#ffd800 56px,#ff8400 58px,#ff6600 64px,#ff4c00 84px,#ff5800 86px,#ffc700 88px,#ffc600 90px,#ff8100 92px,#ff6500 96px,#ff5000 114px,#ff1900 120px,#ff4d00 124px,#ff7c00 130px,#ff5b00 134px,#ff4a00 150px,#ff0d00 156px,#860000 158px,#7b0000 160px,#aa0000 160px,#fa0400 162px,#ff8500 164px,#ff9500 164px,#ff4800 170px,#ff0c00 184px,#d70000 186px,#250000 188px,#1e0000 190px,#b50000 192px,#f50b00 192px,#fff615 196px,#ffff83 198px,#ffffcf 198px,#ffffc5 200px,#ffff3d 202px,#fffc09 202px,#ffe800 204px,#ff9e00 210px,#ff6f00 212px,#fe0000 216px,#a60000 218px,#ad0000 220px,#db0000 220px,#fe2a00 222px,#ffcb00 224px,#fffb28 224px,#ffffdc 226px,#ffffd9 228px,#fff81c 230px,#ffd100 230px,#ff9300 232px,#ff7200 236px,#ff6800 248px,#ff9500 256px,#ffe500 260px,#ffff28 262px,#ffda00 264px,#ff7f00 266px,#ff5f00 272px,#ff5700 290px,#ff3900 296px,#ff9b00 302px,#ff5f00 308px,#ff4b00 330px,#ff1100 334px,#a10000 338px,#a20000 338px,#ff0b00 342px,#ff4600 346px,#ff4400 360px,#ff1f00 364px,#df0000 366px,#110000 370px,#1c0000 370px,#d80000 374px,#f70a00 374px,#ff4e00 376px,#fff30c 380px,#ffff37 380px,#ffff41 382px,#ffff21 382px,#ffef00 384px,#ff1f00 388px,#f10000 388px)"></div><div style="top:222px;height:6px;background:linear-gradient(90deg,#ff4800 0px,#ff3b00 10px,#ff0a00 14px,#a10000 16px,#9e0000 18px,#e00000 18px,#ffcd00 20px,#ffff0c 22px,#ffff09 22px,#ff9300 28px,#ff6500 36px,#ff0600 46px,#c30000 50px,#ef0300 50px,#ffd200 52px,#ffff31 54px,#ffff3b 54px,#fffa07 56px,#ffac00 58px,#ff8300 60px,#ff6700 64px,#ff4400 84px,#ff6000 86px,#ffbe00 88px,#ffd200 90px,#ff6900 96px,#ff5100 114px,#ff1b00 120px,#ff8300 130px,#ff5a00 136px,#ff4900 152px,#ff1b00 156px,#fb0100 156px,#840000 160px,#9a0000 160px,#df0000 162px,#ff3300 162px,#ff7000 164px,#ff8a00 164px,#ff4c00 170px,#ff1500 184px,#e50000 186px,#350000 190px,#190000 190px,#470000 192px,#9b0000 192px,#e70300 194px,#ff2d00 194px,#fff411 198px,#ffff7b 198px,#ffffc3 200px,#ffffba 200px,#ffff3e 202px,#fffe0b 204px,#ffeb00 204px,#ff9e00 210px,#ff0300 216px,#890000 220px,#900000 220px,#c10000 222px,#f81800 222px,#ffec0d 226px,#ffffc1 228px,#ffffea 228px,#ffffb3 230px,#ffff47 230px,#ffe805 232px,#ffbd00 232px,#ff8c00 234px,#ff7200 238px,#ff6c00 248px,#ff9700 258px,#fffa03 260px,#ffff35 262px,#ffff3d 262px,#fffd11 264px,#ffd900 264px,#ff7e00 268px,#ff6000 272px,#ff5700 292px,#ff3e00 296px,#ffa500 302px,#ff5e00 310px,#ff4900 332px,#ff0800 336px,#e10000 336px,#ad0000 338px,#ff0600 342px,#ff4100 344px,#ff4d00 346px,#ff4600 362px,#ff1a00 366px,#d00000 368px,#380000 370px,#0c0000 372px,#270000 372px,#db0000 376px,#ff3600 378px,#ffe200 380px,#fffd07 382px,#ffe600 384px,#f80000 388px)"></div><div style="top:228px;height:6px;background:linear-gradient(90deg,#ff4900 0px,#ff3900 10px,#fd0200 14px,#9c0000 18px,#b70000 18px,#ff1800 20px,#ff9300 20px,#ffec00 22px,#ffff0a 22px,#ff8e00 28px,#ff6500 36px,#fd0100 46px,#ba0000 50px,#c20000 50px,#f60b00 52px,#ffe702 54px,#ffff3e 54px,#ffff35 56px,#fff503 56px,#ff9200 60px,#ff7200 62px,#ff5800 82px,#ff3b00 86px,#ff4800 86px,#ffd100 90px,#ffd600 90px,#ff8a00 94px,#ff6800 96px,#ff5200 114px,#ff1e00 120px,#ff8800 130px,#ff5c00 136px,#ff4600 152px,#ff0d00 156px,#950000 160px,#950000 160px,#c80000 162px,#ff1800 162px,#ff5c00 164px,#ff8500 166px,#ff5000 170px,#ff3300 182px,#ff0b00 186px,#c90000 188px,#1b0000 192px,#340000 192px,#d40000 194px,#fe1f00 196px,#fff30f 198px,#ffff74 200px,#ffffb6 200px,#ffffaa 202px,#fffe08 204px,#ffea00 206px,#ff9f00 210px,#ff0a00 216px,#e80000 216px,#710000 220px,#750000 222px,#eb0900 224px,#ffd000 226px,#fffa2a 228px,#ffff90 228px,#ffffe1 230px,#ffffdd 230px,#fff922 232px,#ffd700 234px,#ff8a00 236px,#ff6e00 242px,#ff8a00 258px,#ffaa00 260px,#ffd900 260px,#ffff1b 262px,#ffff54 262px,#ffff51 264px,#fffe1a 264px,#ffdc00 266px,#ff7f00 268px,#ff6000 274px,#ff4400 298px,#ffb000 304px,#ff6100 310px,#ff4d00 332px,#ff3100 334px,#fa0100 336px,#be0000 338px,#c00000 340px,#ff0200 342px,#ff4500 344px,#ff5600 346px,#ff4600 364px,#ff1200 368px,#ed0200 370px,#220000 372px,#0f0000 374px,#e70200 378px,#ff1e00 378px,#ffc800 382px,#ffdd00 382px,#ffb100 384px,#ff0200 388px)"></div><div style="top:234px;height:6px;background:linear-gradient(90deg,#ff4a00 0px,#ff3d00 10px,#ff0e00 14px,#a80000 18px,#a40000 18px,#e10000 20px,#ffc100 22px,#fff900 22px,#fffa00 24px,#ff9200 28px,#ff0b00 46px,#b10000 50px,#c40000 52px,#fc1700 52px,#fff40a 54px,#ffff45 56px,#ffff2d 56px,#fff001 58px,#ffa600 60px,#ff7900 62px,#ff5800 82px,#ff3200 86px,#ff4d00 88px,#ffdf00 90px,#ff6e00 96px,#ff5200 114px,#ff2000 120px,#ff8e00 130px,#ff5f00 136px,#ff4900 152px,#ff1a00 156px,#fb0100 158px,#a90000 160px,#990000 160px,#ba0000 162px,#fd0300 162px,#ff7400 164px,#ff8000 166px,#ff5300 170px,#ff3800 184px,#ff1200 188px,#d70000 190px,#240000 192px,#280000 194px,#bf0000 196px,#fa1400 196px,#fff30e 200px,#ffff6f 200px,#ffffa5 202px,#ffff95 202px,#ffff2a 204px,#fffb02 206px,#ff9f00 210px,#f50000 216px,#600000 222px,#5d0000 222px,#860000 224px,#d20100 224px,#fd2700 226px,#ffe609 228px,#ffff4f 230px,#ffffb9 230px,#ffffec 232px,#ffffc0 232px,#fff00d 234px,#ffca00 236px,#ff9700 238px,#ff7700 242px,#ff7b00 258px,#ff8500 260px,#ffe200 262px,#ffff6e 264px,#ffff68 264px,#ffe400 266px,#ff8200 270px,#ff6100 274px,#ff4700 298px,#ffbd00 304px,#ff6500 310px,#ff4f00 332px,#ff3a00 334px,#ee0000 338px,#c90000 340px,#fe0000 342px,#ff4900 344px,#ff5f00 346px,#ff4900 364px,#ff1e00 370px,#d70000 372px,#140000 374px,#1e0000 376px,#f90e00 380px,#ff8400 382px,#ffb600 384px,#ff0b00 388px)"></div><div style="top:240px;height:6px;background:linear-gradient(90deg,#ff4b00 0px,#ff4000 10px,#fe0400 16px,#a30000 18px,#bd0000 20px,#ff1800 20px,#ff8c00 22px,#ffdf00 22px,#fff800 24px,#ff8d00 30px,#ff0600 48px,#ab0000 52px,#c90000 52px,#fe2500 54px,#ffa100 54px,#fffb14 56px,#ffff47 56px,#ffff24 58px,#ffea00 58px,#ffa400 60px,#ff7900 64px,#ff5700 82px,#ff2600 86px,#ff5500 88px,#ffd200 90px,#ffe700 92px,#ff8400 96px,#ff6d00 98px,#ff5300 114px,#ff2200 120px,#ff4f00 124px,#ff5f00 128px,#ff9500 130px,#ff5e00 136px,#ff4600 154px,#ff0b00 158px,#a40000 160px,#b30000 162px,#ed0000 162px,#ff6800 164px,#ff7b00 166px,#ff5500 170px,#ff3b00 184px,#ff1900 188px,#e20000 190px,#310000 194px,#240000 194px,#ac0000 196px,#f40c00 198px,#fff50f 200px,#ffff69 202px,#ffff91 202px,#ffff7b 204px,#ffff16 206px,#fff200 206px,#ff0400 216px,#4a0000 224px,#670000 224px,#ad0000 226px,#f10f00 226px,#ffc300 230px,#fff31b 230px,#ffff79 232px,#ffffd6 232px,#ffffe6 234px,#fffe38 236px,#ffe704 236px,#ffa800 238px,#ff8400 242px,#ff8300 256px,#ff6200 260px,#ff7200 260px,#ffe401 262px,#ffff83 264px,#ffff82 266px,#ffff42 266px,#ffee06 268px,#ff8700 270px,#ff6300 276px,#ff4a00 298px,#ffcb00 304px,#ff8700 308px,#ff6500 310px,#ff4e00 332px,#ff3300 336px,#fe0400 338px,#e40000 338px,#d40000 340px,#fc0000 342px,#ff6800 346px,#ff4800 366px,#ff1000 372px,#ea0000 372px,#270000 376px,#180000 376px,#3c0000 378px,#f30700 380px,#ff7400 382px,#ff9100 384px,#ff8e00 384px,#ff1500 388px)"></div><div style="top:246px;height:6px;background:linear-gradient(90deg,#ff4c00 0px,#ff4200 10px,#ff1000 16px,#f50000 16px,#b00000 18px,#ac0000 20px,#e60000 20px,#ffb900 22px,#ffec00 24px,#ffed00 24px,#ff8800 30px,#fe0300 48px,#a70000 52px,#d00000 54px,#ff3600 54px,#ffb300 56px,#fffe1e 56px,#ffff45 58px,#ffff1b 58px,#ffe400 60px,#ffa200 62px,#ff7a00 64px,#ff5700 82px,#ff1c00 88px,#ff2e00 88px,#ffe300 92px,#ffed00 92px,#ff9600 96px,#ff6d00 98px,#ff5100 116px,#ff2400 120px,#ff5800 124px,#ff5900 128px,#ff9a00 132px,#ff5e00 138px,#ff4800 154px,#f80000 158px,#b20000 160px,#b30000 162px,#e00000 162px,#ff2500 164px,#ff5c00 164px,#ff7900 166px,#ff5800 170px,#ff3900 186px,#fe0a00 190px,#eb0000 192px,#3e0000 194px,#250000 196px,#4e0000 196px,#9e0000 198px,#ee0700 198px,#fff710 202px,#ffff60 202px,#ffff78 204px,#ffff2c 206px,#fffc01 206px,#fc0100 218px,#c40000 220px,#3f0000 224px,#490000 226px,#840000 226px,#d40200 228px,#fd2500 228px,#ffd702 232px,#fffc35 232px,#ffff9f 234px,#ffffe6 234px,#ffffd2 236px,#fffa22 238px,#ffdf00 238px,#ff8f00 242px,#ff8100 256px,#ff4200 260px,#ff5700 262px,#ffdb01 264px,#ffff3e 264px,#ffff8f 266px,#ffff9e 266px,#fff817 268px,#ffd100 270px,#ff7f00 272px,#ff6300 278px,#ff4c00 298px,#ff7500 300px,#ffdb00 304px,#ff8700 308px,#ff6500 312px,#ff5000 332px,#ff3a00 336px,#f50000 338px,#e30000 340px,#fc0000 342px,#ff6400 346px,#ff7300 348px,#ff5600 352px,#ff4a00 368px,#ff1700 372px,#f30200 374px,#3b0000 376px,#1e0000 378px,#360000 378px,#f10400 382px,#ff6600 384px,#ff7500 384px,#ff1f00 388px)"></div><div style="top:252px;height:6px;background:linear-gradient(90deg,#ff4d00 0px,#ff4100 12px,#ff0600 16px,#ac0000 20px,#c50000 20px,#ff1c00 22px,#ff8900 22px,#ffd500 24px,#ffea00 24px,#ff8a00 30px,#fc0200 50px,#aa0000 52px,#a50000 54px,#d90000 54px,#ff4600 56px,#ffc200 56px,#ffff26 58px,#ffff41 58px,#ffdf00 60px,#ffa100 62px,#ff7b00 66px,#ff5700 82px,#ff1100 88px,#ff2e00 90px,#fff000 92px,#fff000 94px,#ff9400 96px,#ff6e00 100px,#ff5200 116px,#ff2700 120px,#ff5900 124px,#ff5d00 128px,#ffa300 132px,#ff6100 138px,#ff4500 154px,#ff0700 158px,#e40000 160px,#b70000 162px,#ff1700 164px,#ff5100 164px,#ff7800 166px,#ff5900 170px,#ff3c00 188px,#ff0f00 192px,#f10000 192px,#4b0000 196px,#2b0000 196px,#4a0000 198px,#970000 198px,#ec0600 200px,#fffa12 202px,#ffff52 204px,#ffff59 204px,#ffff0a 206px,#ff5800 214px,#fd0300 218px,#d10000 222px,#430000 226px,#350000 226px,#5a0000 228px,#a60000 228px,#eb0b00 230px,#ff3b00 230px,#ffe70c 234px,#ffffc1 236px,#ffffe7 236px,#ffffb6 238px,#fff612 240px,#ffd900 240px,#ff9400 244px,#ff7600 256px,#ff1b00 262px,#ff3500 262px,#ffc400 264px,#fffb2a 266px,#ffff88 266px,#ffffb3 268px,#ffff93 268px,#ffe805 270px,#ffbd00 272px,#ff8800 274px,#ff6c00 276px,#ff4f00 298px,#ff8100 302px,#ffef00 306px,#ff8800 310px,#ff6d00 312px,#ff4e00 334px,#ee0000 340px,#fc0000 342px,#ff6700 346px,#ff8100 348px,#ff5a00 352px,#ff4700 370px,#ff1b00 374px,#f80300 374px,#4b0000 378px,#2b0000 378px,#3c0000 380px,#f70600 382px,#ff5a00 384px,#ff2800 388px)"></div><div style="top:258px;height:6px;background:linear-gradient(90deg,#ff4e00 0px,#ff4400 12px,#ff1300 16px,#f80000 18px,#b70000 20px,#b60000 20px,#ef0000 22px,#ffb300 24px,#ffdf00 24px,#ffdf00 26px,#ff8c00 30px,#ff0f00 50px,#fa0100 50px,#a40000 54px,#a50000 54px,#e10100 56px,#ff5600 56px,#ffcf00 58px,#ffff2b 58px,#ffff3a 60px,#fffd0c 60px,#ffdb00 62px,#ff8400 66px,#ff5300 82px,#ff0300 88px,#ff0900 90px,#ff3000 90px,#ffce00 92px,#fffa00 94px,#fff300 94px,#ff9400 98px,#ff6e00 100px,#ff5300 116px,#ff2900 120px,#ff5a00 124px,#ff5100 128px,#ffaa00 132px,#ff6100 138px,#ff4800 154px,#f30000 160px,#c00000 162px,#ff0b00 164px,#ff6c00 166px,#ff7700 166px,#ff5800 170px,#ff6b00 174px,#ff4200 188px,#ff1200 192px,#cd0000 194px,#560000 196px,#340000 198px,#4d0000 198px,#980000 200px,#ef0700 200px,#ffbd00 202px,#fffc12 204px,#ffff3e 204px,#ffff11 206px,#ff5b00 214px,#f20000 222px,#af0000 224px,#330000 228px,#380000 228px,#c30000 230px,#f71700 232px,#ffc400 234px,#fff520 236px,#ffffd7 238px,#ffffd8 238px,#ffff3b 240px,#fff108 242px,#ffa000 246px,#ff7300 256px,#f50000 262px,#f91100 264px,#ff4900 264px,#ffea11 266px,#ffff65 268px,#ffffb2 268px,#ffffbb 270px,#fff925 272px,#ffda00 272px,#ff8500 276px,#ff6600 280px,#ff5400 298px,#ff8600 302px,#fff600 306px,#fffd07 306px,#ff8b00 310px,#ff6f00 312px,#ff5000 334px,#ff3a00 336px,#fa0000 340px,#fe0000 342px,#ff8e00 348px,#ff5c00 354px,#ff4800 370px,#ff1c00 374px,#f90300 376px,#560000 378px,#390000 380px,#4b0000 380px,#fe0f00 384px,#ff5100 386px,#ff3200 388px)"></div><div style="top:264px;height:6px;background:linear-gradient(90deg,#ff4f00 0px,#ff4200 12px,#ff0800 18px,#b60000 20px,#d20000 22px,#ff2600 22px,#ff8a00 24px,#ffcb00 24px,#ffdc00 26px,#ff8600 32px,#ff0d00 50px,#f70000 52px,#9f0000 54px,#a70000 56px,#e90400 56px,#ffd900 58px,#ffff2d 60px,#ffff32 60px,#fffa06 62px,#ffb600 64px,#ff8400 66px,#ff5400 82px,#f50000 90px,#fb0500 90px,#ff3100 92px,#ffda00 94px,#ffff05 94px,#ff7700 100px,#ff5400 116px,#ff2b00 120px,#ff5c00 124px,#ff5300 130px,#ffb100 132px,#ff6600 138px,#ff4400 156px,#fe0200 160px,#ca0000 162px,#d30000 162px,#ff0200 164px,#ff6800 166px,#ff7700 166px,#ff5800 170px,#ff7200 174px,#ff4300 188px,#ff1400 194px,#d00000 196px,#5e0000 198px,#3e0000 198px,#570000 200px,#a20000 200px,#f70d00 202px,#ffca00 204px,#fffd0e 204px,#ffff24 206px,#ffff0f 206px,#ff5d00 214px,#f40000 224px,#c90000 226px,#2b0000 230px,#440000 230px,#890000 232px,#d70300 232px,#fd2400 234px,#ffdc04 236px,#fffe45 238px,#ffffad 238px,#ffffdc 240px,#ffffb9 240px,#fffd20 242px,#ffea01 244px,#ffae00 246px,#ff7000 256px,#ff0a00 260px,#e90000 262px,#c50000 264px,#f81d00 266px,#ffc200 268px,#fff72d 268px,#ffff8b 270px,#ffffc6 270px,#ffffb8 272px,#fff41a 274px,#ffd100 274px,#ff9500 276px,#ff7400 280px,#ff5400 298px,#ff8400 304px,#ffff10 306px,#ffff22 308px,#fff70a 308px,#ff9200 312px,#ff6b00 314px,#ff4e00 334px,#f80000 340px,#ff0100 342px,#ff9f00 348px,#ff6100 354px,#ff4c00 370px,#ff1a00 376px,#f90200 376px,#5d0000 380px,#490000 380px,#640000 382px,#e60000 384px,#ff2300 384px,#ff4a00 386px,#ff3a00 388px)"></div><div style="top:270px;height:6px;background:linear-gradient(90deg,#ff5000 0px,#ff4500 12px,#ff1400 18px,#bf0000 20px,#c30000 22px,#fa0300 22px,#ffaf00 24px,#ffd300 26px,#ff7f00 32px,#ff2e00 48px,#ff0c00 52px,#9c0000 56px,#ab0000 56px,#f00800 58px,#ffe101 60px,#ffff2c 60px,#ffff28 62px,#fff602 62px,#ffb400 64px,#ff8500 68px,#ff5600 82px,#ff0600 88px,#e90000 90px,#f50200 92px,#ff3000 92px,#ffe200 94px,#ffff0e 96px,#ff7900 102px,#ff5500 116px,#ff2d00 120px,#ff5d00 124px,#ff4200 130px,#ffbc00 134px,#ff6d00 138px,#ff4700 156px,#ee0000 160px,#d50000 162px,#fb0000 164px,#ff6300 166px,#ff7600 166px,#ff5700 170px,#ff7a00 174px,#ff5500 180px,#ff4000 190px,#ff1500 194px,#f70100 196px,#640000 198px,#490000 200px,#670000 200px,#b50000 202px,#fe1d00 202px,#ffd600 204px,#fffb05 206px,#fffe04 206px,#ff5e00 214px,#f60100 226px,#c60000 228px,#3a0000 230px,#2b0000 232px,#530000 232px,#e50800 234px,#ff3400 236px,#ffb600 238px,#fff119 238px,#ffff78 240px,#ffffc6 240px,#ffffc8 242px,#fff80b 244px,#ffe000 246px,#ffae00 248px,#ff5f00 258px,#ee0000 262px,#a00000 264px,#aa0000 266px,#d80300 266px,#fc2f00 268px,#ffd305 270px,#fffb3f 270px,#ffff9d 272px,#ffffcf 272px,#ffffb5 274px,#fff217 276px,#ffd000 276px,#ff9700 278px,#ff7700 282px,#ff5500 298px,#ff6500 304px,#ff7800 304px,#ffe400 306px,#ffff27 308px,#ffff43 308px,#fffe23 310px,#ffe702 310px,#ff9d00 312px,#ff6f00 316px,#ff5100 334px,#ff0200 340px,#ff0500 342px,#ffaf00 348px,#ff6300 354px,#ff4c00 372px,#ff1700 376px,#f50000 378px,#640000 380px,#5f0000 382px,#ff0900 384px,#ff4800 386px,#ff4200 388px)"></div><div style="top:276px;height:6px;background:linear-gradient(90deg,#ff5100 0px,#ff4300 14px,#ff0900 18px,#c00000 22px,#e10000 22px,#ff3400 24px,#ff8e00 24px,#ffc300 26px,#ffce00 26px,#ff8000 32px,#ff3500 48px,#ff0b00 52px,#9b0000 56px,#b10000 58px,#f50f00 58px,#ffe602 60px,#ffff27 62px,#ffff1c 62px,#fff000 64px,#ffb100 66px,#ff8500 68px,#ff5700 82px,#fb0000 90px,#dd0000 92px,#ed0100 92px,#ff2c00 94px,#ffe600 96px,#ffff15 96px,#fffa07 98px,#ff9b00 100px,#ff7b00 102px,#ff5300 116px,#ff2f00 120px,#ff5e00 124px,#ff3e00 130px,#ffba00 134px,#ffc400 134px,#ff6d00 140px,#ff4900 156px,#f90000 160px,#da0000 162px,#f70000 164px,#ff5e00 166px,#ff7500 166px,#ff5600 172px,#ff8300 174px,#ff5a00 180px,#ff4100 192px,#ff1400 196px,#f70100 196px,#680000 200px,#570000 200px,#7e0000 202px,#d20000 202px,#ff3c00 204px,#ff9d00 204px,#ffdd00 206px,#fff200 206px,#ff5f00 214px,#f70200 228px,#c20000 230px,#320000 232px,#300000 234px,#b20000 236px,#f01100 236px,#ffd803 240px,#fffe43 240px,#ffffa3 242px,#ffffc3 242px,#ffff5a 244px,#fffe1a 246px,#ffed00 246px,#ffc200 248px,#ff4e00 258px,#fc0200 262px,#870000 266px,#810000 266px,#a00000 268px,#dc0900 268px,#fd3c00 270px,#ffd709 272px,#fffc46 272px,#ffffa3 274px,#ffffd2 274px,#ffffb5 276px,#fff31a 278px,#ffd400 278px,#ff9c00 280px,#ff7b00 284px,#ff4a00 304px,#ff5f00 306px,#ffdb00 308px,#ffff2e 308px,#ffff5f 310px,#ffff4e 310px,#ffd700 312px,#ff9300 314px,#ff7500 316px,#ff4f00 336px,#ff0800 342px,#ffc500 350px,#ff6600 356px,#ff4b00 372px,#ff1000 378px,#ec0000 378px,#6e0000 382px,#7c0000 382px,#f30000 384px,#ff4700 386px,#ff4a00 388px)"></div><div style="top:282px;height:6px;background:linear-gradient(90deg,#ff5200 0px,#ff4500 14px,#ff1500 18px,#c70000 22px,#d10000 22px,#ff1000 24px,#ffad00 26px,#ffc700 26px,#ff6300 36px,#ff3600 50px,#ff0a00 54px,#9b0000 58px,#b80000 58px,#fa1700 60px,#ffeb02 62px,#ffff20 62px,#ffff0f 64px,#ffae00 66px,#ff8400 70px,#ff5900 82px,#f30000 90px,#d20000 92px,#e30000 94px,#fe2500 94px,#ffe601 96px,#ffff1a 98px,#ffe000 100px,#ff9f00 102px,#ff7500 104px,#ff5400 116px,#ff3200 120px,#ff6000 126px,#ff2b00 130px,#ff3900 132px,#ffc700 134px,#ffcc00 136px,#ff6f00 140px,#ff4b00 156px,#ff0500 160px,#eb0000 162px,#e00000 162px,#f60000 164px,#ff7500 166px,#ff5100 172px,#ff8c00 176px,#ff5b00 180px,#ff4100 192px,#ff1200 196px,#f40000 198px,#6d0000 200px,#690000 202px,#9d0000 202px,#f40500 204px,#ffb200 206px,#ffdc00 206px,#ffe000 208px,#ff6000 214px,#f70300 230px,#bc0000 232px,#2f0000 234px,#3b0000 236px,#c80000 238px,#f91f00 238px,#ffb500 240px,#fff51d 242px,#ffff7b 242px,#ffffaf 244px,#ffff9c 244px,#ffff24 246px,#fff401 248px,#ffb800 250px,#ff5200 258px,#f70100 262px,#690000 268px,#6f0000 268px,#9e0000 270px,#df0c00 270px,#fe4100 272px,#ffd508 274px,#fffb42 274px,#ffff9f 276px,#ffffd1 276px,#ffffb8 278px,#fff61f 280px,#ffdb01 280px,#ffa300 282px,#ff8100 286px,#ff5c00 302px,#ff2500 306px,#ff3800 306px,#ffbc00 308px,#fff720 310px,#ffff68 310px,#ffff7a 312px,#fff212 314px,#ffcd00 314px,#ff9000 316px,#ff6e00 320px,#ff5200 336px,#ff0c00 342px,#ff7a00 348px,#ffdc00 350px,#ff6a00 356px,#ff4b00 374px,#ff3300 376px,#ff0800 378px,#8a0000 382px,#810000 382px,#e20000 384px,#ff1f00 386px,#ff4500 386px,#ff5100 388px)"></div><div style="top:288px;height:6px;background:linear-gradient(90deg,#ff5400 0px,#ff4400 14px,#ff0900 20px,#cc0000 22px,#f40000 24px,#ff9300 26px,#ffbc00 26px,#ffc100 28px,#ff6300 36px,#ff3600 50px,#ff0900 54px,#9d0000 58px,#c20000 60px,#fe2200 60px,#ffee02 62px,#ffff16 64px,#ffe000 66px,#ffaa00 68px,#ff8400 70px,#ff5300 80px,#ff5600 84px,#fe0400 90px,#c80000 94px,#d70000 94px,#fc1c00 96px,#ffe101 98px,#ffff1c 98px,#ffe700 100px,#ffa500 102px,#ff7800 106px,#ff3100 122px,#ff6300 126px,#ff2000 132px,#ff3500 132px,#ffd200 136px,#ffd400 136px,#ff7000 142px,#ff4800 156px,#f50000 162px,#f60000 164px,#ff7400 166px,#ff4f00 172px,#ff9500 176px,#ff5d00 182px,#ff4100 194px,#ff0e00 198px,#ee0000 198px,#750000 202px,#830000 202px,#c50000 204px,#ff2700 204px,#ff8400 206px,#ffc000 206px,#ffd400 208px,#ff6000 214px,#ff6400 218px,#ff0e00 230px,#dc0000 232px,#490000 236px,#310000 236px,#4d0000 238px,#e00700 240px,#ff3c00 240px,#ffe408 242px,#ffff53 244px,#ffff92 244px,#ffff8d 246px,#fff400 248px,#ff6600 256px,#ff4c00 260px,#ff1200 262px,#e80000 264px,#560000 270px,#630000 270px,#dd0c00 272px,#fd3d00 274px,#ffcf06 276px,#fff73b 276px,#ffff96 278px,#ffffcd 278px,#ffffbb 280px,#fff926 282px,#ffe203 282px,#ff9000 286px,#ff5900 302px,#f60300 306px,#ff3400 308px,#ffd808 310px,#fffe46 312px,#ffff89 312px,#ffff89 314px,#fff014 316px,#ffcd00 316px,#ff9200 318px,#ff7800 320px,#ff5500 336px,#ff1100 342px,#ff5000 344px,#ff5f00 348px,#fff400 352px,#ff7000 358px,#ff4a00 374px,#fa0100 380px,#910000 382px,#a10000 384px,#ff1600 386px,#ff4400 386px,#ff5800 388px)"></div><div style="top:294px;height:6px;background:linear-gradient(90deg,#ff5500 0px,#ff4600 14px,#fb0000 20px,#d00000 22px,#e30000 24px,#ff2500 24px,#ffac00 26px,#ffbc00 28px,#ff5c00 38px,#ff3c00 50px,#ff0800 56px,#a10000 60px,#cd0000 60px,#ff3100 62px,#ffa200 62px,#ffef01 64px,#ffff0a 64px,#ffa600 68px,#ff8200 72px,#ff5300 80px,#ff5900 84px,#fd0300 92px,#bf0000 94px,#ca0000 96px,#f61200 96px,#ffd700 98px,#ffff19 100px,#ffff18 100px,#ffee01 102px,#ffab00 104px,#ff7c00 106px,#ff3200 122px,#ff6500 126px,#ff1400 132px,#ff2d00 134px,#ffdc00 136px,#ffdd00 138px,#ff7300 142px,#ff4a00 156px,#fd0100 162px,#f80000 164px,#ff7300 166px,#ff7500 168px,#ff4500 172px,#ffa100 176px,#ff5e00 182px,#ff4100 194px,#ff0900 198px,#830000 202px,#a60000 204px,#f40200 204px,#ffa100 206px,#ffc400 208px,#ffc500 208px,#ff5500 214px,#ff6c00 218px,#fe0c00 232px,#d30000 234px,#410000 238px,#3b0000 238px,#690000 240px,#b80000 240px,#f71c00 242px,#ffcd00 244px,#fffe31 244px,#ffff73 246px,#ffff74 246px,#ffff15 248px,#ffed00 250px,#ff6300 256px,#ff4a00 260px,#ff0a00 264px,#ce0000 268px,#4a0000 272px,#580000 272px,#900000 274px,#d60900 274px,#fb3500 276px,#ffc704 278px,#fff433 278px,#ffffc6 280px,#ffffb8 282px,#fffc2a 284px,#ffe804 284px,#ff9700 288px,#ff5000 300px,#ff5200 302px,#ff0500 306px,#e70000 306px,#cf0000 308px,#e50800 310px,#fc3600 310px,#ffde12 312px,#fffe56 314px,#ffff99 314px,#ffff99 316px,#fff31d 318px,#ffd501 318px,#ff9900 320px,#ff7d00 322px,#ff5400 336px,#ff1500 342px,#ff5100 344px,#ff4e00 348px,#ffff0f 352px,#ffe703 354px,#ffa100 356px,#ff6f00 360px,#ff4800 376px,#ec0000 380px,#a60000 382px,#a70000 384px,#ff0e00 386px,#ff4200 386px,#ff5e00 388px)"></div><div style="top:300px;height:6px;background:linear-gradient(90deg,#ff5600 0px,#ff4400 16px,#ff0900 20px,#db0000 24px,#ff0b00 24px,#ff9800 26px,#ffb400 28px,#ff5c00 38px,#ff3d00 52px,#ff0700 56px,#aa0000 60px,#a80000 60px,#dc0000 62px,#ff4200 62px,#ffad00 64px,#ffef00 64px,#fffc00 66px,#ffa100 70px,#ff8000 72px,#ff5200 80px,#ff5c00 84px,#fd0300 92px,#b90000 96px,#bf0000 96px,#ed0900 98px,#ffc700 100px,#fffd13 100px,#ffff1d 102px,#fff403 102px,#ffb200 104px,#ff7f00 108px,#ff3300 122px,#ff6800 126px,#ff0600 132px,#ff2200 134px,#ffe200 138px,#ffe600 138px,#ff7700 144px,#ff4600 158px,#f60000 162px,#fb0000 164px,#ff7300 166px,#ff7700 168px,#ff3e00 174px,#ffa100 176px,#ffac00 178px,#ff6600 182px,#ff4000 196px,#fd0300 200px,#960000 202px,#9b0000 204px,#d40000 204px,#ff2d00 206px,#ff8000 206px,#ffb200 208px,#ffbd00 208px,#ff5300 214px,#ff7a00 218px,#ff1900 234px,#eb0000 236px,#410000 240px,#540000 240px,#e70900 242px,#ffb700 244px,#fff818 246px,#ffff52 246px,#ffff54 248px,#fffc01 250px,#ff6100 256px,#ff5900 260px,#eb0000 268px,#450000 274px,#4f0000 274px,#cc0500 276px,#f72c00 278px,#ffbf02 280px,#fff22c 280px,#ffff83 282px,#ffffbc 282px,#ffffae 284px,#fffd28 286px,#ffec04 286px,#ff9c00 290px,#ff4e00 300px,#ff5700 302px,#f50000 306px,#a50000 310px,#ac0000 310px,#d40500 312px,#f63000 312px,#ffd511 314px,#fffb50 316px,#ffff9a 316px,#ffffa9 318px,#fff932 320px,#ffe208 320px,#ffc000 322px,#ff7b00 326px,#ff5800 336px,#ff1900 342px,#ff5b00 346px,#ff2e00 350px,#ff4a00 350px,#ffd200 352px,#fffd1b 354px,#ffff3a 354px,#ffe605 356px,#ffa000 358px,#ff7100 362px,#ff4600 376px,#fd0300 380px,#b10000 384px,#ff0900 386px,#ff6100 388px,#ff6600 388px)"></div><div style="top:306px;height:6px;background:linear-gradient(90deg,#ff5700 0px,#ff4600 16px,#fb0000 22px,#db0000 24px,#f80000 24px,#ff8200 26px,#ffb100 28px,#ff5c00 38px,#ff3e00 52px,#fe0600 58px,#ab0000 60px,#b10000 62px,#eb0200 62px,#ffb700 64px,#ffec00 66px,#fff100 66px,#ff8400 72px,#ff5200 80px,#ff5f00 84px,#fd0500 94px,#b50000 96px,#b40000 98px,#e10300 98px,#ff4500 100px,#ffb300 100px,#fff70b 102px,#ffff1d 102px,#ffd900 104px,#ffa000 106px,#ff7a00 110px,#ff3500 122px,#ff6b00 126px,#f70000 134px,#fe1300 136px,#ffe500 138px,#fff000 140px,#ff7c00 144px,#ff4900 158px,#fd0000 162px,#fe0000 164px,#ff7200 166px,#ff7f00 168px,#ff3a00 172px,#ff3800 174px,#ffaf00 178px,#ffb700 178px,#ff6900 184px,#ff4500 196px,#f70000 200px,#a20000 204px,#ff0c00 206px,#ff9e00 208px,#ffb500 208px,#ff5000 214px,#ff8500 220px,#ff5800 224px,#ff3c00 232px,#ff1400 236px,#dd0000 238px,#550000 240px,#530000 242px,#840000 242px,#d80200 244px,#ff4200 244px,#fff209 246px,#ffff32 248px,#ffff30 248px,#ffff0c 250px,#ff5f00 256px,#ff6000 262px,#fd0900 270px,#de0000 272px,#460000 276px,#480000 276px,#bf0300 278px,#f22300 280px,#ffbb01 282px,#fff22a 282px,#ffff7e 284px,#ffffad 284px,#ffff98 286px,#fffd1d 288px,#ffe901 288px,#ffa900 292px,#ff4c00 300px,#ff5600 304px,#f40100 308px,#840000 312px,#8d0000 312px,#bc0200 314px,#eb2200 314px,#ffbf07 316px,#fff139 318px,#ffff85 318px,#ffffae 320px,#ffff96 320px,#fff019 322px,#ffd401 324px,#ff9f00 326px,#ff7d00 328px,#ff5700 338px,#ff1e00 342px,#ff5f00 346px,#fc0800 350px,#fc1800 352px,#ff9c00 354px,#ffe70f 354px,#ffff42 356px,#ffff59 356px,#fffd36 358px,#ffc900 360px,#ff7500 364px,#ff4b00 376px,#f20000 382px,#bf0000 384px,#ff0500 386px,#ff6600 388px,#ff6e00 388px)"></div><div style="top:312px;height:6px;background:linear-gradient(90deg,#ff5800 0px,#ff4800 16px,#ff0700 22px,#df0000 24px,#ed0000 24px,#ff9b00 28px,#ffab00 28px,#ff5c00 38px,#ff3900 54px,#fd0400 58px,#ae0000 62px,#bd0000 62px,#f70a00 64px,#ffbf00 66px,#ffe700 66px,#ff9500 72px,#ff5800 78px,#ff6200 84px,#fe0700 94px,#ad0000 98px,#d20000 100px,#fd2d00 100px,#ffed04 102px,#ffff18 104px,#ffdf00 106px,#ffa600 108px,#ff7d00 110px,#ff3600 122px,#ff6d00 126px,#fd0100 134px,#e50000 136px,#f50700 136px,#ff3f00 138px,#ffe200 140px,#fff900 140px,#ff9200 144px,#ff7700 146px,#ff4c00 158px,#ff0600 162px,#ff0400 164px,#ff7200 166px,#ff8100 168px,#ff2400 174px,#ff2f00 176px,#ffbb00 178px,#ffc300 180px,#ff6d00 184px,#ff4300 196px,#ed0000 202px,#b20000 204px,#bc0000 204px,#f30000 206px,#ff8900 208px,#ffad00 210px,#ff4400 216px,#ff9300 220px,#ff5c00 224px,#ff3400 234px,#fe0b00 238px,#ed0000 238px,#6c0000 242px,#5e0000 242px,#820000 244px,#d30000 244px,#ff3b00 246px,#ffea02 248px,#ffff0a 250px,#ff4f00 258px,#ff7200 262px,#f90600 272px,#ca0000 274px,#4c0000 278px,#460000 278px,#6d0000 280px,#b50000 280px,#ef1d00 282px,#ffbd01 284px,#fff52d 284px,#ffff79 286px,#ffff95 286px,#fff809 290px,#ffdd00 290px,#ff4a00 300px,#ff6300 304px,#e80000 310px,#6f0000 314px,#710000 314px,#d61000 316px,#fa4500 318px,#ffdc1c 320px,#ffffa0 322px,#ffffa7 322px,#fffa32 324px,#ffc900 326px,#ff8f00 330px,#ff5e00 338px,#ff2200 342px,#ff2000 342px,#ff6600 346px,#ff6100 346px,#f20000 350px,#da0000 352px,#eb0e00 354px,#fd4300 354px,#ff9c00 356px,#ffe51a 356px,#ffff52 358px,#ffff73 358px,#fff522 360px,#ffb700 362px,#ff7d00 366px,#ff4a00 378px,#ff0500 382px,#e40000 382px,#d60000 384px,#ff0400 386px,#ff6a00 388px,#ff7600 388px)"></div><div style="top:318px;height:6px;background:linear-gradient(90deg,#ff5900 0px,#ff4600 16px,#fa0000 22px,#e90000 24px,#ff1200 26px,#ff8b00 28px,#ffa500 30px,#ff5c00 38px,#ff4300 54px,#ff1600 58px,#fc0300 60px,#b30000 62px,#cc0000 64px,#ff1a00 64px,#ffc500 66px,#ffdf00 68px,#ff8e00 72px,#ff5100 80px,#ff6500 84px,#ff0b00 96px,#a90000 100px,#c30000 100px,#f81a00 102px,#ffdc00 104px,#fffe0d 104px,#fffd06 106px,#ff9800 110px,#ff7800 112px,#ff3700 122px,#ff6800 124px,#ff6c00 126px,#f90000 134px,#d70000 136px,#e50000 138px,#fd2300 138px,#ffd300 140px,#fffb01 142px,#ff7d00 148px,#ff4800 158px,#ff0800 164px,#ff8300 168px,#ff1500 176px,#ff2300 176px,#ffc500 180px,#ffd000 180px,#ff7100 186px,#ff4200 198px,#fe0400 202px,#e30000 202px,#c10000 204px,#e50000 206px,#ff2e00 206px,#ffa000 208px,#ffa900 210px,#ff3f00 216px,#ff4b00 218px,#ffa200 220px,#ff6100 226px,#ff3f00 234px,#ff1300 238px,#f70200 240px,#800000 242px,#6f0000 244px,#8d0000 244px,#db0000 246px,#ff4100 246px,#ffa200 248px,#ffe200 248px,#fff600 250px,#ff4b00 258px,#ff7d00 262px,#fd0c00 274px,#d50000 276px,#550000 280px,#4a0000 280px,#6c0000 282px,#f01e00 284px,#ffc904 286px,#fffa32 286px,#ffff6d 288px,#ffff6e 288px,#fffd0e 290px,#ffe500 292px,#ff4800 300px,#ff6a00 304px,#ec0100 312px,#690000 316px,#5d0000 316px,#790000 318px,#b60400 318px,#e92400 320px,#ffbb07 322px,#ffee35 322px,#ffff7c 324px,#ffffa3 324px,#ffff8b 326px,#fff418 328px,#ffdc01 328px,#ff9a00 332px,#ff5a00 338px,#ff2600 342px,#ff2100 342px,#ff6d00 346px,#ff6e00 346px,#fe0800 350px,#e70000 352px,#b10000 354px,#d00500 356px,#f12d00 356px,#ffcf13 358px,#fff947 360px,#ffff7d 360px,#ffff7a 362px,#ffed19 364px,#ffd201 364px,#ff8a00 368px,#ff4900 378px,#f60000 382px,#de0000 384px,#ff0400 386px,#ff6f00 388px,#ff8000 388px)"></div><div style="top:324px;height:6px;background:linear-gradient(90deg,#ff5a00 0px,#ff4800 16px,#ff0600 22px,#ea0000 24px,#ff0500 26px,#ff7a00 28px,#ffa200 30px,#ff5700 38px,#ff4300 54px,#ff1400 60px,#bb0000 64px,#e00000 64px,#ff3400 66px,#ff8e00 66px,#ffc700 68px,#ffd500 68px,#ff8700 74px,#ff5100 80px,#ff6400 84px,#ff1100 96px,#a90000 100px,#b80000 102px,#ef0c00 102px,#ffc600 104px,#fff804 106px,#fffd01 106px,#ff8c00 112px,#ff4000 120px,#ff3e00 122px,#ff7300 126px,#ff0f00 134px,#cf0000 138px,#f10c00 140px,#fff302 142px,#fffd05 144px,#ff8500 148px,#ff4b00 158px,#ff0d00 164px,#ff8400 168px,#ff0500 176px,#ff1200 178px,#ffc800 180px,#ffdd00 182px,#ff7800 186px,#ff4000 198px,#f70000 202px,#cc0000 204px,#e00000 206px,#ff1c00 206px,#ff9500 208px,#ffa500 210px,#ff3000 216px,#ff3200 218px,#ffa600 220px,#ffb100 222px,#ff6600 226px,#ff3d00 236px,#fc0500 240px,#920000 244px,#820000 244px,#a10000 246px,#ed0200 246px,#ffa900 248px,#ffd900 250px,#ffe200 250px,#ff3f00 258px,#ff9100 262px,#ff5c00 266px,#ff1100 276px,#dd0000 278px,#5f0000 282px,#540000 282px,#770000 284px,#c10100 284px,#f72a00 286px,#ffdd08 288px,#fffe33 288px,#ffff4e 290px,#fffd07 292px,#ff4600 300px,#ff4600 302px,#ff7e00 304px,#fe0e00 312px,#e20000 314px,#590000 318px,#5e0000 320px,#cc0d00 322px,#f63c00 322px,#ff8e00 324px,#ffd717 324px,#ffff8a 326px,#ffff89 328px,#ffe703 330px,#ffa000 334px,#ff2b00 342px,#ff3000 344px,#ff7300 346px,#ff7c00 346px,#ef0100 352px,#930000 356px,#8b0000 356px,#d51300 358px,#ffa004 360px,#ffe028 362px,#fffd60 362px,#ffff88 364px,#ffff77 364px,#ffeb15 366px,#ffd101 368px,#ff8d00 370px,#ff5200 378px,#ed0000 384px,#ff0600 386px,#ff7300 388px,#ff8900 388px)"></div><div style="top:330px;height:6px;background:linear-gradient(90deg,#ff5b00 0px,#ff4600 18px,#fa0000 24px,#fc0000 26px,#ff9100 28px,#ff9e00 30px,#ff5600 38px,#ff4700 54px,#ff1200 60px,#c40000 64px,#c60000 64px,#f50300 66px,#ff9d00 68px,#ffc600 68px,#ffca00 70px,#ff5000 80px,#ff6800 84px,#ff1600 98px,#fc0500 98px,#ad0000 102px,#b20000 102px,#e50400 104px,#ff4c00 104px,#ffaf00 106px,#ffec00 106px,#fff700 108px,#ff8d00 112px,#ff3a00 122px,#ff7400 126px,#fa0200 136px,#bf0000 140px,#da0100 140px,#fc2a00 142px,#ffde00 144px,#fffe06 144px,#ff8100 150px,#ff5000 158px,#ff1300 164px,#ff2100 164px,#ff7100 166px,#ff8500 168px,#fe0100 176px,#f60400 178px,#ff2900 180px,#ffc100 182px,#ffe600 182px,#ff7500 188px,#ff4600 198px,#ee0000 204px,#db0000 204px,#ff1100 206px,#ff8b00 208px,#ffa100 210px,#ff2b00 216px,#ff2800 218px,#ffb500 222px,#ffc100 222px,#ff6c00 228px,#ff4000 238px,#fe0800 242px,#a00000 244px,#980000 246px,#be0000 246px,#fe1000 248px,#ffb200 250px,#ffcf00 250px,#ff3700 258px,#ff3900 260px,#ff9d00 262px,#ffa100 264px,#ff6300 268px,#ff1500 278px,#e10000 280px,#680000 284px,#660000 284px,#930000 286px,#de0800 286px,#ff4d00 288px,#ffaf00 288px,#fff00c 290px,#ffff21 290px,#ffff15 292px,#fff200 292px,#ff3700 300px,#ff8f00 304px,#fd0d00 316px,#db0000 318px,#660000 320px,#560000 322px,#6d0000 322px,#e31e00 324px,#ffb906 326px,#fff02e 328px,#ffff64 328px,#ffff72 330px,#ffe700 332px,#ff2200 342px,#ff8b00 346px,#ed0100 354px,#730000 358px,#7a0000 360px,#a70100 360px,#da1c00 362px,#ffab08 364px,#ffe530 364px,#fffe65 366px,#ffff85 366px,#fffc39 368px,#ffd100 370px,#ff9000 374px,#ff4300 380px,#fb0100 384px,#ff0900 386px,#ff7600 388px,#ff9300 388px)"></div><div style="top:336px;height:6px;background:linear-gradient(90deg,#ff5b00 0px,#ff4800 18px,#f80000 26px,#ff8600 28px,#ff9800 30px,#ff5600 38px,#ff6400 42px,#ff4700 56px,#ff0f00 62px,#c70000 64px,#d70000 66px,#ff1500 66px,#ffa800 68px,#ffc000 70px,#ff5000 80px,#ff6c00 84px,#ff3a00 96px,#fe0900 100px,#b30000 102px,#b00000 104px,#dc0100 104px,#ff3700 106px,#ff9a00 106px,#ffdb00 108px,#ffed00 108px,#ff8c00 114px,#ff3b00 122px,#ff7800 126px,#fd0600 138px,#b90000 140px,#bf0000 142px,#ea0b00 142px,#ffb700 144px,#fff203 146px,#fffd03 146px,#ff8a00 152px,#ff1800 164px,#ff2300 164px,#ff8700 168px,#ff8800 168px,#f70000 178px,#e30000 180px,#f60f00 180px,#ffe400 184px,#fff100 184px,#ff7f00 190px,#ff4400 200px,#fd0200 204px,#e90000 206px,#ff0b00 206px,#ff8100 208px,#ff9d00 210px,#ff8e00 212px,#ff0e00 218px,#ff1900 220px,#ffc000 222px,#ffd200 224px,#ff7300 228px,#ff4200 238px,#eb0000 244px,#ae0000 246px,#b10000 246px,#e10000 248px,#ff3400 248px,#ffb700 250px,#ffc200 252px,#ff2900 260px,#ff3800 260px,#ffb300 264px,#ff6a00 268px,#ff1600 280px,#de0000 282px,#750000 286px,#860000 286px,#c50000 288px,#fc2800 288px,#ffd400 290px,#fff502 292px,#fff300 292px,#ff3200 300px,#ff3300 302px,#ff9c00 304px,#ffa100 306px,#ff5f00 310px,#fc0d00 318px,#d20000 320px,#600000 324px,#620000 324px,#d00c00 326px,#fa4200 328px,#ffe417 330px,#fffe3d 330px,#ffff4a 332px,#fff604 334px,#ff2300 342px,#ff2900 344px,#ff9800 346px,#ff9800 348px,#fe1300 356px,#e20100 358px,#640000 362px,#730000 362px,#a60200 364px,#da1f00 364px,#ffae08 366px,#ffe62f 368px,#fffe5e 368px,#ffff76 370px,#ffe808 372px,#ffcc00 374px,#fc0100 384px,#ff0e00 386px,#ff9c00 388px)"></div><div style="top:342px;height:4px;background:linear-gradient(90deg,#ff5b00 0px,#ff4900 18px,#f80000 26px,#ff1600 26px,#ff7c00 28px,#ff9700 30px,#ff5500 38px,#ff6600 42px,#ff4300 58px,#ff0700 62px,#cf0000 66px,#f20000 66px,#ff8600 68px,#ffb100 70px,#ffb900 70px,#ff5000 80px,#ff7000 84px,#ff3c00 96px,#ff0b00 100px,#b50000 104px,#b30000 104px,#e00000 106px,#ff3a00 106px,#ff9900 108px,#ffd500 108px,#ffe400 110px,#ff8800 114px,#ff3c00 122px,#ff7c00 126px,#ff0800 138px,#b20000 142px,#db0000 144px,#ff3500 144px,#ffe700 146px,#fffe01 148px,#ff8e00 152px,#ff1c00 164px,#ff2500 164px,#ff8900 168px,#ff8b00 168px,#ff0900 178px,#d00000 180px,#ea0100 182px,#ff3500 182px,#ffe000 184px,#fffb00 186px,#ff8700 190px,#ff4000 200px,#f70000 204px,#ff0a00 206px,#ff7a00 208px,#ff9c00 210px,#fb0100 220px,#fe0c00 220px,#ffcc00 224px,#ffe200 224px,#ff7900 230px,#ff4300 240px,#ff0700 244px,#e80000 244px,#bb0000 246px,#ff1100 248px,#ff9f00 250px,#ffb700 252px,#ff2e00 258px,#ff2100 260px,#ff4000 262px,#ffb100 264px,#ffc600 264px,#ff6e00 270px,#ff3800 280px,#ff0c00 282px,#870000 286px,#900000 288px,#c80000 288px,#ff2400 290px,#ffc700 292px,#ffe100 292px,#ff2e00 300px,#ff3f00 302px,#ff9f00 304px,#ffb300 306px,#ff6300 310px,#ff1100 320px,#db0000 322px,#640000 326px,#670000 326px,#970000 328px,#e40800 328px,#ff5200 330px,#ffb300 330px,#fff20c 332px,#ffff25 332px,#ffff18 334px,#fff300 334px,#ff2400 342px,#ff2600 344px,#ffa200 346px,#ffaa00 348px,#ff5e00 352px,#fd0b00 358px,#d40000 360px,#5f0000 364px,#5b0000 364px,#c90400 366px,#f83100 368px,#ffdd0c 370px,#ffff3f 370px,#ffff68 372px,#ffff55 372px,#ffff20 374px,#ffed01 374px,#ff0700 384px,#ff1200 386px,#ffa300 388px)"></div></div>
<canvas id="cb" width="343" height="344"></canvas>
<canvas id="cd" width="343" height="343"></canvas>
<canvas id="cf" width="389" height="346"></canvas>
<svg width="1715" height="852" viewBox="0 0 1715 852" font-family="'Liberation Sans', Arial, Helvetica, sans-serif">
<defs><linearGradient id="hotg" x1="0" y1="1" x2="0" y2="0"><stop offset="0" stop-color="#000"/><stop offset="0.375" stop-color="#f00"/><stop offset="0.75" stop-color="#ff0"/><stop offset="1" stop-color="#fff"/></linearGradient></defs>
<g fill="#000"><rect x="141" y="48.7" width="27.4" height="275.3" fill="#d9dadb" stroke="#000" stroke-width="1.6"/><rect x="361.5" y="48.7" width="27.6" height="275.3" fill="#d9dadb" stroke="#000" stroke-width="1.6"/><rect x="216.8" y="124" width="100.6" height="124" fill="#a1d8f5"/><line x1="100" y1="185.2" x2="432" y2="185.2" stroke="#000" stroke-width="1" stroke-dasharray="1.2 0.9"/><path d="M51.8,117.05 L124.7,117.05 L124.7,112.40 L140.2,120.00 L124.7,127.60 L124.7,122.95 L51.8,122.95 Z" fill="#000"/><path d="M168.6,140.05 L345.8,140.05 L345.8,135.40 L361.3,143.00 L345.8,150.60 L345.8,145.95 L168.6,145.95 Z" fill="#000"/><path d="M361.3,161.95 L184.3,161.95 L184.3,157.30 L168.8,164.90 L184.3,172.50 L184.3,167.85 L361.3,167.85 Z" fill="#000"/><path d="M168.6,182.35 L345.8,182.35 L345.8,177.70 L361.3,185.30 L345.8,192.90 L345.8,188.25 L168.6,188.25 Z" fill="#000"/><path d="M361.3,204.95 L184.3,204.95 L184.3,200.30 L168.8,207.90 L184.3,215.50 L184.3,210.85 L361.3,210.85 Z" fill="#000"/><path d="M168.6,226.25 L345.8,226.25 L345.8,221.60 L361.3,229.20 L345.8,236.80 L345.8,232.15 L168.6,232.15 Z" fill="#000"/><path d="M389.8,233.25 L504.2,233.25 L504.2,228.60 L519.7,236.20 L504.2,243.80 L504.2,239.15 L389.8,239.15 Z" fill="#000"/><line x1="173.4" y1="284.5" x2="212.0" y2="284.5" stroke="#c8c8c8" stroke-width="1.1"/><path d="M169.4,284.5 L175.4,282.1 L175.4,286.9 Z M216.0,284.5 L210.0,282.1 L210.0,286.9 Z" fill="#c8c8c8"/><line x1="221.2" y1="279.7" x2="313.0" y2="279.7" stroke="#c8c8c8" stroke-width="1.1"/><path d="M217.2,279.7 L223.2,277.3 L223.2,282.09999999999997 Z M317.0,279.7 L311.0,277.3 L311.0,282.09999999999997 Z" fill="#c8c8c8"/><line x1="321.6" y1="285.0" x2="357.4" y2="285.0" stroke="#c8c8c8" stroke-width="1.1"/><path d="M317.6,285.0 L323.6,282.6 L323.6,287.4 Z M361.4,285.0 L355.4,282.6 L355.4,287.4 Z" fill="#c8c8c8"/><line x1="145.2" y1="332.6" x2="164.2" y2="332.6" stroke="#c8c8c8" stroke-width="1.1"/><path d="M141.2,332.6 L147.2,330.20000000000005 L147.2,335.0 Z M168.2,332.6 L162.2,330.20000000000005 L162.2,335.0 Z" fill="#c8c8c8"/><line x1="216.5" y1="248" x2="216.5" y2="296.5" stroke="#d4d4d4" stroke-width="1"/><line x1="317.2" y1="248" x2="317.2" y2="295" stroke="#d4d4d4" stroke-width="1"/><line x1="141.0" y1="325" x2="141.0" y2="339.5" stroke="#d4d4d4" stroke-width="1"/><line x1="168.4" y1="325" x2="168.4" y2="339.5" stroke="#d4d4d4" stroke-width="1"/><polyline points="259.8,43.3 337.9,43.3 373.7,79.6" fill="none" stroke="#333" stroke-width="1"/><polyline points="330.8,93.6 278.4,93.6 248.4,139.5" fill="none" stroke="#333" stroke-width="1"/><text x="191.3" y="35.3" font-size="22.8" >external dielectric</text><text x="191.2" y="60.7" font-size="22.8" >plate</text><text x="290.9" y="90.7" font-size="22.8" >LC</text><text x="-1.4" y="106.9" font-size="22.8" >incident field</text><text x="405.7" y="269.6" font-size="22.8" >transmitted</text><text x="412.0" y="295.0" font-size="22.8" >field</text><text x="130.8" y="379.7" font-size="22.8" >0.5 mm</text><text x="183.3" y="277.4" font-size="22.8" >d</text><text x="197.6" y="282.1" font-size="12.8" >1</text><text x="258.6" y="277.4" font-size="22.8" >L</text><text x="332.0" y="279.2" font-size="22.8" >d</text><text x="344.6" y="283.8" font-size="12.8" >2</text><text x="435.4" y="43.6" font-size="26" >(a)</text></g>
<g fill="#262626">
<text x="683.3" y="359.3" text-anchor="end" font-size="20">0</text><text x="683.3" y="302.0" text-anchor="end" font-size="20">50</text><text x="683.3" y="244.6" text-anchor="end" font-size="20">100</text><text x="683.3" y="187.3" text-anchor="end" font-size="20">150</text><text x="683.3" y="130.0" text-anchor="end" font-size="20">200</text><text x="683.3" y="72.6" text-anchor="end" font-size="20">250</text><text x="683.3" y="15.3" text-anchor="end" font-size="20">300</text><text x="691.0" y="378.0" text-anchor="middle" font-size="20">0</text><text x="805.3" y="378.0" text-anchor="middle" font-size="20">100</text><text x="919.7" y="378.0" text-anchor="middle" font-size="20">200</text><text x="1034.0" y="378.0" text-anchor="middle" font-size="20">300</text>
<text x="833.1" y="404.6" font-size="19.8">d<tspan font-size="14.9" dy="9.1">1</tspan><tspan dy="-9.1">, </tspan><tspan dx="1.5" font-family="'Liberation Serif', 'Times New Roman', serif" font-style="italic">&#956;</tspan>m</text>
<text transform="translate(633.8,179.6) rotate(-90)" text-anchor="middle" font-size="19.8">d<tspan font-size="14.9" dy="9.1">2</tspan><tspan dy="-9.1">, </tspan><tspan dx="1.5" font-family="'Liberation Serif', 'Times New Roman', serif" font-style="italic">&#956;</tspan>m</text>
<rect x="1062.4" y="7.3" width="22.09999999999991" height="343.3" fill="url(#hotg)" stroke="#8c8c8c" stroke-width="0.8"/><line x1="1081.3" y1="324.1" x2="1084.5" y2="324.1" stroke="#555" stroke-width="0.8"/><text x="1090.8" y="332.0" font-size="17.6">-0.4</text><line x1="1081.3" y1="258.7" x2="1084.5" y2="258.7" stroke="#555" stroke-width="0.8"/><text x="1090.8" y="266.6" font-size="17.6">-0.2</text><line x1="1081.3" y1="193.3" x2="1084.5" y2="193.3" stroke="#555" stroke-width="0.8"/><text x="1090.8" y="201.2" font-size="17.6">0</text><line x1="1081.3" y1="127.9" x2="1084.5" y2="127.9" stroke="#555" stroke-width="0.8"/><text x="1090.8" y="135.8" font-size="17.6">0.2</text><line x1="1081.3" y1="62.6" x2="1084.5" y2="62.6" stroke="#555" stroke-width="0.8"/><text x="1090.8" y="70.5" font-size="17.6">0.4</text>
</g>
<line x1="717.00" y1="8.30" x2="717.00" y2="349.66" stroke="#000" stroke-width="2.6" stroke-dasharray="2.6 6.810"/><line x1="746.40" y1="8.30" x2="746.40" y2="349.66" stroke="#000" stroke-width="2.6" stroke-dasharray="2.6 6.810"/><line x1="803.60" y1="8.30" x2="803.60" y2="349.66" stroke="#000" stroke-width="2.6" stroke-dasharray="2.6 6.810"/><line x1="861.45" y1="8.30" x2="861.45" y2="349.66" stroke="#000" stroke-width="2.6" stroke-dasharray="2.6 6.810"/>
<line x1="689.18" y1="349.92" x2="1030.67" y2="9.98" stroke="#000" stroke-width="2.6" stroke-dasharray="2.6 6.797"/>
<text x="988.3" y="42.6" font-size="29.5" fill="#000">(b)</text>
<g fill="#262626">
<text x="684.3" y="788.9" text-anchor="end" font-size="20">0</text><text x="684.3" y="703.1" text-anchor="end" font-size="20">50</text><text x="684.3" y="617.4" text-anchor="end" font-size="20">100</text><text x="684.3" y="531.6" text-anchor="end" font-size="20">150</text><text x="684.3" y="445.9" text-anchor="end" font-size="20">200</text><text x="692.0" y="808.3" text-anchor="middle" font-size="20">0</text><text x="777.8" y="808.3" text-anchor="middle" font-size="20">50</text><text x="863.5" y="808.3" text-anchor="middle" font-size="20">100</text><text x="949.2" y="808.3" text-anchor="middle" font-size="20">150</text><text x="1035.0" y="808.3" text-anchor="middle" font-size="20">200</text>
<text x="833.9" y="834.4" font-size="19.8">d<tspan font-size="14.9" dy="9.1">1</tspan><tspan dy="-9.1">, </tspan><tspan dx="1.5" font-family="'Liberation Serif', 'Times New Roman', serif" font-style="italic">&#956;</tspan>m</text>
<text transform="translate(634.4,610.3) rotate(-90)" text-anchor="middle" font-size="19.8">d<tspan font-size="14.9" dy="9.1">2</tspan><tspan dy="-9.1">, </tspan><tspan dx="1.5" font-family="'Liberation Serif', 'Times New Roman', serif" font-style="italic">&#956;</tspan>m</text>
<rect x="1063.1" y="437.3" width="22.40000000000009" height="343.7" fill="url(#hotg)" stroke="#8c8c8c" stroke-width="0.8"/><line x1="1082.3" y1="765.8" x2="1085.5" y2="765.8" stroke="#555" stroke-width="0.8"/><text x="1090.8" y="773.7" font-size="17.6">-0.8</text><line x1="1082.3" y1="727.9" x2="1085.5" y2="727.9" stroke="#555" stroke-width="0.8"/><text x="1090.8" y="735.8" font-size="17.6">-0.6</text><line x1="1082.3" y1="690.0" x2="1085.5" y2="690.0" stroke="#555" stroke-width="0.8"/><text x="1090.8" y="697.9" font-size="17.6">-0.4</text><line x1="1082.3" y1="652.1" x2="1085.5" y2="652.1" stroke="#555" stroke-width="0.8"/><text x="1090.8" y="660.0" font-size="17.6">-0.2</text><line x1="1082.3" y1="614.2" x2="1085.5" y2="614.2" stroke="#555" stroke-width="0.8"/><text x="1090.8" y="622.1" font-size="17.6">0</text><line x1="1082.3" y1="576.3" x2="1085.5" y2="576.3" stroke="#555" stroke-width="0.8"/><text x="1090.8" y="584.2" font-size="17.6">0.2</text><line x1="1082.3" y1="538.3" x2="1085.5" y2="538.3" stroke="#555" stroke-width="0.8"/><text x="1090.8" y="546.2" font-size="17.6">0.4</text><line x1="1082.3" y1="500.4" x2="1085.5" y2="500.4" stroke="#555" stroke-width="0.8"/><text x="1090.8" y="508.3" font-size="17.6">0.6</text><line x1="1082.3" y1="462.5" x2="1085.5" y2="462.5" stroke="#555" stroke-width="0.8"/><text x="1090.8" y="470.4" font-size="17.6">0.8</text>
</g>
<line x1="774.70" y1="442.50" x2="774.70" y2="783.14" stroke="#000" stroke-width="2.6" stroke-dasharray="2.6 6.810"/><line x1="862.20" y1="442.50" x2="862.20" y2="783.14" stroke="#000" stroke-width="2.6" stroke-dasharray="2.6 6.810"/><line x1="945.80" y1="442.50" x2="945.80" y2="783.14" stroke="#000" stroke-width="2.6" stroke-dasharray="2.6 6.810"/>
<line x1="688.28" y1="784.42" x2="1029.92" y2="444.58" stroke="#000" stroke-width="2.6" stroke-dasharray="2.6 6.798"/>
<text x="988.0" y="471.2" font-size="29.5" fill="#000">(d)</text>
<g fill="#262626">
<text x="82.6" y="788.9" text-anchor="end" font-size="20">0</text><text x="82.6" y="702.4" text-anchor="end" font-size="20">50</text><text x="82.6" y="615.9" text-anchor="end" font-size="20">100</text><text x="82.6" y="529.4" text-anchor="end" font-size="20">150</text><text x="82.6" y="442.9" text-anchor="end" font-size="20">200</text><text x="90.0" y="806.4" text-anchor="middle" font-size="20">0.2</text><text x="187.2" y="806.4" text-anchor="middle" font-size="20">0.4</text><text x="284.5" y="806.4" text-anchor="middle" font-size="20">0.6</text><text x="381.8" y="806.4" text-anchor="middle" font-size="20">0.8</text><text x="479.0" y="806.4" text-anchor="middle" font-size="20">1</text>
<text x="216.3" y="833.3" font-size="19.5">Frequency, THz</text>
<text transform="translate(34.6,607.6) rotate(-90)" text-anchor="middle" font-size="19.8">d<tspan font-size="14.9" dy="9.1">1</tspan><tspan dy="-9.1">, </tspan><tspan dx="1.5" font-family="'Liberation Serif', 'Times New Roman', serif" font-style="italic">&#956;</tspan>m</text>
<rect x="495.2" y="435.3" width="20.599999999999966" height="345.40000000000003" fill="url(#hotg)" stroke="#8c8c8c" stroke-width="0.8"/><line x1="512.5999999999999" y1="751.4" x2="515.8" y2="751.4" stroke="#555" stroke-width="0.8"/><text x="523.1" y="759.3" font-size="17.6">-0.8</text><line x1="512.5999999999999" y1="715.2" x2="515.8" y2="715.2" stroke="#555" stroke-width="0.8"/><text x="523.1" y="723.1" font-size="17.6">-0.6</text><line x1="512.5999999999999" y1="679.0" x2="515.8" y2="679.0" stroke="#555" stroke-width="0.8"/><text x="523.1" y="686.9" font-size="17.6">-0.4</text><line x1="512.5999999999999" y1="642.8" x2="515.8" y2="642.8" stroke="#555" stroke-width="0.8"/><text x="523.1" y="650.7" font-size="17.6">-0.2</text><line x1="512.5999999999999" y1="606.6" x2="515.8" y2="606.6" stroke="#555" stroke-width="0.8"/><text x="523.1" y="614.5" font-size="17.6">0</text><line x1="512.5999999999999" y1="570.3" x2="515.8" y2="570.3" stroke="#555" stroke-width="0.8"/><text x="523.1" y="578.2" font-size="17.6">0.2</text><line x1="512.5999999999999" y1="534.1" x2="515.8" y2="534.1" stroke="#555" stroke-width="0.8"/><text x="523.1" y="542.0" font-size="17.6">0.4</text><line x1="512.5999999999999" y1="497.9" x2="515.8" y2="497.9" stroke="#555" stroke-width="0.8"/><text x="523.1" y="505.8" font-size="17.6">0.6</text><line x1="512.5999999999999" y1="461.7" x2="515.8" y2="461.7" stroke="#555" stroke-width="0.8"/><text x="523.1" y="469.6" font-size="17.6">0.8</text>
<text transform="translate(575.5,608.1) rotate(-90)" text-anchor="middle" font-size="19.5">&#916;</text>
</g>
<text x="435.9" y="468.6" font-size="29.3" fill="#000">(f)</text>
<g fill="#000">
<path d="M1245.1,9.9 H1697.8 V346.5 H1245.1 Z" fill="none" stroke="#262626" stroke-width="1.5"/><path d="M1245.1,346.5 v6.6 M1245.1,9.9 v-6.6 M1320.5,346.5 v6.6 M1320.5,9.9 v-6.6 M1396.0,346.5 v6.6 M1396.0,9.9 v-6.6 M1471.4,346.5 v6.6 M1471.4,9.9 v-6.6 M1546.9,346.5 v6.6 M1546.9,9.9 v-6.6 M1622.3,346.5 v6.6 M1622.3,9.9 v-6.6 M1697.8,346.5 v6.6 M1697.8,9.9 v-6.6 M1282.8,346.5 v3.8 M1282.8,9.9 v-3.8 M1358.3,346.5 v3.8 M1358.3,9.9 v-3.8 M1433.7,346.5 v3.8 M1433.7,9.9 v-3.8 M1509.2,346.5 v3.8 M1509.2,9.9 v-3.8 M1584.6,346.5 v3.8 M1584.6,9.9 v-3.8 M1660.1,346.5 v3.8 M1660.1,9.9 v-3.8 M1245.1,312.8 h-6.6 M1245.1,268.0 h-6.6 M1245.1,223.1 h-6.6 M1245.1,178.2 h-6.6 M1245.1,133.3 h-6.6 M1245.1,88.4 h-6.6 M1245.1,43.6 h-6.6 M1245.1,335.3 h-3.8 M1245.1,290.4 h-3.8 M1245.1,245.5 h-3.8 M1245.1,200.6 h-3.8 M1245.1,155.8 h-3.8 M1245.1,110.9 h-3.8 M1245.1,66.0 h-3.8 M1245.1,21.1 h-3.8" stroke="#262626" stroke-width="1.5" fill="none"/><text x="1245.1" y="373.3" text-anchor="middle" font-size="20.3">0</text><text x="1320.5" y="373.3" text-anchor="middle" font-size="20.3">50</text><text x="1396.0" y="373.3" text-anchor="middle" font-size="20.3">100</text><text x="1471.4" y="373.3" text-anchor="middle" font-size="20.3">150</text><text x="1546.9" y="373.3" text-anchor="middle" font-size="20.3">200</text><text x="1622.3" y="373.3" text-anchor="middle" font-size="20.3">250</text><text x="1697.8" y="373.3" text-anchor="middle" font-size="20.3">300</text><text x="1233.3" y="318.4" text-anchor="end" font-size="19.9">-0.6</text><text x="1233.3" y="273.6" text-anchor="end" font-size="19.9">-0.4</text><text x="1233.3" y="228.7" text-anchor="end" font-size="19.9">-0.2</text><text x="1233.3" y="183.8" text-anchor="end" font-size="19.9">0.0</text><text x="1233.3" y="138.9" text-anchor="end" font-size="19.9">0.2</text><text x="1233.3" y="94.0" text-anchor="end" font-size="19.9">0.4</text><text x="1233.3" y="49.2" text-anchor="end" font-size="19.9">0.6</text>
<g stroke-linejoin="round"><path d="M1245.1,170.4 L1252.6,172.8 L1262.0,174.6 L1273.8,175.8 L1288.9,176.7 L1306.8,177.3 L1330.8,177.7 L1440.1,178.3 L1474.6,178.8 L1489.3,179.2 L1500.9,179.9 L1510.2,180.8 L1517.9,182.0 L1525.6,183.9 L1532.0,186.5 L1537.4,189.9 L1542.1,194.2 L1546.0,199.2 L1549.8,205.6 L1552.6,211.5 L1558.2,224.7 L1560.3,229.1 L1562.1,231.6 L1562.9,232.1 L1563.6,232.3 L1564.4,231.9 L1565.2,231.1 L1566.7,227.6 L1568.0,222.3 L1569.4,214.9 L1571.8,196.8 L1577.2,147.7 L1579.8,130.1 L1581.0,124.4 L1582.2,120.4 L1583.6,117.8 L1584.2,117.3 L1584.9,117.1 L1585.7,117.4 L1586.6,118.2 L1588.4,121.2 L1597.5,143.5 L1600.3,149.4 L1603.2,154.3 L1606.4,158.7 L1609.8,162.5 L1613.6,165.7 L1617.8,168.3 L1622.8,170.6 L1628.7,172.5 L1635.5,174.0 L1643.6,175.1 L1653.3,176.0 L1664.9,176.7 L1697.8,177.5" stroke="#800000" stroke-width="1.2" fill="none"/><path d="M1245.1,145.2 L1248.6,152.0 L1252.3,157.7 L1256.6,162.4 L1261.2,166.1 L1266.7,169.1 L1273.0,171.4 L1280.4,173.3 L1289.5,174.7 L1298.7,175.6 L1309.8,176.3 L1340.5,177.2 L1381.4,177.7 L1479.9,178.1 L1510.5,178.6 L1522.8,179.1 L1532.4,179.8 L1540.3,180.8 L1546.7,182.1 L1552.9,184.1 L1558.2,186.7 L1562.7,190.1 L1566.7,194.3 L1570.1,199.4 L1573.3,205.4 L1582.7,227.9 L1584.3,230.4 L1585.1,231.0 L1585.8,231.2 L1586.6,230.8 L1587.2,230.1 L1588.4,227.4 L1589.6,222.9 L1590.8,216.4 L1593.4,196.7 L1598.7,143.8 L1601.1,123.5 L1602.4,115.2 L1603.8,109.3 L1605.1,105.9 L1605.9,105.0 L1606.7,104.7 L1607.4,105.0 L1608.3,106.0 L1610.3,110.1 L1618.6,135.6 L1621.1,142.4 L1623.7,148.1 L1626.4,153.1 L1629.4,157.5 L1632.6,161.2 L1636.1,164.3 L1640.5,167.3 L1645.3,169.7 L1650.9,171.6 L1657.4,173.2 L1664.9,174.4 L1673.8,175.4 L1684.7,176.2 L1697.8,176.7" stroke="#008000" stroke-width="1.2" fill="none"/><path d="M1245.1,142.8 L1248.3,106.9 L1251.0,84.4 L1252.3,76.8 L1253.7,71.7 L1255.1,69.1 L1255.7,68.6 L1256.4,68.6 L1257.3,69.4 L1258.2,70.8 L1260.2,76.0 L1262.2,82.9 L1268.0,106.8 L1271.2,118.4 L1275.0,130.0 L1278.9,139.6 L1283.4,148.1 L1285.8,151.6 L1288.6,155.0 L1291.4,158.0 L1294.4,160.6 L1297.8,163.0 L1301.2,165.1 L1305.3,167.0 L1309.7,168.7 L1314.7,170.2 L1320.1,171.5 L1332.9,173.5 L1349.1,175.0 L1368.8,176.0 L1394.6,176.7 L1496.7,177.8 L1524.7,178.4 L1537.5,179.1 L1547.8,180.0 L1556.3,181.3 L1563.2,182.9 L1567.0,184.2 L1570.4,185.7 L1573.6,187.5 L1576.6,189.5 L1579.3,191.9 L1581.9,194.5 L1584.3,197.6 L1586.6,201.0 L1590.5,208.4 L1594.1,217.4 L1596.8,225.6 L1602.6,245.1 L1604.8,251.8 L1606.8,255.7 L1607.7,256.5 L1608.5,256.7 L1609.4,256.0 L1610.1,254.8 L1611.8,249.4 L1613.3,241.3 L1615.0,228.6 L1617.8,199.1 L1624.3,119.6 L1627.5,89.7 L1629.0,79.9 L1630.3,73.7 L1631.9,69.7 L1632.6,68.8 L1633.4,68.6 L1634.3,69.0 L1635.3,70.6 L1636.5,73.3 L1637.7,77.0 L1646.6,112.0 L1651.3,127.5 L1655.8,139.0 L1658.3,143.9 L1660.7,148.1 L1664.0,152.8 L1667.5,156.8 L1671.2,160.3 L1675.5,163.3 L1680.1,165.9 L1685.3,168.1 L1691.2,170.0 L1697.8,171.6" stroke="#0000ff" stroke-width="1.2" fill="none"/><path d="M1245.1,272.3 L1246.6,276.1 L1248.1,278.8 L1249.5,279.9 L1250.2,280.0 L1250.8,279.6 L1252.2,277.6 L1253.4,274.2 L1254.6,269.2 L1255.8,262.6 L1257.9,247.5 L1260.3,225.0 L1269.1,124.7 L1272.9,88.3 L1275.1,72.0 L1277.2,61.2 L1278.3,57.4 L1279.4,54.6 L1280.4,52.9 L1281.6,52.0 L1282.8,52.2 L1284.2,53.6 L1285.7,56.4 L1287.2,60.2 L1289.9,68.6 L1297.2,94.6 L1301.1,107.5 L1305.5,119.8 L1309.8,129.9 L1314.8,139.0 L1317.5,143.1 L1320.2,146.7 L1323.1,150.0 L1326.3,153.1 L1329.6,155.9 L1333.1,158.4 L1337.5,161.0 L1342.1,163.3 L1347.1,165.3 L1352.7,167.1 L1358.7,168.7 L1365.5,170.1 L1381.2,172.4 L1399.6,174.0 L1422.7,175.1 L1449.0,176.0 L1511.4,177.3 L1538.0,178.5 L1550.5,179.6 L1560.8,181.1 L1569.4,183.0 L1576.6,185.5 L1580.7,187.4 L1584.3,189.5 L1587.6,191.9 L1590.8,194.6 L1593.7,197.7 L1596.4,201.0 L1599.0,204.8 L1601.5,209.3 L1605.9,218.6 L1610.0,229.7 L1613.1,240.0 L1619.9,264.5 L1622.5,272.7 L1624.8,277.9 L1625.8,279.3 L1626.9,280.0 L1627.9,279.7 L1628.8,278.7 L1629.7,276.8 L1630.6,274.2 L1632.5,266.1 L1634.4,253.4 L1636.2,238.3 L1638.2,218.7 L1645.9,129.7 L1649.4,94.7 L1651.3,79.0 L1653.1,67.6 L1654.9,59.4 L1655.8,56.5 L1656.9,54.0 L1658.3,52.3 L1659.0,52.0 L1659.8,52.1 L1660.5,52.6 L1661.4,53.6 L1663.1,56.7 L1664.9,61.4 L1666.9,67.6 L1677.0,103.2 L1682.3,118.7 L1685.9,127.4 L1689.7,134.9 L1693.6,141.4 L1697.8,147.1" stroke="#ff0000" stroke-width="1.2" fill="none"/><path d="M1245.1,205.6 L1248.7,213.9 L1252.0,224.0 L1254.9,234.7 L1260.0,256.6 L1261.8,262.9 L1262.9,265.4 L1264.0,266.6 L1264.4,266.7 L1264.9,266.4 L1265.8,264.9 L1266.8,261.1 L1267.7,256.1 L1269.8,238.3 L1271.7,217.3 L1276.2,157.8 L1278.8,131.1 L1280.0,122.2 L1281.3,115.2 L1282.7,111.3 L1283.3,110.5 L1284.0,110.1 L1284.6,110.3 L1285.4,111.2 L1287.1,114.6 L1295.3,141.5 L1298.1,148.6 L1300.8,154.4 L1304.0,159.6 L1307.6,164.1 L1311.5,167.5 L1316.0,170.3 L1321.8,172.6 L1328.5,174.3 L1337.0,175.6 L1347.6,176.5 L1360.2,177.1 L1376.8,177.5 L1448.1,178.2 L1469.3,178.7 L1478.8,179.1 L1486.2,179.8 L1492.3,180.7 L1497.3,181.9 L1502.4,183.8 L1506.8,186.5 L1510.5,190.1 L1513.9,194.6 L1516.6,199.7 L1519.1,206.0 L1526.8,230.1 L1528.0,232.6 L1528.6,233.4 L1529.2,233.7 L1529.8,233.5 L1530.3,233.0 L1531.4,230.5 L1532.3,226.8 L1533.3,220.6 L1535.1,205.8 L1539.2,166.0 L1541.3,150.8 L1542.4,145.8 L1543.6,142.1 L1544.8,140.4 L1545.4,140.2 L1546.0,140.3 L1547.2,141.3 L1548.6,143.4 L1554.7,156.1 L1558.2,162.2 L1562.0,167.1 L1566.1,171.0 L1570.6,174.1 L1575.9,176.7 L1581.5,178.7 L1596.5,183.5 L1600.8,185.2 L1604.5,187.0 L1608.3,189.2 L1611.8,191.8 L1614.8,194.6 L1617.7,198.1 L1620.2,201.8 L1622.7,206.2 L1624.9,211.2 L1627.0,216.8 L1631.1,230.6 L1638.2,260.0 L1639.9,264.8 L1640.6,266.1 L1641.4,266.7 L1642.0,266.5 L1642.6,265.8 L1643.6,263.0 L1644.7,258.0 L1645.9,249.5 L1648.2,226.6 L1653.0,163.3 L1655.2,137.9 L1656.5,127.5 L1657.7,119.5 L1658.9,114.1 L1660.1,111.0 L1661.0,110.2 L1661.9,110.3 L1662.8,111.4 L1663.8,113.5 L1665.7,118.6 L1670.6,135.4 L1673.4,143.6 L1676.5,151.4 L1679.8,157.6 L1683.5,162.6 L1687.5,166.6 L1692.2,169.7 L1697.8,172.2" stroke="#000" stroke-width="1.6" fill="none" stroke-dasharray="1.6 5.4"/><path d="M1245.1,206.8 L1247.1,211.5 L1249.0,217.1 L1252.6,230.4 L1255.4,243.4 L1260.5,272.4 L1262.5,281.6 L1263.5,284.6 L1264.4,285.7 L1264.9,285.5 L1265.3,284.8 L1266.1,282.4 L1267.1,276.1 L1268.0,267.9 L1270.0,241.1 L1271.8,207.2 L1276.0,117.4 L1278.1,81.4 L1279.2,68.3 L1280.3,59.1 L1281.3,53.7 L1281.8,52.5 L1282.4,52.0 L1283.0,52.5 L1283.6,53.9 L1285.1,60.7 L1292.6,114.1 L1295.2,128.2 L1297.8,139.2 L1300.9,149.1 L1304.4,156.8 L1306.4,160.0 L1308.5,162.9 L1310.7,165.3 L1313.3,167.5 L1315.9,169.2 L1318.7,170.8 L1321.9,172.1 L1325.5,173.3 L1334.0,175.0 L1344.8,176.2 L1357.8,177.0 L1375.2,177.5 L1449.6,178.2 L1471.0,178.7 L1480.4,179.2 L1487.6,179.9 L1493.5,180.9 L1498.5,182.3 L1503.6,184.6 L1507.8,187.6 L1511.4,191.6 L1514.6,196.6 L1517.2,202.3 L1519.7,209.7 L1527.0,236.7 L1528.2,239.6 L1529.2,240.7 L1529.8,240.4 L1530.3,239.8 L1531.4,236.6 L1532.3,231.7 L1533.3,223.5 L1535.0,205.8 L1538.8,157.9 L1540.7,139.3 L1541.6,133.5 L1542.7,129.0 L1543.7,126.8 L1544.3,126.3 L1544.9,126.4 L1546.0,127.6 L1547.4,130.6 L1553.2,148.1 L1556.7,156.6 L1560.5,163.4 L1562.6,166.3 L1564.9,168.8 L1567.1,170.9 L1569.7,172.8 L1575.4,176.0 L1581.5,178.4 L1597.6,183.7 L1602.1,185.7 L1606.1,187.8 L1610.0,190.4 L1613.4,193.5 L1616.5,196.9 L1619.3,201.1 L1621.9,205.9 L1624.2,211.1 L1626.3,217.1 L1628.4,224.4 L1632.3,241.8 L1638.8,277.8 L1640.3,283.5 L1641.1,285.2 L1641.7,285.7 L1642.3,285.3 L1642.9,284.0 L1643.9,279.3 L1645.0,271.0 L1646.2,257.0 L1648.5,219.3 L1652.8,126.4 L1654.8,90.4 L1656.9,63.9 L1658.0,56.3 L1659.0,52.5 L1659.6,52.0 L1660.4,52.7 L1661.1,54.9 L1662.0,59.0 L1663.7,69.5 L1668.2,103.2 L1670.5,117.7 L1673.5,133.1 L1676.8,145.3 L1678.8,150.7 L1680.7,155.1 L1682.9,158.9 L1685.3,162.3 L1688.0,165.3 L1690.9,167.7 L1694.2,169.9 L1697.8,171.6" stroke="#000" stroke-width="1.2" fill="none"/></g>
<line x1="1328" y1="27.3" x2="1363.8" y2="27.3" stroke="#000" stroke-width="1.3"/><text x="1367.9" y="33.1" font-size="16.2">symmetrical case without absorption</text><line x1="1328" y1="46.8" x2="1363.8" y2="46.8" stroke="#000" stroke-width="1.6" stroke-dasharray="1.6 5.5"/><text x="1367.9" y="52.2" font-size="16.2">symmetrical case with absorption</text><line x1="1328" y1="66.4" x2="1363.8" y2="66.4" stroke="#ff0000" stroke-width="1.3"/><text x="1367.9" y="72.0" font-size="16.2">d</text><text x="1377.9" y="78.5" font-size="8.6">1</text><text x="1386.8" y="72.0" font-size="16.2">= 25um</text><line x1="1328" y1="91.8" x2="1363.8" y2="91.8" stroke="#0000ff" stroke-width="1.3"/><text x="1367.9" y="97.0" font-size="16.2">d</text><text x="1377.9" y="103.5" font-size="8.6">1</text><text x="1386.8" y="97.0" font-size="16.2">= 50 um</text><line x1="1328" y1="116.4" x2="1363.8" y2="116.4" stroke="#008000" stroke-width="1.3"/><text x="1367.9" y="121.9" font-size="16.2">d</text><text x="1377.9" y="128.4" font-size="8.6">1</text><text x="1386.8" y="121.9" font-size="16.2">= 100 um</text><line x1="1328" y1="141.3" x2="1363.8" y2="141.3" stroke="#800000" stroke-width="1.3"/><text x="1367.9" y="146.6" font-size="16.2">d</text><text x="1377.9" y="153.1" font-size="8.6">1</text><text x="1386.8" y="146.6" font-size="16.2">= 150 um</text>
<text x="1648.3" y="38.9" font-size="29.5">(c)</text>
<text x="1437.7" y="409.2" font-size="25.3">d<tspan font-size="16.4" dy="10.5">2</tspan><tspan dy="-10.5"> &#181;m</tspan></text>
<text transform="translate(1177.2,191.7) rotate(-90)" text-anchor="middle" font-size="25.5" font-family="'Liberation Serif', 'Times New Roman', serif">&#916;</text>
<path d="M1247.3,439.4 H1699.2 V776.9 H1247.3 Z" fill="none" stroke="#262626" stroke-width="1.5"/><path d="M1247.3,776.9 v6.6 M1247.3,439.4 v-6.6 M1360.3,776.9 v6.6 M1360.3,439.4 v-6.6 M1473.2,776.9 v6.6 M1473.2,439.4 v-6.6 M1586.2,776.9 v6.6 M1586.2,439.4 v-6.6 M1699.2,776.9 v6.6 M1699.2,439.4 v-6.6 M1303.8,776.9 v3.8 M1303.8,439.4 v-3.8 M1416.8,776.9 v3.8 M1416.8,439.4 v-3.8 M1529.7,776.9 v3.8 M1529.7,439.4 v-3.8 M1642.7,776.9 v3.8 M1642.7,439.4 v-3.8 M1247.3,776.9 h-6.6 M1247.3,718.2 h-6.6 M1247.3,659.5 h-6.6 M1247.3,600.8 h-6.6 M1247.3,542.1 h-6.6 M1247.3,483.4 h-6.6 M1247.3,747.6 h-3.8 M1247.3,688.9 h-3.8 M1247.3,630.2 h-3.8 M1247.3,571.5 h-3.8 M1247.3,512.8 h-3.8 M1247.3,454.1 h-3.8" stroke="#262626" stroke-width="1.5" fill="none"/><text x="1247.3" y="803.2" text-anchor="middle" font-size="20.3">0</text><text x="1360.3" y="803.2" text-anchor="middle" font-size="20.3">50</text><text x="1473.2" y="803.2" text-anchor="middle" font-size="20.3">100</text><text x="1586.2" y="803.2" text-anchor="middle" font-size="20.3">150</text><text x="1699.2" y="803.2" text-anchor="middle" font-size="20.3">200</text><text x="1234.8" y="782.5" text-anchor="end" font-size="19.9">-1.2</text><text x="1234.8" y="723.8" text-anchor="end" font-size="19.9">-0.8</text><text x="1234.8" y="665.1" text-anchor="end" font-size="19.9">-0.4</text><text x="1234.8" y="606.4" text-anchor="end" font-size="19.9">0.0</text><text x="1234.8" y="547.7" text-anchor="end" font-size="19.9">0.4</text><text x="1234.8" y="489.0" text-anchor="end" font-size="19.9">0.8</text>
<line x1="1247.3" y1="600.8" x2="1699.2" y2="600.8" stroke="#b4b4b4" stroke-width="1" stroke-dasharray="1 1.5"/>
<g stroke-linejoin="round"><path d="M1247.3,628.0 L1252.0,634.9 L1256.6,643.0 L1260.9,652.1 L1269.2,671.5 L1271.5,676.0 L1273.3,679.0 L1275.8,681.9 L1276.9,682.7 L1278.0,683.0 L1279.2,682.8 L1280.3,682.2 L1281.4,681.2 L1282.5,679.6 L1284.6,675.7 L1286.6,670.4 L1288.9,663.2 L1291.6,653.2 L1317.6,542.8 L1322.8,521.7 L1326.8,506.6 L1330.4,495.3 L1333.6,487.7 L1335.2,485.0 L1336.8,483.0 L1338.1,481.9 L1339.7,481.4 L1341.5,481.7 L1343.6,483.3 L1345.6,485.9 L1347.6,489.4 L1351.5,497.9 L1361.9,524.8 L1367.3,537.4 L1370.4,543.9 L1373.6,549.8 L1376.8,555.0 L1380.2,559.9 L1384.0,564.7 L1387.8,568.8 L1391.9,572.5 L1396.4,576.0 L1401.2,579.1 L1406.4,581.9 L1411.8,584.3 L1417.9,586.6 L1424.4,588.5 L1431.4,590.2 L1439.4,591.7 L1447.9,593.1 L1468.1,595.2 L1492.9,596.8 L1520.9,597.9 L1556.2,598.6 L1699.2,600.3" stroke="#008000" stroke-width="1.2" fill="none"/><path d="M1247.3,608.4 L1253.2,610.2 L1258.4,612.3 L1263.1,614.6 L1267.6,617.2 L1271.9,620.3 L1275.8,623.6 L1279.4,627.2 L1282.8,631.2 L1286.2,635.9 L1289.3,640.9 L1292.5,646.7 L1295.4,652.7 L1300.9,665.6 L1310.6,691.5 L1314.6,700.4 L1316.9,703.9 L1319.2,706.0 L1320.3,706.4 L1321.4,706.4 L1322.3,706.1 L1323.4,705.3 L1325.0,703.6 L1326.8,700.6 L1330.4,692.0 L1334.5,679.5 L1345.4,642.7 L1351.9,622.9 L1359.1,603.7 L1374.5,566.4 L1381.5,548.5 L1387.4,532.1 L1399.1,497.1 L1403.7,484.6 L1407.3,476.2 L1410.7,470.2 L1412.2,468.2 L1413.8,466.7 L1415.4,465.9 L1416.8,465.6 L1419.0,466.1 L1421.5,468.0 L1424.0,471.2 L1426.5,475.5 L1431.0,485.3 L1442.1,513.0 L1447.9,526.6 L1454.3,539.1 L1460.8,549.8 L1464.4,554.7 L1468.3,559.4 L1472.1,563.4 L1476.2,567.2 L1480.5,570.6 L1485.0,573.8 L1489.7,576.6 L1494.9,579.3 L1500.8,581.8 L1507.1,584.1 L1513.9,586.1 L1521.4,588.0 L1529.3,589.6 L1538.1,591.1 L1558.2,593.5 L1581.5,595.3 L1609.9,596.8 L1643.6,597.9 L1699.2,599.2" stroke="#0000ff" stroke-width="1.2" fill="none"/><path d="M1247.3,604.5 L1263.3,606.8 L1277.1,609.3 L1289.3,612.1 L1300.2,615.3 L1310.1,619.0 L1319.2,623.3 L1327.3,628.1 L1335.0,633.7 L1341.1,639.1 L1346.7,644.9 L1352.1,651.4 L1357.3,658.5 L1362.5,666.6 L1367.7,675.7 L1383.1,705.6 L1388.1,714.5 L1390.8,718.8 L1393.5,722.3 L1396.0,724.9 L1398.2,726.5 L1400.9,727.6 L1403.4,727.6 L1406.1,726.5 L1408.9,724.4 L1411.6,721.3 L1414.5,716.9 L1417.7,711.2 L1421.3,703.7 M1449.5,641.0 L1455.9,629.2 L1462.9,617.3 L1488.6,577.1 L1499.7,558.5 L1509.0,541.4 L1527.5,503.8 L1534.5,490.9 L1538.5,484.8 L1542.4,480.2 L1546.0,477.3 L1547.8,476.4 L1549.4,476.0 L1552.6,475.9 L1554.1,476.3 L1555.9,477.1 L1559.6,479.7 L1563.2,483.5 L1566.3,487.7 L1569.7,492.8 L1587.8,523.3 L1593.0,531.5 L1598.0,538.6 L1603.8,546.1 L1609.7,552.7 L1615.8,558.6 L1622.2,563.9 L1629.2,568.9 L1636.8,573.5 L1645.0,577.5 L1654.0,581.2 L1663.7,584.4 L1674.3,587.3 L1686.1,589.8 L1699.2,592.1" stroke="#ff0000" stroke-width="1.2" fill="none"/><path d="M1247.3,596.0 L1255.2,599.0 L1264.7,601.5 L1274.4,603.3 L1300.2,607.4 L1313.1,610.2 L1323.9,613.4 L1328.6,615.3 L1333.2,617.5 L1337.7,620.1 L1342.0,623.1 L1345.8,626.2 L1349.7,629.9 L1353.5,634.3 L1357.3,639.3 L1368.2,655.6 L1371.3,659.9 L1373.2,661.9 L1375.0,663.5 L1376.8,664.5 L1378.4,664.8 L1380.6,664.3 L1382.6,662.8 L1384.9,660.1 L1387.4,656.0 L1391.2,647.8 L1401.2,623.5 L1407.0,610.2 L1414.3,596.0 L1422.2,582.3 L1428.5,572.7 L1433.9,565.9 L1436.4,563.5 L1438.7,561.8 L1440.9,560.6 L1443.2,559.9 L1445.5,559.7 L1447.7,560.0 L1450.2,560.9 L1452.7,562.3 L1457.2,565.6 L1467.1,574.4 L1472.3,578.6 L1478.0,582.5 L1483.9,585.8 L1490.0,588.6 L1496.5,590.9 L1503.8,592.8 L1511.7,594.4 L1519.8,595.6 L1528.8,596.6 L1551.0,598.1 L1582.4,599.1 L1666.9,600.7 L1685.6,601.8 L1692.9,602.5 L1699.2,603.4" stroke="#000" stroke-width="1.6" fill="none" stroke-dasharray="1.6 5.4"/><path d="M1247.3,594.1 L1250.9,596.1 L1255.0,597.8 L1264.2,600.8 L1274.2,603.0 L1302.7,608.3 L1310.6,610.2 L1317.6,612.3 L1324.6,615.1 L1330.7,618.3 L1336.1,622.1 L1340.8,626.4 L1345.4,631.6 L1349.4,637.7 L1353.3,644.9 L1356.7,652.7 L1360.3,663.0 L1363.7,674.6 L1372.7,712.2 L1375.4,722.1 L1377.0,726.4 L1378.4,728.9 L1379.7,730.2 L1380.4,730.3 L1381.1,730.0 L1382.2,728.7 L1383.5,725.8 L1384.9,721.5 L1386.3,716.1 L1389.2,701.3 L1396.9,657.4 L1401.2,635.9 L1406.6,613.0 L1417.9,571.4 L1422.9,551.4 L1427.4,530.6 L1434.8,491.7 L1437.5,479.0 L1439.4,472.1 L1440.9,467.7 L1442.5,465.0 L1443.2,464.5 L1443.9,464.4 L1445.0,464.9 L1446.4,467.0 L1447.5,469.7 L1448.8,474.0 L1451.3,484.1 L1457.9,515.5 L1461.3,530.2 L1465.3,544.8 L1469.4,556.2 L1471.9,561.8 L1474.4,566.6 L1477.1,571.0 L1480.0,575.0 L1483.0,578.3 L1486.4,581.4 L1490.0,584.2 L1494.0,586.7 L1498.1,588.7 L1502.4,590.4 L1507.1,591.9 L1512.3,593.2 L1524.5,595.4 L1539.5,597.0 L1555.9,598.0 L1576.7,598.8 L1649.5,600.2 L1669.4,600.7 L1686.5,601.8 L1699.2,603.4" stroke="#000" stroke-width="1.2" fill="none"/></g>
<line x1="1436" y1="658.9" x2="1472.2" y2="658.9" stroke="#000" stroke-width="1.3"/><text x="1475.3" y="664.4" font-size="13.3">symmetrical case without absorption</text><line x1="1436" y1="679.0" x2="1472.2" y2="679.0" stroke="#000" stroke-width="1.4" stroke-dasharray="1.4 4.6"/><text x="1475.3" y="684.1" font-size="13.3">symmetrical case with absorption</text><line x1="1436" y1="698.6" x2="1472.2" y2="698.6" stroke="#ff0000" stroke-width="1.3"/><text x="1475.3" y="703.8" font-size="13.3">d</text><text x="1483.2" y="710.4" font-size="12.6">1</text><text x="1493.2" y="703.8" font-size="13.3">= 50 um</text><line x1="1436" y1="724.5" x2="1472.2" y2="724.5" stroke="#0000ff" stroke-width="1.3"/><text x="1475.3" y="729.7" font-size="13.3">d</text><text x="1483.2" y="736.3000000000001" font-size="12.6">1</text><text x="1493.2" y="729.7" font-size="13.3">= 100 um</text><line x1="1436" y1="750.5" x2="1472.2" y2="750.5" stroke="#008000" stroke-width="1.3"/><text x="1475.3" y="755.7" font-size="13.3">d</text><text x="1483.2" y="762.3000000000001" font-size="12.6">1</text><text x="1493.2" y="755.7" font-size="13.3">= 150 um</text>
<text x="1646.3" y="472.4" font-size="29.8">(e)</text>
<text x="1439.4" y="840.6" font-size="25.3">d<tspan font-size="16.4" dy="10.5">2</tspan><tspan dy="-10.5"> &#181;m</tspan></text>
<text transform="translate(1172.9,622.3) rotate(-90)" text-anchor="middle" font-size="24" font-family="'Liberation Serif', 'Times New Roman', serif">&#916;</text>
</g>
</svg>
</div><script>
(function(){
var NP=3.315825687003856, NO=1.8756303848986922, NE=2.078163448667149;
function Tr(k0, ls){
  var a=1,ai=0,b=0,bi=0,c=0,ci=0,d=1,di=0;
  for(var j=0;j<ls.length;j++){
    var n=ls[j][0], th=ls[j][1];
    if(th===0) continue;
    var dl=k0*n*th, co=Math.cos(dl), si=Math.sin(dl), p=si/n, q=n*si;
    var na=a*co - bi*q, nai=ai*co + b*q;
    var nb=-ai*p + b*co, nbi=a*p + bi*co;
    var nc=c*co - di*q, nci=ci*co + d*q;
    var nd=-ci*p + d*co, ndi=c*p + di*co;
    a=na;ai=nai;b=nb;bi=nbi;c=nc;ci=nci;d=nd;di=ndi;
  }
  var sr=a+b+c+d, si2=ai+bi+ci+di;
  return 4/(sr*sr+si2*si2);
}
function D(f,d1,d2,L){
  var k0=2*Math.PI*f*1e12/3e8*1e-6;
  return Tr(k0,[[NP,500],[1,d1],[NO,L],[1,d2],[NP,500]]) - Tr(k0,[[NP,500],[1,d1],[NE,L],[1,d2],[NP,500]]);
}
function hot(t,out,o){
  if(t<0)t=0; if(t>1)t=1;
  var r=t/0.375, g=(t-0.375)/0.375, b=(t-0.75)/0.25;
  out[o]=Math.round(255*Math.max(0,Math.min(1,r)));
  out[o+1]=Math.round(255*Math.max(0,Math.min(1,g)));
  out[o+2]=Math.round(255*Math.max(0,Math.min(1,b)));
  out[o+3]=255;
}
function draw(id, fn, vmin, vmax){
  var cv=document.getElementById(id); if(!cv||!cv.getContext) return;
  var ctx=cv.getContext('2d'), W=cv.width, H=cv.height;
  var img=ctx.createImageData(W,H), px=img.data;
  for(var j=0;j<H;j++){
    for(var i=0;i<W;i++){
      var v=fn((i+0.5)/W, 1-(j+0.5)/H);
      hot((v-vmin)/(vmax-vmin), px, 4*(j*W+i));
    }
  }
  ctx.putImageData(img,0,0);
}
draw('cb', function(u,v){return D(0.6,300*u,300*v,75);}, -0.481, 0.569);
draw('cd', function(u,v){return D(0.6,200*u,200*v,150);}, -0.88, 0.933);
(function(){
  var cv=document.getElementById('cf'); if(!cv||!cv.getContext) return;
  var ctx=cv.getContext('2d'), W=cv.width, H=cv.height;
  var FS=0.005, DS=1, nF=160, nD=200, V=new Float32Array(nF*nD);
  for(var j=0;j<nD;j++) for(var k=0;k<nF;k++){ var d=j*DS; V[j*nF+k]=D(0.2+k*FS,d,d,150); }
  var img=ctx.createImageData(W,H), px=img.data, tmp=new Float32Array(W*H*3);
  var c=[0,0,0,0];
  for(var r=0;r<H;r++){
    var dd=200*(1-(r+0.5)/H), j=Math.min(nD-1,Math.floor(dd/DS));
    for(var i=0;i<W;i++){
      var f=0.8*(i+0.5)/W, k=Math.min(nF-1,Math.floor(f/FS));
      hot((V[j*nF+k]+0.962)/(0.946+0.962), c, 0);
      var o=3*(r*W+i); tmp[o]=c[0]; tmp[o+1]=c[1]; tmp[o+2]=c[2];
    }
  }
  var t2=new Float32Array(W*H*3);
  for(var r=0;r<H;r++) for(var i=0;i<W;i++){
    var a=Math.max(0,i-1), b=Math.min(W-1,i+1);
    for(var ch=0;ch<3;ch++) t2[3*(r*W+i)+ch]=0.25*tmp[3*(r*W+a)+ch]+0.5*tmp[3*(r*W+i)+ch]+0.25*tmp[3*(r*W+b)+ch];
  }
  for(var r=0;r<H;r++){ var a=Math.max(0,r-1), b=Math.min(H-1,r+1);
    for(var i=0;i<W;i++){ var o=4*(r*W+i);
      for(var ch=0;ch<3;ch++) px[o+ch]=Math.round(0.25*t2[3*(a*W+i)+ch]+0.5*t2[3*(r*W+i)+ch]+0.25*t2[3*(b*W+i)+ch]);
      px[o+3]=255; } }
  ctx.putImageData(img,0,0);
})();
})();
</script></body></html>
